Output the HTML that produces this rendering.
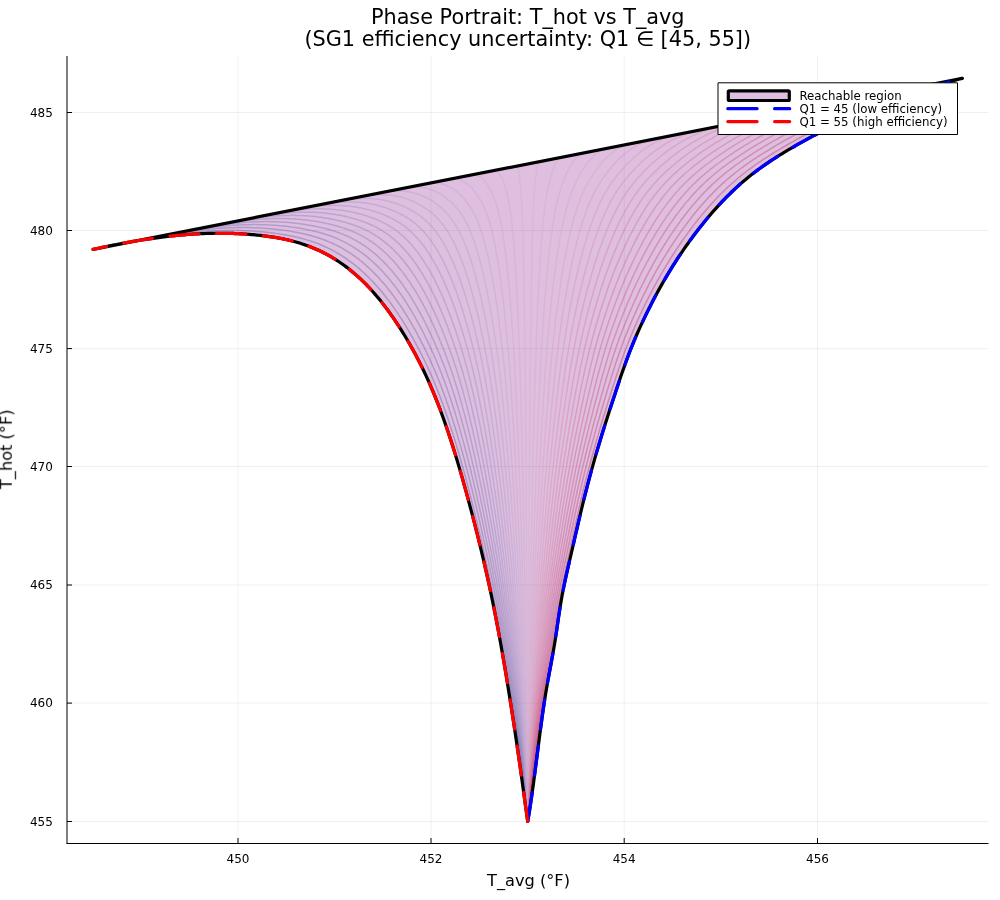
<!DOCTYPE html>
<html><head><meta charset="utf-8"><style>html,body{margin:0;padding:0;background:#fff;}svg{display:block;}</style></head>
<body><svg width="1000" height="900" viewBox="0 0 1000 900">
<rect width="1000" height="900" fill="#fff"/>
<g stroke="#000" stroke-opacity="0.06" stroke-width="1"><line x1="238.00" y1="56.0" x2="238.00" y2="843.5"/><line x1="431.00" y1="56.0" x2="431.00" y2="843.5"/><line x1="624.20" y1="56.0" x2="624.20" y2="843.5"/><line x1="817.50" y1="56.0" x2="817.50" y2="843.5"/><line x1="67.0" y1="821.50" x2="988.5" y2="821.50"/><line x1="67.0" y1="703.10" x2="988.5" y2="703.10"/><line x1="67.0" y1="585.00" x2="988.5" y2="585.00"/><line x1="67.0" y1="466.50" x2="988.5" y2="466.50"/><line x1="67.0" y1="348.60" x2="988.5" y2="348.60"/><line x1="67.0" y1="230.50" x2="988.5" y2="230.50"/><line x1="67.0" y1="112.50" x2="988.5" y2="112.50"/></g>
<g fill="none" stroke-width="1.5" stroke-opacity="0.35" stroke-linejoin="round"><path d="M527.70 821.50 L525.88 808.61 L524.06 795.23 L522.24 782.05 L520.43 769.09 L518.61 756.36 L516.79 743.85 L514.97 731.57 L513.15 719.53 L511.33 707.74 L509.51 696.19 L507.70 684.89 L505.88 673.84 L504.06 663.06 L502.24 652.55 L500.42 642.30 L498.60 632.33 L496.78 622.65 L494.96 613.25 L493.15 604.14 L491.33 595.31 L489.51 586.75 L487.69 578.43 L485.87 570.34 L484.05 562.44 L482.23 554.71 L480.42 547.15 L478.60 539.72 L476.78 532.41 L474.96 525.22 L473.14 518.14 L471.32 511.16 L469.50 504.29 L467.69 497.53 L465.87 490.88 L464.05 484.34 L462.23 477.92 L460.41 471.60 L458.59 465.41 L456.77 459.33 L454.96 453.38 L453.14 447.54 L451.32 441.84 L449.50 436.25 L447.68 430.79 L445.86 425.47 L444.04 420.27 L442.22 415.21 L440.41 410.28 L438.59 405.48 L436.77 400.82 L434.95 396.29 L433.13 391.88 L431.31 387.60 L429.49 383.42 L427.68 379.36 L425.86 375.40 L424.04 371.55 L422.22 367.79 L420.40 364.12 L418.58 360.54 L416.76 357.04 L414.95 353.62 L413.13 350.28 L411.31 347.01 L409.49 343.79 L407.67 340.65 L405.85 337.56 L404.03 334.54 L402.22 331.58 L400.40 328.68 L398.58 325.84 L396.76 323.06 L394.94 320.34 L393.12 317.68 L391.30 315.07 L389.48 312.52 L387.67 310.03 L385.85 307.59 L384.03 305.20 L382.21 302.88 L380.39 300.60 L378.57 298.38 L376.75 296.21 L374.94 294.09 L373.12 292.02 L371.30 290.00 L369.48 288.03 L367.66 286.11 L365.84 284.24 L364.02 282.41 L362.21 280.64 L360.39 278.91 L358.57 277.22 L356.75 275.58 L354.93 273.98 L353.11 272.43 L351.29 270.92 L349.48 269.45 L347.66 268.02 L345.84 266.64 L344.02 265.29 L342.20 263.99 L340.38 262.72 L338.56 261.49 L336.74 260.30 L334.93 259.14 L333.11 258.03 L331.29 256.94 L329.47 255.90 L327.65 254.88 L325.83 253.90 L324.01 252.96 L322.20 252.04 L320.38 251.16 L318.56 250.31 L316.74 249.49 L314.92 248.69 L313.10 247.93 L311.28 247.20 L309.47 246.49 L307.65 245.81 L305.83 245.16 L304.01 244.53 L302.19 243.93 L300.37 243.35 L298.55 242.79 L296.74 242.26 L294.92 241.75 L293.10 241.26 L291.28 240.80 L289.46 240.35 L287.64 239.92 L285.82 239.52 L284.01 239.13 L282.19 238.76 L280.37 238.40 L278.55 238.06 L276.73 237.74 L274.91 237.43 L273.09 237.14 L271.27 236.86 L269.46 236.60 L267.64 236.34 L265.82 236.10 L264.00 235.87 L262.18 235.65 L260.36 235.44 L258.54 235.24 L256.73 235.05 L254.91 234.87 L253.09 234.70 L251.27 234.54 L249.45 234.39 L247.63 234.25 L245.81 234.12 L244.00 234.00 L242.18 233.89 L240.36 233.78 L238.54 233.69 L236.72 233.60 L234.90 233.53 L233.08 233.46 L231.27 233.40 L229.45 233.36 L227.63 233.32 L225.81 233.28 L223.99 233.26 L222.17 233.25 L220.35 233.24 L218.53 233.24 L216.72 233.25 L214.90 233.27 L213.08 233.30 L211.26 233.34 L209.44 233.38 L207.62 233.43 L205.80 233.49 L203.99 233.56 L202.17 233.63 L200.35 233.72 L198.53 233.81 L196.71 233.90 L194.89 234.01 L193.07 234.12 L191.26 234.24 L189.44 234.37 L187.62 234.50 L185.80 234.64 L183.98 234.79 L182.16 234.94 L180.34 235.11 L178.53 235.27 L176.71 235.45 L174.89 235.63 L173.07 235.82 L171.25 236.01 L169.43 236.21 L167.61 236.42 L165.79 236.63 L163.98 236.85 L162.16 237.08 L160.34 237.31 L158.52 237.55 L156.70 237.79 L154.88 238.04 L153.06 238.29 L151.25 238.56 L149.43 238.82 L147.61 239.09 L145.79 239.37 L143.97 239.65 L142.15 239.94 L140.33 240.23 L138.52 240.53 L136.70 240.83 L134.88 241.14 L133.06 241.45 L131.24 241.77 L129.42 242.09 L127.60 242.41 L125.79 242.75 L123.97 243.08 L122.15 243.42 L120.33 243.76 L118.51 244.11 L116.69 244.47 L114.87 244.82 L113.05 245.18 L111.24 245.55 L109.42 245.92 L107.60 246.29 L105.78 246.66 L103.96 247.04 L102.14 247.43 L100.32 247.81 L98.51 248.20 L96.69 248.60 L94.87 248.99 L93.05 249.40" stroke="#326296"/><path d="M527.70 821.50 L525.97 808.67 L524.25 795.32 L522.52 782.15 L520.80 769.17 L519.07 756.40 L517.35 743.85 L515.62 731.53 L513.90 719.45 L512.17 707.63 L510.45 696.08 L508.72 684.80 L507.00 673.79 L505.27 663.04 L503.55 652.54 L501.82 642.28 L500.09 632.26 L498.37 622.50 L496.64 613.04 L494.92 603.90 L493.19 595.06 L491.47 586.50 L489.74 578.19 L488.02 570.10 L486.29 562.20 L484.57 554.47 L482.84 546.89 L481.12 539.45 L479.39 532.13 L477.66 524.92 L475.94 517.83 L474.21 510.84 L472.49 503.96 L470.76 497.20 L469.04 490.54 L467.31 484.00 L465.59 477.57 L463.86 471.25 L462.14 465.06 L460.41 458.98 L458.69 453.02 L456.96 447.19 L455.24 441.47 L453.51 435.88 L451.78 430.42 L450.06 425.08 L448.33 419.88 L446.61 414.80 L444.88 409.86 L443.16 405.04 L441.43 400.36 L439.71 395.81 L437.98 391.38 L436.26 387.07 L434.53 382.87 L432.81 378.79 L431.08 374.81 L429.35 370.93 L427.63 367.15 L425.90 363.47 L424.18 359.87 L422.45 356.36 L420.73 352.93 L419.00 349.57 L417.28 346.28 L415.55 343.05 L413.83 339.89 L412.10 336.79 L410.38 333.76 L408.65 330.78 L406.93 327.87 L405.20 325.01 L403.47 322.22 L401.75 319.48 L400.02 316.80 L398.30 314.18 L396.57 311.62 L394.85 309.11 L393.12 306.66 L391.40 304.26 L389.67 301.91 L387.95 299.62 L386.22 297.39 L384.50 295.20 L382.77 293.06 L381.04 290.98 L379.32 288.95 L377.59 286.96 L375.87 285.02 L374.14 283.13 L372.42 281.29 L370.69 279.50 L368.97 277.75 L367.24 276.04 L365.52 274.39 L363.79 272.77 L362.07 271.20 L360.34 269.67 L358.62 268.18 L356.89 266.73 L355.16 265.33 L353.44 263.96 L351.71 262.64 L349.99 261.35 L348.26 260.10 L346.54 258.89 L344.81 257.71 L343.09 256.57 L341.36 255.47 L339.64 254.40 L337.91 253.37 L336.19 252.37 L334.46 251.40 L332.73 250.46 L331.01 249.56 L329.28 248.69 L327.56 247.85 L325.83 247.03 L324.11 246.25 L322.38 245.49 L320.66 244.76 L318.93 244.06 L317.21 243.39 L315.48 242.74 L313.76 242.12 L312.03 241.52 L310.31 240.94 L308.58 240.39 L306.85 239.86 L305.13 239.35 L303.40 238.86 L301.68 238.39 L299.95 237.95 L298.23 237.52 L296.50 237.11 L294.78 236.72 L293.05 236.34 L291.33 235.98 L289.60 235.64 L287.88 235.31 L286.15 235.00 L284.42 234.70 L282.70 234.41 L280.97 234.14 L279.25 233.87 L277.52 233.62 L275.80 233.38 L274.07 233.15 L272.35 232.93 L270.62 232.72 L268.90 232.52 L267.17 232.32 L265.45 232.14 L263.72 231.97 L262.00 231.81 L260.27 231.65 L258.54 231.51 L256.82 231.38 L255.09 231.25 L253.37 231.13 L251.64 231.03 L249.92 230.93 L248.19 230.84 L246.47 230.76 L244.74 230.69 L243.02 230.63 L241.29 230.57 L239.57 230.53 L237.84 230.49 L236.11 230.46 L234.39 230.44 L232.66 230.43 L230.94 230.43 L229.21 230.43 L227.49 230.45 L225.76 230.47 L224.04 230.49 L222.31 230.53 L220.59 230.58 L218.86 230.63 L217.14 230.69 L215.41 230.75 L213.69 230.83 L211.96 230.91 L210.23 231.00 L208.51 231.10 L206.78 231.20 L205.06 231.31 L203.33 231.43 L201.61 231.55 L199.88 231.69 L198.16 231.82 L196.43 231.97 L194.71 232.12 L192.98 232.28 L191.26 232.45 L189.53 232.62 L187.80 232.79 L186.08 232.98 L184.35 233.17 L182.63 233.36 L180.90 233.57 L179.18 233.78 L177.45 233.99 L175.73 234.21 L174.00 234.44 L172.28 234.67 L170.55 234.90 L168.83 235.15 L167.10 235.39 L165.38 235.65 L163.65 235.91 L161.92 236.17 L160.20 236.44 L158.47 236.71 L156.75 236.99 L155.02 237.28 L153.30 237.57 L151.57 237.86 L149.85 238.16 L148.12 238.46 L146.40 238.77 L144.67 239.08 L142.95 239.40 L141.22 239.72 L139.49 240.04 L137.77 240.37 L136.04 240.71 L134.32 241.04 L132.59 241.39 L130.87 241.73 L129.14 242.08 L127.42 242.43 L125.69 242.79 L123.97 243.15 L122.24 243.51 L120.52 243.88 L118.79 244.25 L117.07 244.62 L115.34 245.02" stroke="#3c6b9d"/><path d="M527.70 821.50 L526.07 808.73 L524.44 795.41 L522.80 782.24 L521.17 769.25 L519.54 756.44 L517.91 743.85 L516.28 731.48 L514.64 719.37 L513.01 707.53 L511.38 695.98 L509.75 684.72 L508.11 673.74 L506.48 663.02 L504.85 652.53 L503.22 642.26 L501.59 632.19 L499.95 622.35 L498.32 612.83 L496.69 603.66 L495.06 594.81 L493.43 586.25 L491.79 577.94 L490.16 569.86 L488.53 561.96 L486.90 554.22 L485.27 546.64 L483.63 539.18 L482.00 531.85 L480.37 524.63 L478.74 517.52 L477.11 510.52 L475.47 503.64 L473.84 496.86 L472.21 490.20 L470.58 483.65 L468.94 477.22 L467.31 470.90 L465.68 464.70 L464.05 458.62 L462.42 452.66 L460.78 446.83 L459.15 441.11 L457.52 435.52 L455.89 430.05 L454.26 424.70 L452.62 419.49 L450.99 414.40 L449.36 409.44 L447.73 404.61 L446.10 399.91 L444.46 395.33 L442.83 390.88 L441.20 386.54 L439.57 382.32 L437.93 378.22 L436.30 374.22 L434.67 370.32 L433.04 366.52 L431.41 362.82 L429.77 359.21 L428.14 355.68 L426.51 352.23 L424.88 348.85 L423.25 345.55 L421.61 342.31 L419.98 339.13 L418.35 336.02 L416.72 332.97 L415.09 329.98 L413.45 327.05 L411.82 324.18 L410.19 321.37 L408.56 318.62 L406.93 315.93 L405.29 313.29 L403.66 310.72 L402.03 308.19 L400.40 305.73 L398.76 303.31 L397.13 300.95 L395.50 298.65 L393.87 296.40 L392.24 294.19 L390.60 292.04 L388.97 289.94 L387.34 287.89 L385.71 285.89 L384.08 283.94 L382.44 282.03 L380.81 280.17 L379.18 278.36 L377.55 276.59 L375.92 274.87 L374.28 273.19 L372.65 271.56 L371.02 269.97 L369.39 268.42 L367.75 266.91 L366.12 265.45 L364.49 264.02 L362.86 262.63 L361.23 261.29 L359.59 259.98 L357.96 258.71 L356.33 257.48 L354.70 256.28 L353.07 255.12 L351.43 254.00 L349.80 252.91 L348.17 251.85 L346.54 250.83 L344.91 249.84 L343.27 248.89 L341.64 247.96 L340.01 247.07 L338.38 246.20 L336.74 245.37 L335.11 244.57 L333.48 243.79 L331.85 243.04 L330.22 242.32 L328.58 241.62 L326.95 240.95 L325.32 240.31 L323.69 239.69 L322.06 239.09 L320.42 238.52 L318.79 237.97 L317.16 237.44 L315.53 236.93 L313.90 236.44 L312.26 235.97 L310.63 235.52 L309.00 235.09 L307.37 234.68 L305.74 234.28 L304.10 233.90 L302.47 233.54 L300.84 233.19 L299.21 232.85 L297.57 232.53 L295.94 232.22 L294.31 231.93 L292.68 231.64 L291.05 231.37 L289.41 231.11 L287.78 230.86 L286.15 230.61 L284.52 230.38 L282.89 230.16 L281.25 229.94 L279.62 229.74 L277.99 229.55 L276.36 229.36 L274.73 229.19 L273.09 229.02 L271.46 228.86 L269.83 228.72 L268.20 228.58 L266.56 228.45 L264.93 228.33 L263.30 228.22 L261.67 228.12 L260.04 228.02 L258.40 227.94 L256.77 227.86 L255.14 227.79 L253.51 227.73 L251.88 227.68 L250.24 227.64 L248.61 227.61 L246.98 227.58 L245.35 227.56 L243.72 227.55 L242.08 227.55 L240.45 227.56 L238.82 227.57 L237.19 227.59 L235.56 227.62 L233.92 227.66 L232.29 227.70 L230.66 227.76 L229.03 227.81 L227.39 227.88 L225.76 227.95 L224.13 228.04 L222.50 228.12 L220.87 228.22 L219.23 228.32 L217.60 228.43 L215.97 228.54 L214.34 228.67 L212.71 228.80 L211.07 228.93 L209.44 229.07 L207.81 229.22 L206.18 229.38 L204.55 229.54 L202.91 229.70 L201.28 229.88 L199.65 230.06 L198.02 230.24 L196.38 230.43 L194.75 230.63 L193.12 230.83 L191.49 231.04 L189.86 231.25 L188.22 231.47 L186.59 231.70 L184.96 231.93 L183.33 232.16 L181.70 232.40 L180.06 232.65 L178.43 232.90 L176.80 233.16 L175.17 233.42 L173.54 233.68 L171.90 233.95 L170.27 234.23 L168.64 234.51 L167.01 234.79 L165.38 235.08 L163.74 235.38 L162.11 235.67 L160.48 235.97 L158.85 236.28 L157.21 236.59 L155.58 236.91 L153.95 237.22 L152.32 237.55 L150.69 237.87 L149.05 238.20 L147.42 238.54 L145.79 238.87 L144.16 239.21 L142.53 239.56 L140.89 239.90 L139.26 240.26 L137.63 240.63" stroke="#4774a4"/><path d="M527.70 821.50 L526.16 808.79 L524.62 795.50 L523.08 782.34 L521.54 769.32 L520.01 756.48 L518.47 743.84 L516.93 731.44 L515.39 719.29 L513.85 707.43 L512.31 695.88 L510.77 684.64 L509.23 673.69 L507.70 662.99 L506.16 652.52 L504.62 642.23 L503.08 632.11 L501.54 622.20 L500.00 612.62 L498.46 603.42 L496.92 594.56 L495.38 586.00 L493.85 577.70 L492.31 569.62 L490.77 561.72 L489.23 553.98 L487.69 546.38 L486.15 538.92 L484.61 531.57 L483.07 524.33 L481.54 517.21 L480.00 510.20 L478.46 503.31 L476.92 496.53 L475.38 489.86 L473.84 483.31 L472.30 476.87 L470.76 470.55 L469.22 464.35 L467.69 458.27 L466.15 452.31 L464.61 446.47 L463.07 440.75 L461.53 435.15 L459.99 429.67 L458.45 424.32 L456.91 419.09 L455.37 413.99 L453.84 409.02 L452.30 404.17 L450.76 399.45 L449.22 394.85 L447.68 390.38 L446.14 386.02 L444.60 381.78 L443.06 377.64 L441.53 373.62 L439.99 369.70 L438.45 365.89 L436.91 362.17 L435.37 358.54 L433.83 354.99 L432.29 351.53 L430.75 348.14 L429.21 344.82 L427.68 341.57 L426.14 338.38 L424.60 335.25 L423.06 332.18 L421.52 329.18 L419.98 326.24 L418.44 323.35 L416.90 320.53 L415.37 317.76 L413.83 315.06 L412.29 312.41 L410.75 309.81 L409.21 307.28 L407.67 304.80 L406.13 302.37 L404.59 299.99 L403.05 297.67 L401.52 295.40 L399.98 293.19 L398.44 291.02 L396.90 288.90 L395.36 286.84 L393.82 284.82 L392.28 282.85 L390.74 280.93 L389.21 279.05 L387.67 277.22 L386.13 275.44 L384.59 273.69 L383.05 272.00 L381.51 270.35 L379.97 268.74 L378.43 267.17 L376.89 265.64 L375.36 264.16 L373.82 262.71 L372.28 261.31 L370.74 259.94 L369.20 258.61 L367.66 257.32 L366.12 256.07 L364.58 254.85 L363.05 253.67 L361.51 252.53 L359.97 251.42 L358.43 250.34 L356.89 249.30 L355.35 248.29 L353.81 247.31 L352.27 246.36 L350.73 245.45 L349.20 244.56 L347.66 243.71 L346.12 242.88 L344.58 242.09 L343.04 241.32 L341.50 240.57 L339.96 239.86 L338.42 239.17 L336.88 238.50 L335.35 237.86 L333.81 237.24 L332.27 236.65 L330.73 236.07 L329.19 235.52 L327.65 234.99 L326.11 234.48 L324.57 234.00 L323.04 233.52 L321.50 233.07 L319.96 232.64 L318.42 232.22 L316.88 231.82 L315.34 231.43 L313.80 231.06 L312.26 230.71 L310.72 230.37 L309.19 230.04 L307.65 229.72 L306.11 229.41 L304.57 229.12 L303.03 228.84 L301.49 228.56 L299.95 228.30 L298.41 228.04 L296.88 227.80 L295.34 227.56 L293.80 227.34 L292.26 227.12 L290.72 226.92 L289.18 226.72 L287.64 226.53 L286.10 226.35 L284.56 226.18 L283.03 226.02 L281.49 225.87 L279.95 225.73 L278.41 225.60 L276.87 225.47 L275.33 225.36 L273.79 225.25 L272.25 225.15 L270.72 225.06 L269.18 224.98 L267.64 224.91 L266.10 224.84 L264.56 224.78 L263.02 224.74 L261.48 224.70 L259.94 224.66 L258.40 224.64 L256.87 224.62 L255.33 224.61 L253.79 224.61 L252.25 224.62 L250.71 224.63 L249.17 224.65 L247.63 224.68 L246.09 224.72 L244.55 224.76 L243.02 224.81 L241.48 224.87 L239.94 224.94 L238.40 225.01 L236.86 225.09 L235.32 225.17 L233.78 225.26 L232.24 225.36 L230.71 225.47 L229.17 225.58 L227.63 225.70 L226.09 225.82 L224.55 225.96 L223.01 226.09 L221.47 226.24 L219.93 226.39 L218.39 226.54 L216.86 226.71 L215.32 226.87 L213.78 227.05 L212.24 227.23 L210.70 227.41 L209.16 227.60 L207.62 227.80 L206.08 228.00 L204.55 228.21 L203.01 228.42 L201.47 228.64 L199.93 228.86 L198.39 229.09 L196.85 229.32 L195.31 229.56 L193.77 229.80 L192.23 230.05 L190.70 230.30 L189.16 230.56 L187.62 230.82 L186.08 231.08 L184.54 231.35 L183.00 231.63 L181.46 231.91 L179.92 232.19 L178.39 232.48 L176.85 232.77 L175.31 233.06 L173.77 233.36 L172.23 233.66 L170.69 233.97 L169.15 234.28 L167.61 234.60 L166.07 234.91 L164.54 235.23 L163.00 235.56 L161.46 235.89 L159.92 236.25" stroke="#517dac"/><path d="M527.70 821.50 L526.25 808.84 L524.81 795.60 L523.36 782.44 L521.92 769.40 L520.47 756.52 L519.03 743.84 L517.58 731.39 L516.14 719.20 L514.69 707.32 L513.24 695.77 L511.80 684.56 L510.35 673.64 L508.91 662.97 L507.46 652.51 L506.02 642.21 L504.57 632.04 L503.13 622.05 L501.68 612.41 L500.23 603.17 L498.79 594.30 L497.34 585.75 L495.90 577.45 L494.45 569.38 L493.01 561.48 L491.56 553.73 L490.12 546.13 L488.67 538.65 L487.22 531.29 L485.78 524.04 L484.33 516.91 L482.89 509.89 L481.44 502.98 L480.00 496.19 L478.55 489.52 L477.11 482.96 L475.66 476.52 L474.21 470.20 L472.77 464.00 L471.32 457.91 L469.88 451.95 L468.43 446.11 L466.99 440.38 L465.54 434.78 L464.09 429.30 L462.65 423.94 L461.20 418.70 L459.76 413.59 L458.31 408.59 L456.87 403.73 L455.42 398.99 L453.98 394.37 L452.53 389.87 L451.08 385.49 L449.64 381.23 L448.19 377.07 L446.75 373.03 L445.30 369.09 L443.86 365.26 L442.41 361.52 L440.97 357.87 L439.52 354.31 L438.07 350.83 L436.63 347.43 L435.18 344.09 L433.74 340.82 L432.29 337.62 L430.85 334.48 L429.40 331.40 L427.96 328.38 L426.51 325.42 L425.06 322.52 L423.62 319.68 L422.17 316.91 L420.73 314.18 L419.28 311.52 L417.84 308.91 L416.39 306.36 L414.95 303.86 L413.50 301.42 L412.05 299.03 L410.61 296.70 L409.16 294.41 L407.72 292.18 L406.27 290.00 L404.83 287.87 L403.38 285.78 L401.94 283.75 L400.49 281.76 L399.04 279.82 L397.60 277.93 L396.15 276.08 L394.71 274.28 L393.26 272.52 L391.82 270.81 L390.37 269.13 L388.93 267.50 L387.48 265.92 L386.03 264.37 L384.59 262.87 L383.14 261.40 L381.70 259.98 L380.25 258.59 L378.81 257.24 L377.36 255.93 L375.92 254.66 L374.47 253.42 L373.02 252.22 L371.58 251.06 L370.13 249.92 L368.69 248.83 L367.24 247.76 L365.80 246.73 L364.35 245.73 L362.91 244.77 L361.46 243.83 L360.01 242.92 L358.57 242.05 L357.12 241.20 L355.68 240.38 L354.23 239.59 L352.79 238.83 L351.34 238.09 L349.89 237.38 L348.45 236.69 L347.00 236.03 L345.56 235.39 L344.11 234.77 L342.67 234.18 L341.22 233.61 L339.78 233.06 L338.33 232.53 L336.88 232.02 L335.44 231.53 L333.99 231.06 L332.55 230.60 L331.10 230.16 L329.66 229.74 L328.21 229.33 L326.77 228.94 L325.32 228.56 L323.87 228.20 L322.43 227.85 L320.98 227.51 L319.54 227.19 L318.09 226.87 L316.65 226.56 L315.20 226.27 L313.76 225.98 L312.31 225.71 L310.86 225.44 L309.42 225.18 L307.97 224.94 L306.53 224.70 L305.08 224.47 L303.64 224.25 L302.19 224.04 L300.75 223.84 L299.30 223.65 L297.85 223.47 L296.41 223.29 L294.96 223.13 L293.52 222.97 L292.07 222.83 L290.63 222.69 L289.18 222.56 L287.74 222.44 L286.29 222.33 L284.84 222.22 L283.40 222.13 L281.95 222.04 L280.51 221.96 L279.06 221.89 L277.62 221.83 L276.17 221.77 L274.73 221.72 L273.28 221.68 L271.83 221.65 L270.39 221.63 L268.94 221.61 L267.50 221.60 L266.05 221.60 L264.61 221.61 L263.16 221.62 L261.72 221.64 L260.27 221.67 L258.82 221.71 L257.38 221.75 L255.93 221.80 L254.49 221.85 L253.04 221.91 L251.60 221.98 L250.15 222.06 L248.71 222.14 L247.26 222.23 L245.81 222.33 L244.37 222.43 L242.92 222.54 L241.48 222.65 L240.03 222.77 L238.59 222.90 L237.14 223.03 L235.70 223.17 L234.25 223.31 L232.80 223.47 L231.36 223.62 L229.91 223.78 L228.47 223.95 L227.02 224.12 L225.58 224.30 L224.13 224.49 L222.68 224.67 L221.24 224.87 L219.79 225.07 L218.35 225.27 L216.90 225.48 L215.46 225.70 L214.01 225.92 L212.57 226.14 L211.12 226.37 L209.67 226.60 L208.23 226.84 L206.78 227.08 L205.34 227.33 L203.89 227.58 L202.45 227.84 L201.00 228.10 L199.56 228.36 L198.11 228.63 L196.66 228.90 L195.22 229.18 L193.77 229.46 L192.33 229.74 L190.88 230.03 L189.44 230.32 L187.99 230.61 L186.55 230.91 L185.10 231.21 L183.65 231.52 L182.21 231.86" stroke="#5b86b3"/><path d="M527.70 821.50 L526.35 808.90 L525.00 795.69 L523.64 782.53 L522.29 769.48 L520.94 756.56 L519.59 743.84 L518.23 731.34 L516.88 719.12 L515.53 707.22 L514.18 695.67 L512.82 684.48 L511.47 673.59 L510.12 662.95 L508.77 652.50 L507.42 642.19 L506.06 631.97 L504.71 621.90 L503.36 612.20 L502.01 602.93 L500.65 594.05 L499.30 585.50 L497.95 577.21 L496.60 569.14 L495.24 561.24 L493.89 553.49 L492.54 545.87 L491.19 538.38 L489.84 531.01 L488.48 523.75 L487.13 516.60 L485.78 509.57 L484.43 502.65 L483.07 495.85 L481.72 489.18 L480.37 482.61 L479.02 476.17 L477.66 469.85 L476.31 463.65 L474.96 457.56 L473.61 451.59 L472.26 445.75 L470.90 440.02 L469.55 434.41 L468.20 428.92 L466.85 423.56 L465.49 418.31 L464.14 413.18 L462.79 408.17 L461.44 403.29 L460.08 398.53 L458.73 393.89 L457.38 389.37 L456.03 384.97 L454.68 380.68 L453.32 376.50 L451.97 372.43 L450.62 368.48 L449.27 364.62 L447.91 360.87 L446.56 357.20 L445.21 353.63 L443.86 350.13 L442.50 346.71 L441.15 343.36 L439.80 340.08 L438.45 336.86 L437.10 333.70 L435.74 330.61 L434.39 327.58 L433.04 324.60 L431.69 321.69 L430.33 318.84 L428.98 316.05 L427.63 313.31 L426.28 310.63 L424.92 308.01 L423.57 305.45 L422.22 302.93 L420.87 300.48 L419.52 298.07 L418.16 295.72 L416.81 293.42 L415.46 291.17 L414.11 288.98 L412.75 286.83 L411.40 284.73 L410.05 282.68 L408.70 280.68 L407.34 278.72 L405.99 276.81 L404.64 274.94 L403.29 273.12 L401.94 271.34 L400.58 269.61 L399.23 267.92 L397.88 266.27 L396.53 264.67 L395.17 263.10 L393.82 261.58 L392.47 260.09 L391.12 258.65 L389.76 257.24 L388.41 255.87 L387.06 254.54 L385.71 253.25 L384.36 251.99 L383.00 250.77 L381.65 249.58 L380.30 248.43 L378.95 247.31 L377.59 246.23 L376.24 245.18 L374.89 244.16 L373.54 243.17 L372.18 242.21 L370.83 241.28 L369.48 240.39 L368.13 239.52 L366.78 238.68 L365.42 237.87 L364.07 237.08 L362.72 236.32 L361.37 235.59 L360.01 234.88 L358.66 234.20 L357.31 233.54 L355.96 232.90 L354.60 232.29 L353.25 231.70 L351.90 231.13 L350.55 230.57 L349.20 230.04 L347.84 229.53 L346.49 229.04 L345.14 228.56 L343.79 228.10 L342.43 227.66 L341.08 227.23 L339.73 226.82 L338.38 226.42 L337.02 226.04 L335.67 225.66 L334.32 225.30 L332.97 224.96 L331.62 224.62 L330.26 224.29 L328.91 223.97 L327.56 223.67 L326.21 223.37 L324.85 223.08 L323.50 222.80 L322.15 222.53 L320.80 222.27 L319.44 222.02 L318.09 221.78 L316.74 221.55 L315.39 221.33 L314.04 221.12 L312.68 220.91 L311.33 220.72 L309.98 220.53 L308.63 220.35 L307.27 220.18 L305.92 220.02 L304.57 219.87 L303.22 219.73 L301.86 219.59 L300.51 219.47 L299.16 219.35 L297.81 219.24 L296.46 219.14 L295.10 219.04 L293.75 218.96 L292.40 218.88 L291.05 218.81 L289.69 218.75 L288.34 218.69 L286.99 218.65 L285.64 218.61 L284.28 218.58 L282.93 218.55 L281.58 218.53 L280.23 218.53 L278.88 218.52 L277.52 218.53 L276.17 218.54 L274.82 218.56 L273.47 218.58 L272.11 218.62 L270.76 218.66 L269.41 218.70 L268.06 218.76 L266.70 218.82 L265.35 218.88 L264.00 218.95 L262.65 219.03 L261.30 219.12 L259.94 219.21 L258.59 219.31 L257.24 219.41 L255.89 219.52 L254.53 219.64 L253.18 219.76 L251.83 219.88 L250.48 220.02 L249.12 220.16 L247.77 220.30 L246.42 220.45 L245.07 220.60 L243.72 220.76 L242.36 220.93 L241.01 221.10 L239.66 221.28 L238.31 221.46 L236.95 221.65 L235.60 221.84 L234.25 222.03 L232.90 222.23 L231.54 222.44 L230.19 222.65 L228.84 222.86 L227.49 223.08 L226.14 223.31 L224.78 223.54 L223.43 223.77 L222.08 224.00 L220.73 224.24 L219.37 224.49 L218.02 224.74 L216.67 224.99 L215.32 225.25 L213.96 225.51 L212.61 225.77 L211.26 226.04 L209.91 226.31 L208.56 226.59 L207.20 226.87 L205.85 227.15 L204.50 227.48" stroke="#658fba"/><path d="M527.70 821.50 L526.44 808.96 L525.18 795.78 L523.92 782.63 L522.66 769.55 L521.40 756.61 L520.15 743.84 L518.89 731.30 L517.63 719.04 L516.37 707.11 L515.11 695.57 L513.85 684.40 L512.59 673.54 L511.33 662.93 L510.07 652.49 L508.81 642.17 L507.56 631.89 L506.30 621.75 L505.04 611.99 L503.78 602.69 L502.52 593.80 L501.26 585.25 L500.00 576.97 L498.74 568.90 L497.48 561.00 L496.22 553.24 L494.96 545.62 L493.71 538.12 L492.45 530.73 L491.19 523.45 L489.93 516.29 L488.67 509.25 L487.41 502.32 L486.15 495.52 L484.89 488.83 L483.63 482.27 L482.37 475.82 L481.12 469.50 L479.86 463.29 L478.60 457.20 L477.34 451.24 L476.08 445.39 L474.82 439.66 L473.56 434.04 L472.30 428.55 L471.04 423.17 L469.78 417.92 L468.52 412.78 L467.27 407.75 L466.01 402.85 L464.75 398.07 L463.49 393.41 L462.23 388.87 L460.97 384.44 L459.71 380.13 L458.45 375.93 L457.19 371.84 L455.93 367.86 L454.68 363.99 L453.42 360.22 L452.16 356.54 L450.90 352.94 L449.64 349.43 L448.38 346.00 L447.12 342.64 L445.86 339.34 L444.60 336.10 L443.34 332.93 L442.09 329.82 L440.83 326.78 L439.57 323.79 L438.31 320.86 L437.05 318.00 L435.79 315.19 L434.53 312.44 L433.27 309.75 L432.01 307.11 L430.75 304.53 L429.49 302.00 L428.24 299.53 L426.98 297.11 L425.72 294.75 L424.46 292.43 L423.20 290.17 L421.94 287.96 L420.68 285.79 L419.42 283.68 L418.16 281.61 L416.90 279.59 L415.65 277.61 L414.39 275.69 L413.13 273.80 L411.87 271.96 L410.61 270.17 L409.35 268.42 L408.09 266.71 L406.83 265.04 L405.57 263.42 L404.31 261.83 L403.05 260.29 L401.80 258.78 L400.54 257.32 L399.28 255.89 L398.02 254.50 L396.76 253.15 L395.50 251.84 L394.24 250.56 L392.98 249.32 L391.72 248.11 L390.46 246.94 L389.21 245.80 L387.95 244.69 L386.69 243.62 L385.43 242.58 L384.17 241.57 L382.91 240.59 L381.65 239.64 L380.39 238.72 L379.13 237.83 L377.87 236.97 L376.61 236.14 L375.36 235.34 L374.10 234.56 L372.84 233.80 L371.58 233.07 L370.32 232.37 L369.06 231.69 L367.80 231.03 L366.54 230.40 L365.28 229.78 L364.02 229.19 L362.77 228.62 L361.51 228.07 L360.25 227.53 L358.99 227.02 L357.73 226.52 L356.47 226.04 L355.21 225.58 L353.95 225.13 L352.69 224.70 L351.43 224.28 L350.17 223.87 L348.92 223.48 L347.66 223.10 L346.40 222.73 L345.14 222.37 L343.88 222.02 L342.62 221.68 L341.36 221.35 L340.10 221.03 L338.84 220.72 L337.58 220.42 L336.33 220.13 L335.07 219.85 L333.81 219.58 L332.55 219.32 L331.29 219.06 L330.03 218.82 L328.77 218.58 L327.51 218.36 L326.25 218.14 L324.99 217.93 L323.73 217.73 L322.48 217.54 L321.22 217.36 L319.96 217.18 L318.70 217.02 L317.44 216.86 L316.18 216.71 L314.92 216.57 L313.66 216.44 L312.40 216.31 L311.14 216.20 L309.89 216.09 L308.63 215.99 L307.37 215.90 L306.11 215.81 L304.85 215.73 L303.59 215.66 L302.33 215.60 L301.07 215.55 L299.81 215.50 L298.55 215.46 L297.29 215.43 L296.04 215.40 L294.78 215.39 L293.52 215.37 L292.26 215.37 L291.00 215.37 L289.74 215.38 L288.48 215.40 L287.22 215.42 L285.96 215.45 L284.70 215.49 L283.45 215.53 L282.19 215.58 L280.93 215.64 L279.67 215.70 L278.41 215.77 L277.15 215.84 L275.89 215.92 L274.63 216.01 L273.37 216.10 L272.11 216.20 L270.86 216.30 L269.60 216.41 L268.34 216.53 L267.08 216.65 L265.82 216.77 L264.56 216.91 L263.30 217.04 L262.04 217.19 L260.78 217.33 L259.52 217.49 L258.26 217.65 L257.01 217.81 L255.75 217.98 L254.49 218.15 L253.23 218.33 L251.97 218.51 L250.71 218.70 L249.45 218.89 L248.19 219.08 L246.93 219.28 L245.67 219.49 L244.42 219.70 L243.16 219.91 L241.90 220.13 L240.64 220.35 L239.38 220.58 L238.12 220.81 L236.86 221.04 L235.60 221.28 L234.34 221.52 L233.08 221.76 L231.82 222.01 L230.57 222.26 L229.31 222.52 L228.05 222.78 L226.79 223.09" stroke="#7197c0"/><path d="M527.70 821.50 L526.53 809.02 L525.37 795.88 L524.20 782.73 L523.04 769.63 L521.87 756.65 L520.71 743.83 L519.54 731.25 L518.37 718.96 L517.21 707.01 L516.04 695.47 L514.88 684.32 L513.71 673.49 L512.54 662.90 L511.38 652.48 L510.21 642.15 L509.05 631.82 L507.88 621.60 L506.72 611.78 L505.55 602.45 L504.38 593.55 L503.22 584.99 L502.05 576.72 L500.89 568.66 L499.72 560.76 L498.56 553.00 L497.39 545.37 L496.22 537.85 L495.06 530.45 L493.89 523.16 L492.73 515.99 L491.56 508.93 L490.39 502.00 L489.23 495.18 L488.06 488.49 L486.90 481.92 L485.73 475.48 L484.57 469.15 L483.40 462.94 L482.23 456.85 L481.07 450.88 L479.90 445.03 L478.74 439.29 L477.57 433.68 L476.41 428.18 L475.24 422.79 L474.07 417.52 L472.91 412.37 L471.74 407.33 L470.58 402.41 L469.41 397.61 L468.25 392.93 L467.08 388.37 L465.91 383.92 L464.75 379.58 L463.58 375.36 L462.42 371.25 L461.25 367.25 L460.08 363.36 L458.92 359.57 L457.75 355.87 L456.59 352.26 L455.42 348.74 L454.26 345.29 L453.09 341.91 L451.92 338.59 L450.76 335.34 L449.59 332.16 L448.43 329.04 L447.26 325.97 L446.10 322.97 L444.93 320.03 L443.76 317.15 L442.60 314.33 L441.43 311.57 L440.27 308.86 L439.10 306.21 L437.93 303.61 L436.77 301.07 L435.60 298.59 L434.44 296.15 L433.27 293.77 L432.11 291.44 L430.94 289.16 L429.77 286.93 L428.61 284.75 L427.44 282.62 L426.28 280.54 L425.11 278.50 L423.95 276.51 L422.78 274.57 L421.61 272.66 L420.45 270.81 L419.28 268.99 L418.12 267.22 L416.95 265.50 L415.78 263.81 L414.62 262.17 L413.45 260.56 L412.29 259.00 L411.12 257.48 L409.96 255.99 L408.79 254.54 L407.62 253.14 L406.46 251.76 L405.29 250.43 L404.13 249.13 L402.96 247.87 L401.80 246.64 L400.63 245.44 L399.46 244.28 L398.30 243.16 L397.13 242.06 L395.97 241.00 L394.80 239.97 L393.64 238.97 L392.47 238.00 L391.30 237.06 L390.14 236.15 L388.97 235.27 L387.81 234.42 L386.64 233.59 L385.47 232.79 L384.31 232.01 L383.14 231.27 L381.98 230.54 L380.81 229.84 L379.65 229.16 L378.48 228.50 L377.31 227.87 L376.15 227.26 L374.98 226.66 L373.82 226.09 L372.65 225.54 L371.49 225.00 L370.32 224.48 L369.15 223.98 L367.99 223.50 L366.82 223.03 L365.66 222.57 L364.49 222.13 L363.32 221.70 L362.16 221.29 L360.99 220.89 L359.83 220.50 L358.66 220.12 L357.50 219.75 L356.33 219.39 L355.16 219.04 L354.00 218.70 L352.83 218.36 L351.67 218.04 L350.50 217.73 L349.34 217.43 L348.17 217.13 L347.00 216.85 L345.84 216.57 L344.67 216.31 L343.51 216.05 L342.34 215.80 L341.17 215.56 L340.01 215.33 L338.84 215.11 L337.68 214.90 L336.51 214.69 L335.35 214.49 L334.18 214.31 L333.01 214.13 L331.85 213.96 L330.68 213.79 L329.52 213.64 L328.35 213.49 L327.19 213.35 L326.02 213.22 L324.85 213.10 L323.69 212.98 L322.52 212.87 L321.36 212.77 L320.19 212.68 L319.03 212.60 L317.86 212.52 L316.69 212.45 L315.53 212.39 L314.36 212.33 L313.20 212.28 L312.03 212.24 L310.86 212.21 L309.70 212.18 L308.53 212.16 L307.37 212.15 L306.20 212.14 L305.04 212.14 L303.87 212.15 L302.70 212.16 L301.54 212.18 L300.37 212.21 L299.21 212.24 L298.04 212.28 L296.88 212.32 L295.71 212.38 L294.54 212.43 L293.38 212.50 L292.21 212.57 L291.05 212.64 L289.88 212.72 L288.71 212.81 L287.55 212.90 L286.38 213.00 L285.22 213.10 L284.05 213.21 L282.89 213.32 L281.72 213.44 L280.55 213.57 L279.39 213.70 L278.22 213.83 L277.06 213.97 L275.89 214.12 L274.73 214.27 L273.56 214.42 L272.39 214.58 L271.23 214.74 L270.06 214.91 L268.90 215.08 L267.73 215.26 L266.56 215.44 L265.40 215.63 L264.23 215.82 L263.07 216.01 L261.90 216.21 L260.74 216.42 L259.57 216.62 L258.40 216.83 L257.24 217.05 L256.07 217.27 L254.91 217.49 L253.74 217.71 L252.58 217.94 L251.41 218.17 L250.24 218.41 L249.08 218.71" stroke="#7c9fc6"/><path d="M527.70 821.50 L526.63 809.08 L525.55 795.97 L524.48 782.82 L523.41 769.71 L522.34 756.69 L521.26 743.83 L520.19 731.20 L519.12 718.87 L518.05 706.91 L516.97 695.36 L515.90 684.24 L514.83 673.44 L513.76 662.88 L512.68 652.47 L511.61 642.12 L510.54 631.74 L509.47 621.45 L508.39 611.58 L507.32 602.21 L506.25 593.30 L505.18 584.74 L504.10 576.48 L503.03 568.42 L501.96 560.52 L500.89 552.75 L499.81 545.11 L498.74 537.58 L497.67 530.17 L496.60 522.86 L495.52 515.68 L494.45 508.61 L493.38 501.67 L492.31 494.85 L491.23 488.15 L490.16 481.58 L489.09 475.13 L488.02 468.80 L486.94 462.59 L485.87 456.49 L484.80 450.52 L483.73 444.67 L482.65 438.93 L481.58 433.31 L480.51 427.80 L479.44 422.41 L478.36 417.13 L477.29 411.97 L476.22 406.91 L475.15 401.98 L474.07 397.16 L473.00 392.45 L471.93 387.86 L470.86 383.39 L469.78 379.03 L468.71 374.79 L467.64 370.65 L466.57 366.63 L465.49 362.72 L464.42 358.91 L463.35 355.20 L462.28 351.58 L461.20 348.04 L460.13 344.57 L459.06 341.18 L457.99 337.85 L456.91 334.59 L455.84 331.39 L454.77 328.25 L453.70 325.17 L452.62 322.16 L451.55 319.20 L450.48 316.31 L449.41 313.47 L448.33 310.69 L447.26 307.97 L446.19 305.31 L445.12 302.70 L444.04 300.14 L442.97 297.64 L441.90 295.19 L440.83 292.80 L439.75 290.45 L438.68 288.16 L437.61 285.91 L436.54 283.72 L435.46 281.57 L434.39 279.47 L433.32 277.41 L432.25 275.41 L431.17 273.44 L430.10 271.53 L429.03 269.65 L427.96 267.82 L426.88 266.03 L425.81 264.29 L424.74 262.58 L423.67 260.92 L422.59 259.29 L421.52 257.71 L420.45 256.17 L419.38 254.66 L418.30 253.20 L417.23 251.77 L416.16 250.37 L415.09 249.02 L414.01 247.70 L412.94 246.42 L411.87 245.17 L410.80 243.95 L409.72 242.77 L408.65 241.62 L407.58 240.51 L406.51 239.42 L405.43 238.37 L404.36 237.35 L403.29 236.36 L402.22 235.40 L401.14 234.47 L400.07 233.57 L399.00 232.69 L397.93 231.84 L396.85 231.02 L395.78 230.23 L394.71 229.46 L393.64 228.71 L392.56 227.99 L391.49 227.29 L390.42 226.61 L389.35 225.96 L388.27 225.32 L387.20 224.71 L386.13 224.12 L385.05 223.54 L383.98 222.98 L382.91 222.44 L381.84 221.92 L380.76 221.42 L379.69 220.92 L378.62 220.45 L377.55 219.99 L376.47 219.54 L375.40 219.10 L374.33 218.68 L373.26 218.27 L372.18 217.87 L371.11 217.48 L370.04 217.09 L368.97 216.72 L367.89 216.36 L366.82 216.01 L365.75 215.66 L364.68 215.33 L363.60 215.00 L362.53 214.69 L361.46 214.38 L360.39 214.08 L359.31 213.80 L358.24 213.52 L357.17 213.25 L356.10 212.98 L355.02 212.73 L353.95 212.49 L352.88 212.25 L351.81 212.02 L350.73 211.81 L349.66 211.59 L348.59 211.39 L347.52 211.20 L346.44 211.01 L345.37 210.84 L344.30 210.67 L343.23 210.51 L342.15 210.35 L341.08 210.21 L340.01 210.07 L338.94 209.94 L337.86 209.82 L336.79 209.70 L335.72 209.59 L334.65 209.49 L333.57 209.40 L332.50 209.31 L331.43 209.24 L330.36 209.16 L329.28 209.10 L328.21 209.04 L327.14 208.99 L326.07 208.95 L324.99 208.91 L323.92 208.88 L322.85 208.86 L321.78 208.85 L320.70 208.84 L319.63 208.83 L318.56 208.84 L317.49 208.84 L316.41 208.86 L315.34 208.88 L314.27 208.91 L313.20 208.94 L312.12 208.98 L311.05 209.03 L309.98 209.08 L308.91 209.14 L307.83 209.20 L306.76 209.27 L305.69 209.35 L304.62 209.43 L303.54 209.51 L302.47 209.60 L301.40 209.70 L300.33 209.80 L299.25 209.91 L298.18 210.02 L297.11 210.13 L296.04 210.26 L294.96 210.38 L293.89 210.51 L292.82 210.65 L291.75 210.79 L290.67 210.93 L289.60 211.08 L288.53 211.24 L287.46 211.40 L286.38 211.56 L285.31 211.73 L284.24 211.90 L283.17 212.07 L282.09 212.25 L281.02 212.44 L279.95 212.62 L278.88 212.82 L277.80 213.01 L276.73 213.21 L275.66 213.41 L274.59 213.62 L273.51 213.83 L272.44 214.04 L271.37 214.32" stroke="#87a8cc"/><path d="M527.70 821.50 L526.72 809.13 L525.74 796.06 L524.76 782.92 L523.78 769.78 L522.80 756.73 L521.82 743.83 L520.85 731.16 L519.87 718.79 L518.89 706.80 L517.91 695.26 L516.93 684.16 L515.95 673.39 L514.97 662.86 L513.99 652.47 L513.01 642.10 L512.03 631.67 L511.05 621.30 L510.07 611.37 L509.09 601.97 L508.11 593.05 L507.14 584.49 L506.16 576.23 L505.18 568.18 L504.20 560.28 L503.22 552.51 L502.24 544.86 L501.26 537.32 L500.28 529.89 L499.30 522.57 L498.32 515.37 L497.34 508.29 L496.36 501.34 L495.38 494.51 L494.41 487.81 L493.43 481.23 L492.45 474.78 L491.47 468.45 L490.49 462.23 L489.51 456.14 L488.53 450.17 L487.55 444.31 L486.57 438.57 L485.59 432.94 L484.61 427.43 L483.63 422.03 L482.65 416.74 L481.67 411.56 L480.70 406.49 L479.72 401.54 L478.74 396.70 L477.76 391.97 L476.78 387.36 L475.80 382.86 L474.82 378.48 L473.84 374.21 L472.86 370.06 L471.88 366.02 L470.90 362.09 L469.92 358.26 L468.94 354.53 L467.97 350.90 L466.99 347.34 L466.01 343.86 L465.03 340.45 L464.05 337.11 L463.07 333.83 L462.09 330.61 L461.11 327.46 L460.13 324.37 L459.15 321.34 L458.17 318.37 L457.19 315.47 L456.21 312.61 L455.24 309.82 L454.26 307.09 L453.28 304.41 L452.30 301.78 L451.32 299.21 L450.34 296.69 L449.36 294.23 L448.38 291.82 L447.40 289.46 L446.42 287.15 L445.44 284.89 L444.46 282.68 L443.48 280.51 L442.50 278.40 L441.53 276.33 L440.55 274.30 L439.57 272.32 L438.59 270.39 L437.61 268.49 L436.63 266.64 L435.65 264.84 L434.67 263.07 L433.69 261.35 L432.71 259.67 L431.73 258.02 L430.75 256.42 L429.77 254.86 L428.80 253.33 L427.82 251.85 L426.84 250.40 L425.86 248.98 L424.88 247.61 L423.90 246.27 L422.92 244.96 L421.94 243.69 L420.96 242.46 L419.98 241.26 L419.00 240.09 L418.02 238.95 L417.04 237.85 L416.06 236.77 L415.09 235.73 L414.11 234.72 L413.13 233.74 L412.15 232.79 L411.17 231.86 L410.19 230.97 L409.21 230.10 L408.23 229.26 L407.25 228.44 L406.27 227.65 L405.29 226.88 L404.31 226.14 L403.33 225.42 L402.36 224.72 L401.38 224.04 L400.40 223.39 L399.42 222.75 L398.44 222.14 L397.46 221.54 L396.48 220.97 L395.50 220.41 L394.52 219.86 L393.54 219.33 L392.56 218.82 L391.58 218.33 L390.60 217.84 L389.62 217.37 L388.65 216.92 L387.67 216.47 L386.69 216.04 L385.71 215.62 L384.73 215.20 L383.75 214.80 L382.77 214.41 L381.79 214.02 L380.81 213.65 L379.83 213.28 L378.85 212.93 L377.87 212.58 L376.89 212.24 L375.92 211.91 L374.94 211.60 L373.96 211.28 L372.98 210.98 L372.00 210.69 L371.02 210.41 L370.04 210.13 L369.06 209.87 L368.08 209.61 L367.10 209.36 L366.12 209.12 L365.14 208.88 L364.16 208.66 L363.18 208.44 L362.21 208.24 L361.23 208.04 L360.25 207.84 L359.27 207.66 L358.29 207.48 L357.31 207.31 L356.33 207.15 L355.35 207.00 L354.37 206.86 L353.39 206.72 L352.41 206.59 L351.43 206.46 L350.45 206.35 L349.48 206.24 L348.50 206.14 L347.52 206.05 L346.54 205.96 L345.56 205.88 L344.58 205.81 L343.60 205.74 L342.62 205.68 L341.64 205.63 L340.66 205.58 L339.68 205.54 L338.70 205.51 L337.72 205.48 L336.74 205.46 L335.77 205.45 L334.79 205.44 L333.81 205.44 L332.83 205.44 L331.85 205.46 L330.87 205.47 L329.89 205.50 L328.91 205.52 L327.93 205.56 L326.95 205.60 L325.97 205.64 L324.99 205.69 L324.01 205.75 L323.04 205.81 L322.06 205.88 L321.08 205.95 L320.10 206.03 L319.12 206.12 L318.14 206.20 L317.16 206.30 L316.18 206.40 L315.20 206.50 L314.22 206.61 L313.24 206.72 L312.26 206.84 L311.28 206.96 L310.31 207.08 L309.33 207.22 L308.35 207.35 L307.37 207.49 L306.39 207.63 L305.41 207.78 L304.43 207.94 L303.45 208.09 L302.47 208.25 L301.49 208.42 L300.51 208.58 L299.53 208.76 L298.55 208.93 L297.57 209.11 L296.60 209.30 L295.62 209.48 L294.64 209.67 L293.66 209.94" stroke="#93b0d2"/><path d="M527.70 821.50 L526.81 809.19 L525.93 796.15 L525.04 783.02 L524.16 769.86 L523.27 756.77 L522.38 743.83 L521.50 731.11 L520.61 718.71 L519.73 706.70 L518.84 695.16 L517.95 684.07 L517.07 673.34 L516.18 662.84 L515.30 652.46 L514.41 642.08 L513.52 631.60 L512.64 621.15 L511.75 611.16 L510.87 601.73 L509.98 592.79 L509.09 584.24 L508.21 575.99 L507.32 567.94 L506.44 560.04 L505.55 552.26 L504.66 544.60 L503.78 537.05 L502.89 529.61 L502.01 522.28 L501.12 515.06 L500.23 507.97 L499.35 501.01 L498.46 494.18 L497.58 487.47 L496.69 480.89 L495.80 474.43 L494.92 468.09 L494.03 461.88 L493.15 455.78 L492.26 449.81 L491.37 443.95 L490.49 438.20 L489.60 432.57 L488.72 427.05 L487.83 421.65 L486.94 416.35 L486.06 411.16 L485.17 406.07 L484.29 401.10 L483.40 396.24 L482.51 391.49 L481.63 386.86 L480.74 382.34 L479.86 377.93 L478.97 373.64 L478.08 369.47 L477.20 365.41 L476.31 361.46 L475.43 357.61 L474.54 353.87 L473.65 350.21 L472.77 346.64 L471.88 343.15 L471.00 339.72 L470.11 336.37 L469.22 333.07 L468.34 329.84 L467.45 326.68 L466.57 323.57 L465.68 320.53 L464.79 317.54 L463.91 314.62 L463.02 311.76 L462.14 308.95 L461.25 306.20 L460.36 303.50 L459.48 300.86 L458.59 298.28 L457.71 295.75 L456.82 293.27 L455.93 290.84 L455.05 288.47 L454.16 286.14 L453.28 283.87 L452.39 281.64 L451.50 279.46 L450.62 277.33 L449.73 275.24 L448.85 273.20 L447.96 271.20 L447.07 269.25 L446.19 267.34 L445.30 265.47 L444.42 263.64 L443.53 261.86 L442.64 260.12 L441.76 258.42 L440.87 256.75 L439.99 255.13 L439.10 253.55 L438.21 252.00 L437.33 250.50 L436.44 249.03 L435.56 247.60 L434.67 246.20 L433.78 244.84 L432.90 243.51 L432.01 242.22 L431.13 240.97 L430.24 239.74 L429.35 238.55 L428.47 237.40 L427.58 236.27 L426.70 235.18 L425.81 234.11 L424.92 233.08 L424.04 232.08 L423.15 231.10 L422.27 230.16 L421.38 229.24 L420.49 228.35 L419.61 227.49 L418.72 226.65 L417.84 225.84 L416.95 225.05 L416.06 224.29 L415.18 223.55 L414.29 222.83 L413.41 222.13 L412.52 221.46 L411.63 220.80 L410.75 220.16 L409.86 219.55 L408.98 218.95 L408.09 218.37 L407.20 217.80 L406.32 217.25 L405.43 216.72 L404.55 216.20 L403.66 215.70 L402.77 215.21 L401.89 214.73 L401.00 214.26 L400.12 213.81 L399.23 213.37 L398.34 212.93 L397.46 212.51 L396.57 212.09 L395.69 211.69 L394.80 211.29 L393.91 210.90 L393.03 210.53 L392.14 210.16 L391.26 209.80 L390.37 209.45 L389.48 209.11 L388.60 208.77 L387.71 208.45 L386.83 208.14 L385.94 207.83 L385.05 207.53 L384.17 207.24 L383.28 206.96 L382.40 206.69 L381.51 206.43 L380.62 206.17 L379.74 205.93 L378.85 205.69 L377.97 205.46 L377.08 205.23 L376.20 205.02 L375.31 204.81 L374.42 204.61 L373.54 204.42 L372.65 204.24 L371.77 204.06 L370.88 203.90 L369.99 203.74 L369.11 203.58 L368.22 203.44 L367.34 203.30 L366.45 203.17 L365.56 203.04 L364.68 202.93 L363.79 202.82 L362.91 202.71 L362.02 202.62 L361.13 202.53 L360.25 202.45 L359.36 202.37 L358.48 202.30 L357.59 202.24 L356.70 202.18 L355.82 202.13 L354.93 202.09 L354.05 202.05 L353.16 202.02 L352.27 202.00 L351.39 201.98 L350.50 201.97 L349.62 201.96 L348.73 201.96 L347.84 201.97 L346.96 201.98 L346.07 201.99 L345.19 202.02 L344.30 202.04 L343.41 202.08 L342.53 202.12 L341.64 202.16 L340.76 202.21 L339.87 202.26 L338.98 202.32 L338.10 202.39 L337.21 202.46 L336.33 202.53 L335.44 202.61 L334.55 202.70 L333.67 202.79 L332.78 202.88 L331.90 202.98 L331.01 203.09 L330.12 203.19 L329.24 203.31 L328.35 203.42 L327.47 203.54 L326.58 203.67 L325.69 203.80 L324.81 203.93 L323.92 204.07 L323.04 204.21 L322.15 204.35 L321.26 204.50 L320.38 204.66 L319.49 204.81 L318.61 204.97 L317.72 205.14 L316.83 205.30 L315.95 205.55" stroke="#9eb8d7"/><path d="M527.70 821.50 L526.91 809.25 L526.11 796.25 L525.32 783.11 L524.53 769.94 L523.74 756.81 L522.94 743.82 L522.15 731.07 L521.36 718.63 L520.57 706.59 L519.77 695.05 L518.98 683.99 L518.19 673.29 L517.39 662.82 L516.60 652.45 L515.81 642.06 L515.02 631.52 L514.22 621.00 L513.43 610.95 L512.64 601.49 L511.85 592.54 L511.05 583.99 L510.26 575.74 L509.47 567.71 L508.67 559.80 L507.88 552.02 L507.09 544.35 L506.30 536.78 L505.50 529.33 L504.71 521.98 L503.92 514.76 L503.13 507.65 L502.33 500.68 L501.54 493.84 L500.75 487.13 L499.95 480.54 L499.16 474.08 L498.37 467.74 L497.58 461.53 L496.78 455.43 L495.99 449.45 L495.20 443.59 L494.41 437.84 L493.61 432.20 L492.82 426.68 L492.03 421.26 L491.23 415.95 L490.44 410.75 L489.65 405.65 L488.86 400.66 L488.06 395.78 L487.27 391.01 L486.48 386.35 L485.69 381.81 L484.89 377.38 L484.10 373.07 L483.31 368.87 L482.51 364.79 L481.72 360.82 L480.93 356.96 L480.14 353.20 L479.34 349.53 L478.55 345.94 L477.76 342.43 L476.97 338.99 L476.17 335.62 L475.38 332.31 L474.59 329.07 L473.79 325.89 L473.00 322.77 L472.21 319.71 L471.42 316.72 L470.62 313.78 L469.83 310.90 L469.04 308.08 L468.25 305.31 L467.45 302.60 L466.66 299.95 L465.87 297.35 L465.07 294.80 L464.28 292.31 L463.49 289.87 L462.70 287.48 L461.90 285.14 L461.11 282.85 L460.32 280.60 L459.53 278.41 L458.73 276.26 L457.94 274.15 L457.15 272.09 L456.35 270.08 L455.56 268.11 L454.77 266.18 L453.98 264.29 L453.18 262.45 L452.39 260.65 L451.60 258.89 L450.81 257.17 L450.01 255.49 L449.22 253.84 L448.43 252.24 L447.63 250.68 L446.84 249.15 L446.05 247.66 L445.26 246.21 L444.46 244.79 L443.67 243.41 L442.88 242.06 L442.09 240.75 L441.29 239.47 L440.50 238.23 L439.71 237.02 L438.91 235.84 L438.12 234.69 L437.33 233.58 L436.54 232.49 L435.74 231.44 L434.95 230.42 L434.16 229.42 L433.36 228.46 L432.57 227.52 L431.78 226.61 L430.99 225.72 L430.19 224.86 L429.40 224.03 L428.61 223.22 L427.82 222.44 L427.02 221.68 L426.23 220.94 L425.44 220.22 L424.64 219.52 L423.85 218.84 L423.06 218.19 L422.27 217.55 L421.47 216.93 L420.68 216.33 L419.89 215.74 L419.10 215.17 L418.30 214.62 L417.51 214.08 L416.72 213.55 L415.92 213.04 L415.13 212.54 L414.34 212.06 L413.55 211.58 L412.75 211.11 L411.96 210.66 L411.17 210.21 L410.38 209.78 L409.58 209.35 L408.79 208.93 L408.00 208.52 L407.20 208.12 L406.41 207.73 L405.62 207.35 L404.83 206.98 L404.03 206.62 L403.24 206.26 L402.45 205.92 L401.66 205.58 L400.86 205.25 L400.07 204.93 L399.28 204.62 L398.48 204.32 L397.69 204.02 L396.90 203.74 L396.11 203.46 L395.31 203.19 L394.52 202.93 L393.73 202.68 L392.94 202.43 L392.14 202.20 L391.35 201.97 L390.56 201.75 L389.76 201.53 L388.97 201.33 L388.18 201.13 L387.39 200.94 L386.59 200.75 L385.80 200.58 L385.01 200.41 L384.22 200.25 L383.42 200.09 L382.63 199.95 L381.84 199.81 L381.04 199.67 L380.25 199.55 L379.46 199.43 L378.67 199.32 L377.87 199.21 L377.08 199.11 L376.29 199.02 L375.50 198.94 L374.70 198.86 L373.91 198.78 L373.12 198.72 L372.32 198.66 L371.53 198.60 L370.74 198.56 L369.95 198.51 L369.15 198.48 L368.36 198.45 L367.57 198.43 L366.78 198.41 L365.98 198.40 L365.19 198.39 L364.40 198.39 L363.60 198.39 L362.81 198.40 L362.02 198.42 L361.23 198.44 L360.43 198.47 L359.64 198.50 L358.85 198.53 L358.06 198.58 L357.26 198.62 L356.47 198.67 L355.68 198.73 L354.88 198.79 L354.09 198.86 L353.30 198.93 L352.51 199.01 L351.71 199.09 L350.92 199.17 L350.13 199.26 L349.34 199.35 L348.54 199.45 L347.75 199.55 L346.96 199.66 L346.16 199.77 L345.37 199.88 L344.58 200.00 L343.79 200.12 L342.99 200.25 L342.20 200.38 L341.41 200.51 L340.62 200.65 L339.82 200.79 L339.03 200.93 L338.24 201.17" stroke="#a8bedb"/><path d="M527.70 821.50 L527.00 809.31 L526.30 796.34 L525.60 783.21 L524.90 770.01 L524.20 756.85 L523.50 743.82 L522.80 731.02 L522.10 718.54 L521.40 706.49 L520.71 694.95 L520.01 683.91 L519.31 673.24 L518.61 662.79 L517.91 652.44 L517.21 642.03 L516.51 631.45 L515.81 620.85 L515.11 610.74 L514.41 601.25 L513.71 592.29 L513.01 583.74 L512.31 575.50 L511.61 567.47 L510.91 559.56 L510.21 551.77 L509.51 544.09 L508.81 536.51 L508.11 529.05 L507.42 521.69 L506.72 514.45 L506.02 507.34 L505.32 500.35 L504.62 493.51 L503.92 486.79 L503.22 480.20 L502.52 473.73 L501.82 467.39 L501.12 461.17 L500.42 455.08 L499.72 449.09 L499.02 443.23 L498.32 437.48 L497.62 431.84 L496.92 426.30 L496.22 420.88 L495.52 415.56 L494.82 410.35 L494.13 405.23 L493.43 400.22 L492.73 395.32 L492.03 390.53 L491.33 385.85 L490.63 381.29 L489.93 376.83 L489.23 372.50 L488.53 368.28 L487.83 364.18 L487.13 360.19 L486.43 356.31 L485.73 352.53 L485.03 348.85 L484.33 345.24 L483.63 341.72 L482.93 338.27 L482.23 334.88 L481.54 331.56 L480.84 328.30 L480.14 325.10 L479.44 321.97 L478.74 318.90 L478.04 315.89 L477.34 312.93 L476.64 310.04 L475.94 307.20 L475.24 304.42 L474.54 301.70 L473.84 299.03 L473.14 296.42 L472.44 293.86 L471.74 291.35 L471.04 288.89 L470.34 286.49 L469.64 284.13 L468.94 281.82 L468.25 279.56 L467.55 277.35 L466.85 275.19 L466.15 273.07 L465.45 270.99 L464.75 268.96 L464.05 266.97 L463.35 265.02 L462.65 263.12 L461.95 261.26 L461.25 259.44 L460.55 257.66 L459.85 255.92 L459.15 254.22 L458.45 252.55 L457.75 250.93 L457.05 249.35 L456.35 247.80 L455.65 246.29 L454.96 244.82 L454.26 243.38 L453.56 241.98 L452.86 240.61 L452.16 239.28 L451.46 237.98 L450.76 236.71 L450.06 235.48 L449.36 234.28 L448.66 233.12 L447.96 231.98 L447.26 230.87 L446.56 229.80 L445.86 228.75 L445.16 227.74 L444.46 226.75 L443.76 225.79 L443.06 224.86 L442.36 223.96 L441.67 223.08 L440.97 222.22 L440.27 221.39 L439.57 220.59 L438.87 219.80 L438.17 219.04 L437.47 218.31 L436.77 217.59 L436.07 216.89 L435.37 216.21 L434.67 215.55 L433.97 214.91 L433.27 214.29 L432.57 213.68 L431.87 213.09 L431.17 212.52 L430.47 211.96 L429.77 211.41 L429.07 210.88 L428.38 210.36 L427.68 209.85 L426.98 209.35 L426.28 208.86 L425.58 208.39 L424.88 207.92 L424.18 207.46 L423.48 207.01 L422.78 206.57 L422.08 206.14 L421.38 205.72 L420.68 205.31 L419.98 204.91 L419.28 204.51 L418.58 204.13 L417.88 203.75 L417.18 203.38 L416.48 203.02 L415.78 202.67 L415.09 202.33 L414.39 202.00 L413.69 201.67 L412.99 201.36 L412.29 201.05 L411.59 200.75 L410.89 200.46 L410.19 200.18 L409.49 199.90 L408.79 199.63 L408.09 199.37 L407.39 199.12 L406.69 198.88 L405.99 198.64 L405.29 198.41 L404.59 198.19 L403.89 197.98 L403.19 197.77 L402.50 197.57 L401.80 197.38 L401.10 197.20 L400.40 197.02 L399.70 196.85 L399.00 196.69 L398.30 196.53 L397.60 196.38 L396.90 196.24 L396.20 196.11 L395.50 195.98 L394.80 195.86 L394.10 195.74 L393.40 195.63 L392.70 195.53 L392.00 195.43 L391.30 195.34 L390.60 195.26 L389.90 195.18 L389.21 195.11 L388.51 195.05 L387.81 194.99 L387.11 194.94 L386.41 194.89 L385.71 194.85 L385.01 194.81 L384.31 194.78 L383.61 194.76 L382.91 194.74 L382.21 194.73 L381.51 194.72 L380.81 194.72 L380.11 194.72 L379.41 194.73 L378.71 194.74 L378.01 194.76 L377.31 194.79 L376.61 194.81 L375.92 194.85 L375.22 194.89 L374.52 194.93 L373.82 194.98 L373.12 195.03 L372.42 195.09 L371.72 195.15 L371.02 195.21 L370.32 195.28 L369.62 195.36 L368.92 195.44 L368.22 195.52 L367.52 195.61 L366.82 195.70 L366.12 195.79 L365.42 195.89 L364.72 195.99 L364.02 196.10 L363.32 196.21 L362.63 196.33 L361.93 196.44 L361.23 196.56 L360.53 196.78" stroke="#b2c5de"/><path d="M527.70 821.50 L527.09 809.37 L526.49 796.43 L525.88 783.31 L525.28 770.09 L524.67 756.89 L524.06 743.82 L523.46 730.97 L522.85 718.46 L522.24 706.39 L521.64 694.85 L521.03 683.83 L520.43 673.19 L519.82 662.77 L519.21 652.43 L518.61 642.01 L518.00 631.38 L517.39 620.70 L516.79 610.53 L516.18 601.01 L515.58 592.04 L514.97 583.49 L514.36 575.26 L513.76 567.23 L513.15 559.32 L512.54 551.53 L511.94 543.84 L511.33 536.25 L510.73 528.76 L510.12 521.39 L509.51 514.14 L508.91 507.02 L508.30 500.03 L507.70 493.17 L507.09 486.45 L506.48 479.85 L505.88 473.38 L505.27 467.04 L504.66 460.82 L504.06 454.72 L503.45 448.74 L502.85 442.87 L502.24 437.11 L501.63 431.47 L501.03 425.93 L500.42 420.50 L499.81 415.17 L499.21 409.94 L498.60 404.81 L498.00 399.78 L497.39 394.86 L496.78 390.05 L496.18 385.35 L495.57 380.76 L494.96 376.29 L494.36 371.93 L493.75 367.69 L493.15 363.56 L492.54 359.56 L491.93 355.66 L491.33 351.87 L490.72 348.16 L490.12 344.55 L489.51 341.01 L488.90 337.54 L488.30 334.14 L487.69 330.80 L487.08 327.53 L486.48 324.32 L485.87 321.17 L485.27 318.08 L484.66 315.06 L484.05 312.09 L483.45 309.18 L482.84 306.33 L482.23 303.54 L481.63 300.80 L481.02 298.12 L480.42 295.49 L479.81 292.91 L479.20 290.39 L478.60 287.92 L477.99 285.50 L477.38 283.12 L476.78 280.80 L476.17 278.53 L475.57 276.30 L474.96 274.12 L474.35 271.98 L473.75 269.89 L473.14 267.84 L472.54 265.83 L471.93 263.87 L471.32 261.95 L470.72 260.06 L470.11 258.22 L469.50 256.43 L468.90 254.67 L468.29 252.95 L467.69 251.27 L467.08 249.62 L466.47 248.02 L465.87 246.45 L465.26 244.92 L464.65 243.43 L464.05 241.97 L463.44 240.55 L462.84 239.16 L462.23 237.81 L461.62 236.49 L461.02 235.20 L460.41 233.95 L459.80 232.73 L459.20 231.54 L458.59 230.38 L457.99 229.25 L457.38 228.16 L456.77 227.09 L456.17 226.06 L455.56 225.05 L454.96 224.07 L454.35 223.12 L453.74 222.19 L453.14 221.29 L452.53 220.41 L451.92 219.56 L451.32 218.74 L450.71 217.93 L450.11 217.15 L449.50 216.39 L448.89 215.65 L448.29 214.93 L447.68 214.24 L447.07 213.56 L446.47 212.89 L445.86 212.25 L445.26 211.62 L444.65 211.01 L444.04 210.41 L443.44 209.83 L442.83 209.27 L442.22 208.71 L441.62 208.17 L441.01 207.64 L440.41 207.12 L439.80 206.61 L439.19 206.11 L438.59 205.63 L437.98 205.15 L437.38 204.68 L436.77 204.21 L436.16 203.76 L435.56 203.32 L434.95 202.89 L434.34 202.46 L433.74 202.05 L433.13 201.64 L432.53 201.24 L431.92 200.85 L431.31 200.47 L430.71 200.10 L430.10 199.73 L429.49 199.38 L428.89 199.03 L428.28 198.69 L427.68 198.36 L427.07 198.04 L426.46 197.73 L425.86 197.42 L425.25 197.12 L424.64 196.83 L424.04 196.55 L423.43 196.27 L422.83 196.01 L422.22 195.75 L421.61 195.50 L421.01 195.25 L420.40 195.02 L419.80 194.79 L419.19 194.57 L418.58 194.35 L417.98 194.15 L417.37 193.95 L416.76 193.75 L416.16 193.57 L415.55 193.39 L414.95 193.22 L414.34 193.05 L413.73 192.89 L413.13 192.74 L412.52 192.60 L411.91 192.46 L411.31 192.33 L410.70 192.20 L410.10 192.08 L409.49 191.97 L408.88 191.87 L408.28 191.77 L407.67 191.67 L407.06 191.58 L406.46 191.50 L405.85 191.43 L405.25 191.36 L404.64 191.29 L404.03 191.23 L403.43 191.18 L402.82 191.13 L402.22 191.09 L401.61 191.05 L401.00 191.02 L400.40 191.00 L399.79 190.98 L399.18 190.96 L398.58 190.95 L397.97 190.95 L397.37 190.95 L396.76 190.95 L396.15 190.96 L395.55 190.98 L394.94 191.00 L394.33 191.02 L393.73 191.05 L393.12 191.09 L392.52 191.12 L391.91 191.17 L391.30 191.21 L390.70 191.27 L390.09 191.32 L389.48 191.38 L388.88 191.45 L388.27 191.51 L387.67 191.59 L387.06 191.66 L386.45 191.74 L385.85 191.82 L385.24 191.91 L384.64 192.00 L384.03 192.10 L383.42 192.20 L382.82 192.40" stroke="#bccce2"/><path d="M527.70 821.50 L527.19 809.42 L526.67 796.53 L526.16 783.40 L525.65 770.17 L525.14 756.94 L524.62 743.82 L524.11 730.93 L523.60 718.38 L523.08 706.28 L522.57 694.75 L522.06 683.75 L521.54 673.14 L521.03 662.75 L520.52 652.42 L520.01 641.99 L519.49 631.30 L518.98 620.55 L518.47 610.32 L517.95 600.77 L517.44 591.79 L516.93 583.24 L516.42 575.01 L515.90 566.99 L515.39 559.08 L514.88 551.28 L514.36 543.58 L513.85 535.98 L513.34 528.48 L512.82 521.10 L512.31 513.83 L511.80 506.70 L511.29 499.70 L510.77 492.83 L510.26 486.10 L509.75 479.51 L509.23 473.03 L508.72 466.69 L508.21 460.47 L507.70 454.37 L507.18 448.38 L506.67 442.51 L506.16 436.75 L505.64 431.10 L505.13 425.56 L504.62 420.12 L504.10 414.78 L503.59 409.53 L503.08 404.39 L502.57 399.34 L502.05 394.40 L501.54 389.57 L501.03 384.85 L500.51 380.23 L500.00 375.74 L499.49 371.35 L498.98 367.09 L498.46 362.95 L497.95 358.93 L497.44 355.01 L496.92 351.20 L496.41 347.48 L495.90 343.85 L495.38 340.29 L494.87 336.81 L494.36 333.39 L493.85 330.04 L493.33 326.75 L492.82 323.53 L492.31 320.37 L491.79 317.27 L491.28 314.23 L490.77 311.25 L490.26 308.32 L489.74 305.46 L489.23 302.65 L488.72 299.90 L488.20 297.20 L487.69 294.56 L487.18 291.97 L486.66 289.43 L486.15 286.94 L485.64 284.51 L485.13 282.12 L484.61 279.78 L484.10 277.49 L483.59 275.24 L483.07 273.05 L482.56 270.89 L482.05 268.78 L481.54 266.72 L481.02 264.69 L480.51 262.71 L480.00 260.77 L479.48 258.87 L478.97 257.01 L478.46 255.19 L477.94 253.42 L477.43 251.68 L476.92 249.98 L476.41 248.31 L475.89 246.69 L475.38 245.10 L474.87 243.55 L474.35 242.04 L473.84 240.56 L473.33 239.12 L472.82 237.71 L472.30 236.33 L471.79 234.99 L471.28 233.69 L470.76 232.41 L470.25 231.17 L469.74 229.96 L469.22 228.78 L468.71 227.64 L468.20 226.52 L467.69 225.43 L467.17 224.37 L466.66 223.34 L466.15 222.34 L465.63 221.37 L465.12 220.42 L464.61 219.50 L464.09 218.61 L463.58 217.73 L463.07 216.89 L462.56 216.06 L462.04 215.26 L461.53 214.48 L461.02 213.72 L460.50 212.98 L459.99 212.26 L459.48 211.56 L458.97 210.88 L458.45 210.21 L457.94 209.56 L457.43 208.93 L456.91 208.31 L456.40 207.71 L455.89 207.12 L455.37 206.55 L454.86 205.98 L454.35 205.43 L453.84 204.89 L453.32 204.36 L452.81 203.84 L452.30 203.33 L451.78 202.83 L451.27 202.34 L450.76 201.86 L450.25 201.38 L449.73 200.92 L449.22 200.46 L448.71 200.02 L448.19 199.58 L447.68 199.15 L447.17 198.73 L446.65 198.32 L446.14 197.91 L445.63 197.52 L445.12 197.13 L444.60 196.76 L444.09 196.39 L443.58 196.03 L443.06 195.67 L442.55 195.33 L442.04 194.99 L441.53 194.66 L441.01 194.34 L440.50 194.03 L439.99 193.73 L439.47 193.43 L438.96 193.14 L438.45 192.86 L437.93 192.58 L437.42 192.32 L436.91 192.06 L436.40 191.81 L435.88 191.56 L435.37 191.33 L434.86 191.10 L434.34 190.87 L433.83 190.66 L433.32 190.45 L432.81 190.25 L432.29 190.05 L431.78 189.86 L431.27 189.68 L430.75 189.51 L430.24 189.34 L429.73 189.18 L429.21 189.02 L428.70 188.88 L428.19 188.73 L427.68 188.60 L427.16 188.47 L426.65 188.35 L426.14 188.23 L425.62 188.12 L425.11 188.01 L424.60 187.91 L424.09 187.82 L423.57 187.73 L423.06 187.65 L422.55 187.57 L422.03 187.50 L421.52 187.44 L421.01 187.38 L420.49 187.33 L419.98 187.28 L419.47 187.23 L418.96 187.20 L418.44 187.16 L417.93 187.13 L417.42 187.11 L416.90 187.09 L416.39 187.08 L415.88 187.07 L415.37 187.07 L414.85 187.07 L414.34 187.08 L413.83 187.09 L413.31 187.10 L412.80 187.12 L412.29 187.15 L411.77 187.17 L411.26 187.21 L410.75 187.24 L410.24 187.28 L409.72 187.33 L409.21 187.38 L408.70 187.43 L408.18 187.49 L407.67 187.55 L407.16 187.61 L406.65 187.68 L406.13 187.75 L405.62 187.83 L405.11 188.02" stroke="#c7d3e6"/><path d="M527.70 821.50 L527.28 809.48 L526.86 796.62 L526.44 783.50 L526.02 770.24 L525.60 756.98 L525.18 743.82 L524.76 730.88 L524.34 718.30 L523.92 706.18 L523.50 694.64 L523.08 683.67 L522.66 673.09 L522.24 662.73 L521.82 652.41 L521.40 641.97 L520.99 631.23 L520.57 620.40 L520.15 610.11 L519.73 600.53 L519.31 591.53 L518.89 582.99 L518.47 574.77 L518.05 566.75 L517.63 558.84 L517.21 551.04 L516.79 543.33 L516.37 535.71 L515.95 528.20 L515.53 520.81 L515.11 513.53 L514.69 506.38 L514.27 499.37 L513.85 492.50 L513.43 485.76 L513.01 479.16 L512.59 472.69 L512.17 466.34 L511.75 460.11 L511.33 454.01 L510.91 448.02 L510.49 442.15 L510.07 436.39 L509.65 430.73 L509.23 425.18 L508.81 419.73 L508.39 414.38 L507.97 409.13 L507.56 403.97 L507.14 398.91 L506.72 393.95 L506.30 389.09 L505.88 384.34 L505.46 379.71 L505.04 375.19 L504.62 370.78 L504.20 366.50 L503.78 362.34 L503.36 358.29 L502.94 354.36 L502.52 350.53 L502.10 346.80 L501.68 343.15 L501.26 339.58 L500.84 336.08 L500.42 332.65 L500.00 329.28 L499.58 325.98 L499.16 322.74 L498.74 319.57 L498.32 316.45 L497.90 313.40 L497.48 310.40 L497.06 307.46 L496.64 304.59 L496.22 301.76 L495.80 299.00 L495.38 296.28 L494.96 293.63 L494.55 291.02 L494.13 288.47 L493.71 285.97 L493.29 283.51 L492.87 281.11 L492.45 278.76 L492.03 276.45 L491.61 274.19 L491.19 271.98 L490.77 269.81 L490.35 267.68 L489.93 265.59 L489.51 263.55 L489.09 261.55 L488.67 259.60 L488.25 257.68 L487.83 255.80 L487.41 253.96 L486.99 252.17 L486.57 250.41 L486.15 248.69 L485.73 247.01 L485.31 245.36 L484.89 243.75 L484.47 242.18 L484.05 240.65 L483.63 239.15 L483.21 237.69 L482.79 236.26 L482.37 234.86 L481.95 233.50 L481.54 232.17 L481.12 230.88 L480.70 229.61 L480.28 228.38 L479.86 227.18 L479.44 226.02 L479.02 224.88 L478.60 223.77 L478.18 222.69 L477.76 221.64 L477.34 220.62 L476.92 219.62 L476.50 218.66 L476.08 217.71 L475.66 216.80 L475.24 215.90 L474.82 215.04 L474.40 214.19 L473.98 213.37 L473.56 212.57 L473.14 211.79 L472.72 211.03 L472.30 210.28 L471.88 209.56 L471.46 208.86 L471.04 208.17 L470.62 207.50 L470.20 206.85 L469.78 206.21 L469.36 205.59 L468.94 204.98 L468.52 204.38 L468.11 203.80 L467.69 203.22 L467.27 202.66 L466.85 202.11 L466.43 201.57 L466.01 201.04 L465.59 200.52 L465.17 200.00 L464.75 199.50 L464.33 199.00 L463.91 198.52 L463.49 198.04 L463.07 197.57 L462.65 197.11 L462.23 196.66 L461.81 196.22 L461.39 195.78 L460.97 195.36 L460.55 194.94 L460.13 194.53 L459.71 194.13 L459.29 193.74 L458.87 193.36 L458.45 192.98 L458.03 192.62 L457.61 192.26 L457.19 191.91 L456.77 191.56 L456.35 191.23 L455.93 190.90 L455.51 190.58 L455.10 190.27 L454.68 189.97 L454.26 189.67 L453.84 189.38 L453.42 189.10 L453.00 188.82 L452.58 188.56 L452.16 188.30 L451.74 188.04 L451.32 187.80 L450.90 187.56 L450.48 187.33 L450.06 187.10 L449.64 186.89 L449.22 186.68 L448.80 186.47 L448.38 186.27 L447.96 186.08 L447.54 185.90 L447.12 185.72 L446.70 185.55 L446.28 185.38 L445.86 185.23 L445.44 185.07 L445.02 184.93 L444.60 184.79 L444.18 184.65 L443.76 184.52 L443.34 184.40 L442.92 184.29 L442.50 184.17 L442.09 184.07 L441.67 183.97 L441.25 183.88 L440.83 183.79 L440.41 183.71 L439.99 183.63 L439.57 183.56 L439.15 183.49 L438.73 183.43 L438.31 183.37 L437.89 183.32 L437.47 183.27 L437.05 183.23 L436.63 183.20 L436.21 183.17 L435.79 183.14 L435.37 183.12 L434.95 183.10 L434.53 183.09 L434.11 183.08 L433.69 183.08 L433.27 183.08 L432.85 183.08 L432.43 183.09 L432.01 183.10 L431.59 183.12 L431.17 183.14 L430.75 183.17 L430.33 183.20 L429.91 183.23 L429.49 183.27 L429.07 183.31 L428.66 183.36 L428.24 183.41 L427.82 183.46 L427.40 183.63" stroke="#cfd8e8"/><path d="M527.70 821.50 L527.37 809.54 L527.05 796.71 L526.72 783.59 L526.39 770.32 L526.07 757.02 L525.74 743.81 L525.42 730.84 L525.09 718.21 L524.76 706.07 L524.44 694.54 L524.11 683.59 L523.78 673.04 L523.46 662.70 L523.13 652.40 L522.80 641.95 L522.48 631.15 L522.15 620.25 L521.82 609.90 L521.50 600.29 L521.17 591.28 L520.85 582.74 L520.52 574.52 L520.19 566.51 L519.87 558.61 L519.54 550.79 L519.21 543.07 L518.89 535.45 L518.56 527.92 L518.23 520.51 L517.91 513.22 L517.58 506.06 L517.25 499.04 L516.93 492.16 L516.60 485.42 L516.28 478.81 L515.95 472.34 L515.62 465.99 L515.30 459.76 L514.97 453.66 L514.64 447.67 L514.32 441.79 L513.99 436.02 L513.66 430.36 L513.34 424.81 L513.01 419.35 L512.68 413.99 L512.36 408.72 L512.03 403.55 L511.71 398.47 L511.38 393.49 L511.05 388.61 L510.73 383.84 L510.40 379.18 L510.07 374.64 L509.75 370.21 L509.42 365.90 L509.09 361.72 L508.77 357.66 L508.44 353.71 L508.11 349.86 L507.79 346.11 L507.46 342.45 L507.14 338.87 L506.81 335.35 L506.48 331.91 L506.16 328.53 L505.83 325.21 L505.50 321.96 L505.18 318.77 L504.85 315.64 L504.52 312.57 L504.20 309.56 L503.87 306.61 L503.55 303.71 L503.22 300.88 L502.89 298.09 L502.57 295.37 L502.24 292.70 L501.91 290.08 L501.59 287.51 L501.26 284.99 L500.93 282.52 L500.61 280.11 L500.28 277.74 L499.95 275.41 L499.63 273.14 L499.30 270.91 L498.98 268.72 L498.65 266.57 L498.32 264.47 L498.00 262.41 L497.67 260.40 L497.34 258.42 L497.02 256.48 L496.69 254.59 L496.36 252.73 L496.04 250.92 L495.71 249.14 L495.38 247.40 L495.06 245.70 L494.73 244.03 L494.41 242.40 L494.08 240.81 L493.75 239.26 L493.43 237.74 L493.10 236.25 L492.77 234.80 L492.45 233.39 L492.12 232.01 L491.79 230.66 L491.47 229.34 L491.14 228.06 L490.81 226.81 L490.49 225.59 L490.16 224.40 L489.84 223.24 L489.51 222.11 L489.18 221.01 L488.86 219.94 L488.53 218.89 L488.20 217.88 L487.88 216.89 L487.55 215.93 L487.22 214.99 L486.90 214.07 L486.57 213.19 L486.24 212.32 L485.92 211.47 L485.59 210.65 L485.27 209.85 L484.94 209.07 L484.61 208.31 L484.29 207.57 L483.96 206.84 L483.63 206.13 L483.31 205.44 L482.98 204.77 L482.65 204.11 L482.33 203.46 L482.00 202.83 L481.67 202.22 L481.35 201.61 L481.02 201.02 L480.70 200.43 L480.37 199.86 L480.04 199.30 L479.72 198.74 L479.39 198.20 L479.06 197.67 L478.74 197.14 L478.41 196.62 L478.08 196.11 L477.76 195.61 L477.43 195.12 L477.11 194.64 L476.78 194.17 L476.45 193.71 L476.13 193.25 L475.80 192.80 L475.47 192.36 L475.15 191.93 L474.82 191.51 L474.49 191.10 L474.17 190.69 L473.84 190.30 L473.51 189.91 L473.19 189.52 L472.86 189.15 L472.54 188.79 L472.21 188.43 L471.88 188.08 L471.56 187.74 L471.23 187.40 L470.90 187.08 L470.58 186.76 L470.25 186.44 L469.92 186.14 L469.60 185.84 L469.27 185.55 L468.94 185.27 L468.62 184.99 L468.29 184.73 L467.97 184.46 L467.64 184.21 L467.31 183.96 L466.99 183.72 L466.66 183.49 L466.33 183.26 L466.01 183.04 L465.68 182.83 L465.35 182.62 L465.03 182.42 L464.70 182.22 L464.37 182.03 L464.05 181.85 L463.72 181.68 L463.40 181.51 L463.07 181.34 L462.74 181.19 L462.42 181.04 L462.09 180.89 L461.76 180.75 L461.44 180.62 L461.11 180.49 L460.78 180.37 L460.46 180.25 L460.13 180.14 L459.80 180.03 L459.48 179.93 L459.15 179.84 L458.83 179.75 L458.50 179.66 L458.17 179.58 L457.85 179.51 L457.52 179.44 L457.19 179.37 L456.87 179.31 L456.54 179.26 L456.21 179.21 L455.89 179.16 L455.56 179.12 L455.24 179.09 L454.91 179.06 L454.58 179.03 L454.26 179.01 L453.93 178.99 L453.60 178.98 L453.28 178.97 L452.95 178.96 L452.62 178.96 L452.30 178.96 L451.97 178.97 L451.64 178.98 L451.32 178.99 L450.99 179.01 L450.67 179.03 L450.34 179.06 L450.01 179.09 L449.69 179.25" stroke="#d5dbe8"/><path d="M527.70 821.50 L527.47 809.60 L527.23 796.80 L527.00 783.69 L526.77 770.40 L526.53 757.06 L526.30 743.81 L526.07 730.79 L525.83 718.13 L525.60 705.97 L525.37 694.44 L525.14 683.51 L524.90 672.99 L524.67 662.68 L524.44 652.39 L524.20 641.92 L523.97 631.08 L523.74 620.11 L523.50 609.70 L523.27 600.05 L523.04 591.03 L522.80 582.49 L522.57 574.28 L522.34 566.27 L522.10 558.37 L521.87 550.55 L521.64 542.82 L521.40 535.18 L521.17 527.64 L520.94 520.22 L520.71 512.91 L520.47 505.74 L520.24 498.71 L520.01 491.83 L519.77 485.08 L519.54 478.47 L519.31 471.99 L519.07 465.64 L518.84 459.41 L518.61 453.30 L518.37 447.31 L518.14 441.43 L517.91 435.66 L517.67 430.00 L517.44 424.43 L517.21 418.97 L516.97 413.60 L516.74 408.32 L516.51 403.13 L516.28 398.03 L516.04 393.03 L515.81 388.13 L515.58 383.34 L515.34 378.66 L515.11 374.09 L514.88 369.64 L514.64 365.31 L514.41 361.11 L514.18 357.03 L513.94 353.06 L513.71 349.20 L513.48 345.43 L513.24 341.75 L513.01 338.15 L512.78 334.63 L512.54 331.16 L512.31 327.77 L512.08 324.44 L511.85 321.17 L511.61 317.97 L511.38 314.82 L511.15 311.74 L510.91 308.71 L510.68 305.75 L510.45 302.84 L510.21 299.99 L509.98 297.19 L509.75 294.45 L509.51 291.77 L509.28 289.13 L509.05 286.55 L508.81 284.02 L508.58 281.53 L508.35 279.10 L508.11 276.71 L507.88 274.38 L507.65 272.08 L507.42 269.83 L507.18 267.63 L506.95 265.47 L506.72 263.35 L506.48 261.28 L506.25 259.24 L506.02 257.25 L505.78 255.29 L505.55 253.38 L505.32 251.50 L505.08 249.67 L504.85 247.87 L504.62 246.11 L504.38 244.39 L504.15 242.70 L503.92 241.06 L503.68 239.44 L503.45 237.87 L503.22 236.33 L502.99 234.82 L502.75 233.35 L502.52 231.92 L502.29 230.51 L502.05 229.14 L501.82 227.81 L501.59 226.50 L501.35 225.23 L501.12 223.99 L500.89 222.78 L500.65 221.60 L500.42 220.45 L500.19 219.33 L499.95 218.23 L499.72 217.17 L499.49 216.13 L499.25 215.12 L499.02 214.14 L498.79 213.18 L498.56 212.25 L498.32 211.34 L498.09 210.45 L497.86 209.58 L497.62 208.74 L497.39 207.92 L497.16 207.12 L496.92 206.33 L496.69 205.57 L496.46 204.82 L496.22 204.09 L495.99 203.38 L495.76 202.69 L495.52 202.01 L495.29 201.34 L495.06 200.69 L494.82 200.05 L494.59 199.42 L494.36 198.81 L494.13 198.20 L493.89 197.61 L493.66 197.03 L493.43 196.45 L493.19 195.89 L492.96 195.33 L492.73 194.78 L492.49 194.24 L492.26 193.71 L492.03 193.19 L491.79 192.68 L491.56 192.18 L491.33 191.68 L491.09 191.19 L490.86 190.72 L490.63 190.25 L490.39 189.79 L490.16 189.33 L489.93 188.89 L489.70 188.45 L489.46 188.03 L489.23 187.61 L489.00 187.19 L488.76 186.79 L488.53 186.40 L488.30 186.01 L488.06 185.63 L487.83 185.25 L487.60 184.89 L487.36 184.53 L487.13 184.18 L486.90 183.84 L486.66 183.51 L486.43 183.18 L486.20 182.86 L485.97 182.55 L485.73 182.24 L485.50 181.94 L485.27 181.65 L485.03 181.37 L484.80 181.09 L484.57 180.82 L484.33 180.56 L484.10 180.30 L483.87 180.05 L483.63 179.81 L483.40 179.57 L483.17 179.34 L482.93 179.11 L482.70 178.90 L482.47 178.69 L482.23 178.48 L482.00 178.28 L481.77 178.09 L481.54 177.90 L481.30 177.72 L481.07 177.55 L480.84 177.38 L480.60 177.22 L480.37 177.06 L480.14 176.91 L479.90 176.76 L479.67 176.62 L479.44 176.49 L479.20 176.36 L478.97 176.23 L478.74 176.11 L478.50 176.00 L478.27 175.89 L478.04 175.79 L477.80 175.69 L477.57 175.60 L477.34 175.51 L477.11 175.43 L476.87 175.35 L476.64 175.28 L476.41 175.21 L476.17 175.15 L475.94 175.09 L475.71 175.03 L475.47 174.98 L475.24 174.94 L475.01 174.90 L474.77 174.86 L474.54 174.83 L474.31 174.80 L474.07 174.77 L473.84 174.75 L473.61 174.74 L473.37 174.72 L473.14 174.72 L472.91 174.71 L472.68 174.71 L472.44 174.71 L472.21 174.72 L471.98 174.86" stroke="#dadde8"/><path d="M527.70 821.50 L527.56 809.66 L527.42 796.90 L527.28 783.79 L527.14 770.47 L527.00 757.10 L526.86 743.81 L526.72 730.74 L526.58 718.05 L526.44 705.87 L526.30 694.33 L526.16 683.43 L526.02 672.94 L525.88 662.66 L525.74 652.38 L525.60 641.90 L525.46 631.01 L525.32 619.96 L525.18 609.49 L525.04 599.81 L524.90 590.78 L524.76 582.24 L524.62 574.03 L524.48 566.03 L524.34 558.13 L524.20 550.30 L524.06 542.56 L523.92 534.91 L523.78 527.36 L523.64 519.92 L523.50 512.61 L523.36 505.42 L523.22 498.38 L523.08 491.49 L522.94 484.74 L522.80 478.12 L522.66 471.64 L522.52 465.29 L522.38 459.06 L522.24 452.95 L522.10 446.95 L521.96 441.07 L521.82 435.30 L521.68 429.63 L521.54 424.06 L521.40 418.59 L521.26 413.21 L521.12 407.91 L520.99 402.71 L520.85 397.59 L520.71 392.57 L520.57 387.65 L520.43 382.84 L520.29 378.13 L520.15 373.54 L520.01 369.07 L519.87 364.72 L519.73 360.49 L519.59 356.39 L519.45 352.41 L519.31 348.53 L519.17 344.75 L519.03 341.05 L518.89 337.44 L518.75 333.90 L518.61 330.42 L518.47 327.01 L518.33 323.67 L518.19 320.38 L518.05 317.16 L517.91 314.01 L517.77 310.91 L517.63 307.87 L517.49 304.89 L517.35 301.97 L517.21 299.10 L517.07 296.29 L516.93 293.54 L516.79 290.83 L516.65 288.18 L516.51 285.59 L516.37 283.04 L516.23 280.54 L516.09 278.09 L515.95 275.69 L515.81 273.34 L515.67 271.03 L515.53 268.76 L515.39 266.54 L515.25 264.37 L515.11 262.23 L514.97 260.14 L514.83 258.08 L514.69 256.07 L514.55 254.10 L514.41 252.16 L514.27 250.27 L514.13 248.42 L513.99 246.60 L513.85 244.82 L513.71 243.08 L513.57 241.37 L513.43 239.71 L513.29 238.08 L513.15 236.48 L513.01 234.92 L512.87 233.39 L512.73 231.90 L512.59 230.44 L512.45 229.02 L512.31 227.63 L512.17 226.27 L512.03 224.95 L511.89 223.65 L511.75 222.39 L511.61 221.16 L511.47 219.96 L511.33 218.78 L511.19 217.64 L511.05 216.53 L510.91 215.44 L510.77 214.39 L510.63 213.36 L510.49 212.35 L510.35 211.37 L510.21 210.42 L510.07 209.48 L509.93 208.58 L509.79 207.69 L509.65 206.83 L509.51 205.98 L509.37 205.16 L509.23 204.36 L509.09 203.57 L508.95 202.81 L508.81 202.06 L508.67 201.32 L508.53 200.61 L508.39 199.91 L508.25 199.22 L508.11 198.54 L507.97 197.88 L507.84 197.24 L507.70 196.60 L507.56 195.98 L507.42 195.36 L507.28 194.75 L507.14 194.16 L507.00 193.57 L506.86 192.99 L506.72 192.42 L506.58 191.86 L506.44 191.31 L506.30 190.77 L506.16 190.23 L506.02 189.71 L505.88 189.19 L505.74 188.68 L505.60 188.18 L505.46 187.69 L505.32 187.21 L505.18 186.73 L505.04 186.27 L504.90 185.81 L504.76 185.36 L504.62 184.92 L504.48 184.48 L504.34 184.06 L504.20 183.64 L504.06 183.23 L503.92 182.83 L503.78 182.43 L503.64 182.04 L503.50 181.66 L503.36 181.29 L503.22 180.93 L503.08 180.57 L502.94 180.22 L502.80 179.88 L502.66 179.54 L502.52 179.21 L502.38 178.89 L502.24 178.58 L502.10 178.27 L501.96 177.97 L501.82 177.68 L501.68 177.39 L501.54 177.11 L501.40 176.84 L501.26 176.57 L501.12 176.31 L500.98 176.06 L500.84 175.81 L500.70 175.57 L500.56 175.34 L500.42 175.11 L500.28 174.89 L500.14 174.67 L500.00 174.46 L499.86 174.26 L499.72 174.06 L499.58 173.87 L499.44 173.68 L499.30 173.50 L499.16 173.33 L499.02 173.16 L498.88 172.99 L498.74 172.83 L498.60 172.68 L498.46 172.54 L498.32 172.39 L498.18 172.26 L498.04 172.13 L497.90 172.00 L497.76 171.88 L497.62 171.76 L497.48 171.65 L497.34 171.55 L497.20 171.45 L497.06 171.35 L496.92 171.26 L496.78 171.17 L496.64 171.09 L496.50 171.01 L496.36 170.94 L496.22 170.87 L496.08 170.80 L495.94 170.74 L495.80 170.69 L495.66 170.64 L495.52 170.59 L495.38 170.55 L495.24 170.51 L495.10 170.47 L494.96 170.44 L494.82 170.41 L494.69 170.39 L494.55 170.37 L494.41 170.35 L494.27 170.48" stroke="#e0e0e8"/><path d="M527.70 821.50 L527.65 809.71 L527.61 796.99 L527.56 783.88 L527.51 770.55 L527.47 757.14 L527.42 743.81 L527.37 730.70 L527.33 717.97 L527.28 705.76 L527.23 694.23 L527.19 683.34 L527.14 672.89 L527.09 662.64 L527.05 652.38 L527.00 641.88 L526.95 630.93 L526.91 619.81 L526.86 609.28 L526.81 599.57 L526.77 590.53 L526.72 581.99 L526.67 573.79 L526.63 565.79 L526.58 557.89 L526.53 550.06 L526.49 542.31 L526.44 534.65 L526.39 527.08 L526.35 519.63 L526.30 512.30 L526.25 505.10 L526.21 498.06 L526.16 491.16 L526.11 484.40 L526.07 477.78 L526.02 471.29 L525.97 464.93 L525.93 458.70 L525.88 452.59 L525.83 446.59 L525.79 440.71 L525.74 434.93 L525.69 429.26 L525.65 423.69 L525.60 418.21 L525.55 412.81 L525.51 407.51 L525.46 402.29 L525.42 397.15 L525.37 392.11 L525.32 387.17 L525.28 382.33 L525.23 377.61 L525.18 372.99 L525.14 368.50 L525.09 364.12 L525.04 359.88 L525.00 355.76 L524.95 351.76 L524.90 347.86 L524.86 344.06 L524.81 340.35 L524.76 336.73 L524.72 333.17 L524.67 329.68 L524.62 326.25 L524.58 322.89 L524.53 319.60 L524.48 316.36 L524.44 313.19 L524.39 310.08 L524.34 307.03 L524.30 304.03 L524.25 301.10 L524.20 298.22 L524.16 295.39 L524.11 292.62 L524.06 289.90 L524.02 287.24 L523.97 284.63 L523.92 282.06 L523.88 279.55 L523.83 277.09 L523.78 274.67 L523.74 272.30 L523.69 269.97 L523.64 267.69 L523.60 265.46 L523.55 263.26 L523.50 261.11 L523.46 259.00 L523.41 256.93 L523.36 254.90 L523.32 252.90 L523.27 250.95 L523.22 249.04 L523.18 247.17 L523.13 245.33 L523.08 243.53 L523.04 241.77 L522.99 240.05 L522.94 238.36 L522.90 236.71 L522.85 235.09 L522.80 233.51 L522.76 231.96 L522.71 230.45 L522.66 228.97 L522.62 227.53 L522.57 226.12 L522.52 224.74 L522.48 223.39 L522.43 222.07 L522.38 220.79 L522.34 219.54 L522.29 218.32 L522.24 217.12 L522.20 215.96 L522.15 214.83 L522.10 213.72 L522.06 212.64 L522.01 211.59 L521.96 210.56 L521.92 209.56 L521.87 208.59 L521.82 207.63 L521.78 206.71 L521.73 205.80 L521.68 204.91 L521.64 204.05 L521.59 203.21 L521.54 202.38 L521.50 201.57 L521.45 200.79 L521.40 200.02 L521.36 199.26 L521.31 198.53 L521.26 197.80 L521.22 197.09 L521.17 196.40 L521.12 195.72 L521.08 195.05 L521.03 194.39 L520.99 193.75 L520.94 193.11 L520.89 192.48 L520.85 191.86 L520.80 191.26 L520.75 190.66 L520.71 190.06 L520.66 189.48 L520.61 188.91 L520.57 188.34 L520.52 187.79 L520.47 187.24 L520.43 186.70 L520.38 186.17 L520.33 185.65 L520.29 185.14 L520.24 184.63 L520.19 184.13 L520.15 183.65 L520.10 183.17 L520.05 182.69 L520.01 182.23 L519.96 181.77 L519.91 181.32 L519.87 180.88 L519.82 180.45 L519.77 180.03 L519.73 179.61 L519.68 179.20 L519.63 178.80 L519.59 178.40 L519.54 178.01 L519.49 177.63 L519.45 177.26 L519.40 176.90 L519.35 176.54 L519.31 176.19 L519.26 175.84 L519.21 175.51 L519.17 175.17 L519.12 174.85 L519.07 174.54 L519.03 174.23 L518.98 173.92 L518.93 173.63 L518.89 173.34 L518.84 173.05 L518.79 172.78 L518.75 172.51 L518.70 172.24 L518.65 171.99 L518.61 171.73 L518.56 171.49 L518.51 171.25 L518.47 171.02 L518.42 170.79 L518.37 170.57 L518.33 170.35 L518.28 170.15 L518.23 169.94 L518.19 169.74 L518.14 169.55 L518.09 169.36 L518.05 169.18 L518.00 169.01 L517.95 168.84 L517.91 168.67 L517.86 168.51 L517.81 168.36 L517.77 168.21 L517.72 168.07 L517.67 167.93 L517.63 167.79 L517.58 167.66 L517.53 167.54 L517.49 167.42 L517.44 167.30 L517.39 167.19 L517.35 167.09 L517.30 166.99 L517.25 166.89 L517.21 166.80 L517.16 166.71 L517.11 166.63 L517.07 166.55 L517.02 166.47 L516.97 166.40 L516.93 166.34 L516.88 166.28 L516.83 166.22 L516.79 166.16 L516.74 166.11 L516.70 166.06 L516.65 166.02 L516.60 165.98 L516.56 166.09" stroke="#e5e3e8"/><path d="M527.70 821.50 L527.75 809.77 L527.79 797.08 L527.84 783.98 L527.89 770.63 L527.93 757.18 L527.98 743.80 L528.03 730.65 L528.07 717.88 L528.12 705.66 L528.17 694.13 L528.21 683.26 L528.26 672.84 L528.31 662.61 L528.35 652.37 L528.40 641.86 L528.45 630.86 L528.49 619.66 L528.54 609.07 L528.59 599.33 L528.63 590.28 L528.68 581.73 L528.73 573.54 L528.77 565.55 L528.82 557.65 L528.87 549.81 L528.91 542.05 L528.96 534.38 L529.01 526.80 L529.05 519.34 L529.10 511.99 L529.15 504.78 L529.19 497.73 L529.24 490.82 L529.29 484.06 L529.33 477.43 L529.38 470.94 L529.43 464.58 L529.47 458.35 L529.52 452.24 L529.57 446.24 L529.61 440.35 L529.66 434.57 L529.71 428.89 L529.75 423.31 L529.80 417.82 L529.85 412.42 L529.89 407.10 L529.94 401.87 L529.98 396.71 L530.03 391.65 L530.08 386.69 L530.12 381.83 L530.17 377.08 L530.22 372.44 L530.26 367.92 L530.31 363.53 L530.36 359.27 L530.40 355.13 L530.45 351.11 L530.50 347.19 L530.54 343.38 L530.59 339.66 L530.64 336.01 L530.68 332.44 L530.73 328.94 L530.78 325.50 L530.82 322.12 L530.87 318.81 L530.92 315.56 L530.96 312.38 L531.01 309.25 L531.06 306.18 L531.10 303.17 L531.15 300.22 L531.20 297.33 L531.24 294.49 L531.29 291.70 L531.34 288.97 L531.38 286.29 L531.43 283.67 L531.48 281.09 L531.52 278.56 L531.57 276.08 L531.62 273.65 L531.66 271.26 L531.71 268.92 L531.76 266.62 L531.80 264.37 L531.85 262.16 L531.90 259.99 L531.94 257.86 L531.99 255.77 L532.04 253.72 L532.08 251.71 L532.13 249.74 L532.18 247.81 L532.22 245.92 L532.27 244.06 L532.32 242.24 L532.36 240.46 L532.41 238.72 L532.46 237.01 L532.50 235.34 L532.55 233.70 L532.60 232.10 L532.64 230.53 L532.69 229.00 L532.74 227.50 L532.78 226.03 L532.83 224.60 L532.88 223.20 L532.92 221.83 L532.97 220.50 L533.02 219.19 L533.06 217.92 L533.11 216.67 L533.16 215.46 L533.20 214.28 L533.25 213.12 L533.30 211.99 L533.34 210.90 L533.39 209.82 L533.44 208.78 L533.48 207.75 L533.53 206.76 L533.58 205.78 L533.62 204.83 L533.67 203.91 L533.72 203.00 L533.76 202.12 L533.81 201.25 L533.86 200.40 L533.90 199.58 L533.95 198.77 L534.00 197.98 L534.04 197.20 L534.09 196.44 L534.14 195.70 L534.18 194.97 L534.23 194.26 L534.28 193.55 L534.32 192.86 L534.37 192.18 L534.41 191.52 L534.46 190.86 L534.51 190.21 L534.55 189.57 L534.60 188.94 L534.65 188.32 L534.69 187.71 L534.74 187.10 L534.79 186.51 L534.83 185.92 L534.88 185.34 L534.93 184.77 L534.97 184.21 L535.02 183.66 L535.07 183.12 L535.11 182.58 L535.16 182.05 L535.21 181.54 L535.25 181.02 L535.30 180.52 L535.35 180.03 L535.39 179.54 L535.44 179.06 L535.49 178.59 L535.53 178.13 L535.58 177.67 L535.63 177.22 L535.67 176.78 L535.72 176.35 L535.77 175.93 L535.81 175.51 L535.86 175.10 L535.91 174.70 L535.95 174.30 L536.00 173.91 L536.05 173.53 L536.09 173.16 L536.14 172.79 L536.19 172.43 L536.23 172.08 L536.28 171.73 L536.33 171.39 L536.37 171.06 L536.42 170.73 L536.47 170.42 L536.51 170.10 L536.56 169.80 L536.61 169.50 L536.65 169.20 L536.70 168.92 L536.75 168.64 L536.79 168.36 L536.84 168.09 L536.89 167.83 L536.93 167.58 L536.98 167.33 L537.03 167.08 L537.07 166.84 L537.12 166.61 L537.17 166.38 L537.21 166.16 L537.26 165.95 L537.31 165.74 L537.35 165.53 L537.40 165.33 L537.45 165.14 L537.49 164.95 L537.54 164.77 L537.59 164.59 L537.63 164.42 L537.68 164.25 L537.73 164.09 L537.77 163.93 L537.82 163.78 L537.87 163.63 L537.91 163.49 L537.96 163.35 L538.01 163.22 L538.05 163.09 L538.10 162.97 L538.15 162.85 L538.19 162.73 L538.24 162.62 L538.29 162.51 L538.33 162.41 L538.38 162.31 L538.43 162.22 L538.47 162.13 L538.52 162.04 L538.57 161.96 L538.61 161.88 L538.66 161.81 L538.70 161.74 L538.75 161.67 L538.80 161.61 L538.84 161.71" stroke="#e9e1e5"/><path d="M527.70 821.50 L527.84 809.83 L527.98 797.17 L528.12 784.08 L528.26 770.70 L528.40 757.22 L528.54 743.80 L528.68 730.60 L528.82 717.80 L528.96 705.55 L529.10 694.03 L529.24 683.18 L529.38 672.78 L529.52 662.59 L529.66 652.36 L529.80 641.83 L529.94 630.79 L530.08 619.51 L530.22 608.86 L530.36 599.09 L530.50 590.02 L530.64 581.48 L530.78 573.30 L530.92 565.32 L531.06 557.41 L531.20 549.57 L531.34 541.80 L531.48 534.11 L531.62 526.52 L531.76 519.04 L531.90 511.68 L532.04 504.47 L532.18 497.40 L532.32 490.48 L532.46 483.72 L532.60 477.09 L532.74 470.59 L532.88 464.23 L533.02 458.00 L533.16 451.88 L533.30 445.88 L533.44 439.99 L533.58 434.21 L533.72 428.53 L533.86 422.94 L534.00 417.44 L534.14 412.03 L534.28 406.70 L534.41 401.45 L534.55 396.28 L534.69 391.20 L534.83 386.21 L534.97 381.33 L535.11 376.55 L535.25 371.89 L535.39 367.35 L535.53 362.94 L535.67 358.65 L535.81 354.50 L535.95 350.46 L536.09 346.53 L536.23 342.70 L536.37 338.96 L536.51 335.30 L536.65 331.71 L536.79 328.19 L536.93 324.74 L537.07 321.35 L537.21 318.02 L537.35 314.76 L537.49 311.56 L537.63 308.42 L537.77 305.34 L537.91 302.32 L538.05 299.35 L538.19 296.44 L538.33 293.59 L538.47 290.79 L538.61 288.04 L538.75 285.35 L538.89 282.71 L539.03 280.11 L539.17 277.57 L539.31 275.07 L539.45 272.63 L539.59 270.22 L539.73 267.87 L539.87 265.55 L540.01 263.28 L540.15 261.05 L540.29 258.87 L540.43 256.72 L540.57 254.61 L540.71 252.55 L540.85 250.52 L540.99 248.53 L541.13 246.58 L541.27 244.67 L541.41 242.79 L541.55 240.95 L541.69 239.15 L541.83 237.39 L541.97 235.66 L542.11 233.97 L542.25 232.31 L542.39 230.69 L542.53 229.10 L542.67 227.55 L542.81 226.03 L542.95 224.54 L543.09 223.09 L543.23 221.67 L543.37 220.28 L543.51 218.92 L543.65 217.59 L543.79 216.30 L543.93 215.03 L544.07 213.80 L544.21 212.59 L544.35 211.42 L544.49 210.27 L544.63 209.15 L544.77 208.06 L544.91 206.99 L545.05 205.95 L545.19 204.93 L545.33 203.93 L545.47 202.96 L545.61 202.01 L545.75 201.09 L545.89 200.18 L546.03 199.30 L546.17 198.43 L546.31 197.58 L546.45 196.75 L546.59 195.94 L546.73 195.14 L546.87 194.36 L547.01 193.60 L547.15 192.85 L547.29 192.11 L547.43 191.39 L547.56 190.68 L547.70 189.98 L547.84 189.29 L547.98 188.61 L548.12 187.94 L548.26 187.28 L548.40 186.63 L548.54 185.98 L548.68 185.35 L548.82 184.72 L548.96 184.11 L549.10 183.50 L549.24 182.90 L549.38 182.31 L549.52 181.72 L549.66 181.15 L549.80 180.58 L549.94 180.03 L550.08 179.48 L550.22 178.94 L550.36 178.40 L550.50 177.88 L550.64 177.36 L550.78 176.85 L550.92 176.35 L551.06 175.86 L551.20 175.37 L551.34 174.89 L551.48 174.42 L551.62 173.96 L551.76 173.51 L551.90 173.06 L552.04 172.62 L552.18 172.19 L552.32 171.76 L552.46 171.34 L552.60 170.93 L552.74 170.53 L552.88 170.13 L553.02 169.74 L553.16 169.36 L553.30 168.98 L553.44 168.61 L553.58 168.25 L553.72 167.90 L553.86 167.55 L554.00 167.20 L554.14 166.87 L554.28 166.54 L554.42 166.22 L554.56 165.90 L554.70 165.59 L554.84 165.29 L554.98 164.99 L555.12 164.70 L555.26 164.41 L555.40 164.13 L555.54 163.86 L555.68 163.59 L555.82 163.33 L555.96 163.08 L556.10 162.83 L556.24 162.58 L556.38 162.34 L556.52 162.11 L556.66 161.88 L556.80 161.66 L556.94 161.44 L557.08 161.23 L557.22 161.03 L557.36 160.82 L557.50 160.63 L557.64 160.44 L557.78 160.25 L557.92 160.07 L558.06 159.90 L558.20 159.73 L558.34 159.56 L558.48 159.40 L558.62 159.24 L558.76 159.09 L558.90 158.94 L559.04 158.80 L559.18 158.66 L559.32 158.53 L559.46 158.40 L559.60 158.27 L559.74 158.15 L559.88 158.03 L560.02 157.92 L560.16 157.81 L560.30 157.71 L560.44 157.61 L560.58 157.51 L560.71 157.42 L560.85 157.33 L560.99 157.24 L561.13 157.32" stroke="#ecdbde"/><path d="M527.70 821.50 L527.93 809.89 L528.17 797.27 L528.40 784.17 L528.63 770.78 L528.87 757.26 L529.10 743.80 L529.33 730.56 L529.57 717.72 L529.80 705.45 L530.03 693.92 L530.26 683.10 L530.50 672.73 L530.73 662.57 L530.96 652.35 L531.20 641.81 L531.43 630.71 L531.66 619.36 L531.90 608.65 L532.13 598.85 L532.36 589.77 L532.60 581.23 L532.83 573.06 L533.06 565.08 L533.30 557.17 L533.53 549.32 L533.76 541.54 L534.00 533.85 L534.23 526.24 L534.46 518.75 L534.69 511.38 L534.93 504.15 L535.16 497.07 L535.39 490.15 L535.63 483.37 L535.86 476.74 L536.09 470.25 L536.33 463.88 L536.56 457.64 L536.79 451.53 L537.03 445.52 L537.26 439.63 L537.49 433.85 L537.73 428.16 L537.96 422.56 L538.19 417.06 L538.43 411.64 L538.66 406.29 L538.89 401.03 L539.12 395.84 L539.36 390.74 L539.59 385.73 L539.82 380.83 L540.06 376.03 L540.29 371.34 L540.52 366.78 L540.76 362.34 L540.99 358.04 L541.22 353.86 L541.46 349.81 L541.69 345.86 L541.92 342.01 L542.16 338.26 L542.39 334.59 L542.62 330.98 L542.86 327.45 L543.09 323.98 L543.32 320.58 L543.55 317.24 L543.79 313.96 L544.02 310.74 L544.25 307.59 L544.49 304.49 L544.72 301.46 L544.95 298.48 L545.19 295.55 L545.42 292.69 L545.65 289.87 L545.89 287.11 L546.12 284.40 L546.35 281.75 L546.59 279.14 L546.82 276.58 L547.05 274.07 L547.29 271.60 L547.52 269.19 L547.75 266.81 L547.98 264.48 L548.22 262.20 L548.45 259.95 L548.68 257.75 L548.92 255.58 L549.15 253.46 L549.38 251.37 L549.62 249.32 L549.85 247.32 L550.08 245.35 L550.32 243.42 L550.55 241.52 L550.78 239.66 L551.02 237.84 L551.25 236.06 L551.48 234.31 L551.72 232.60 L551.95 230.92 L552.18 229.28 L552.41 227.67 L552.65 226.10 L552.88 224.56 L553.11 223.05 L553.35 221.57 L553.58 220.13 L553.81 218.72 L554.05 217.34 L554.28 216.00 L554.51 214.68 L554.75 213.39 L554.98 212.14 L555.21 210.91 L555.45 209.71 L555.68 208.55 L555.91 207.40 L556.15 206.29 L556.38 205.20 L556.61 204.14 L556.84 203.10 L557.08 202.08 L557.31 201.09 L557.54 200.12 L557.78 199.17 L558.01 198.25 L558.24 197.34 L558.48 196.45 L558.71 195.58 L558.94 194.73 L559.18 193.90 L559.41 193.08 L559.64 192.28 L559.88 191.50 L560.11 190.73 L560.34 189.97 L560.58 189.22 L560.81 188.49 L561.04 187.77 L561.27 187.06 L561.51 186.36 L561.74 185.67 L561.97 184.98 L562.21 184.31 L562.44 183.65 L562.67 182.99 L562.91 182.34 L563.14 181.70 L563.37 181.07 L563.61 180.45 L563.84 179.84 L564.07 179.23 L564.31 178.64 L564.54 178.05 L564.77 177.47 L565.01 176.90 L565.24 176.34 L565.47 175.78 L565.70 175.23 L565.94 174.69 L566.17 174.16 L566.40 173.64 L566.64 173.12 L566.87 172.62 L567.10 172.12 L567.34 171.62 L567.57 171.14 L567.80 170.66 L568.04 170.19 L568.27 169.73 L568.50 169.27 L568.74 168.82 L568.97 168.38 L569.20 167.95 L569.43 167.52 L569.67 167.10 L569.90 166.69 L570.13 166.28 L570.37 165.89 L570.60 165.49 L570.83 165.11 L571.07 164.73 L571.30 164.36 L571.53 163.99 L571.77 163.63 L572.00 163.28 L572.23 162.94 L572.47 162.60 L572.70 162.26 L572.93 161.94 L573.17 161.62 L573.40 161.30 L573.63 160.99 L573.86 160.69 L574.10 160.39 L574.33 160.10 L574.56 159.82 L574.80 159.54 L575.03 159.27 L575.26 159.00 L575.50 158.74 L575.73 158.48 L575.96 158.23 L576.20 157.98 L576.43 157.75 L576.66 157.51 L576.90 157.28 L577.13 157.06 L577.36 156.84 L577.60 156.62 L577.83 156.42 L578.06 156.21 L578.29 156.01 L578.53 155.82 L578.76 155.63 L578.99 155.44 L579.23 155.27 L579.46 155.09 L579.69 154.92 L579.93 154.75 L580.16 154.59 L580.39 154.44 L580.63 154.28 L580.86 154.13 L581.09 153.99 L581.33 153.85 L581.56 153.71 L581.79 153.58 L582.03 153.45 L582.26 153.33 L582.49 153.21 L582.72 153.09 L582.96 152.98 L583.19 152.87 L583.42 152.94" stroke="#efd6d8"/><path d="M527.70 821.50 L528.03 809.95 L528.35 797.36 L528.68 784.27 L529.01 770.86 L529.33 757.31 L529.66 743.80 L529.98 730.51 L530.31 717.63 L530.64 705.35 L530.96 693.82 L531.29 683.02 L531.62 672.68 L531.94 662.55 L532.27 652.34 L532.60 641.79 L532.92 630.64 L533.25 619.21 L533.58 608.44 L533.90 598.61 L534.23 589.52 L534.55 580.98 L534.88 572.81 L535.21 564.84 L535.53 556.93 L535.86 549.08 L536.19 541.29 L536.51 533.58 L536.84 525.96 L537.17 518.45 L537.49 511.07 L537.82 503.83 L538.15 496.74 L538.47 489.81 L538.80 483.03 L539.12 476.40 L539.45 469.90 L539.78 463.53 L540.10 457.29 L540.43 451.17 L540.76 445.17 L541.08 439.27 L541.41 433.48 L541.74 427.79 L542.06 422.19 L542.39 416.68 L542.72 411.25 L543.04 405.89 L543.37 400.60 L543.69 395.40 L544.02 390.28 L544.35 385.25 L544.67 380.32 L545.00 375.50 L545.33 370.80 L545.65 366.21 L545.98 361.75 L546.31 357.42 L546.63 353.23 L546.96 349.16 L547.29 345.19 L547.61 341.33 L547.94 337.56 L548.26 333.87 L548.59 330.26 L548.92 326.71 L549.24 323.22 L549.57 319.81 L549.90 316.45 L550.22 313.16 L550.55 309.93 L550.88 306.76 L551.20 303.65 L551.53 300.60 L551.85 297.60 L552.18 294.67 L552.51 291.78 L552.83 288.96 L553.16 286.18 L553.49 283.46 L553.81 280.78 L554.14 278.16 L554.47 275.59 L554.79 273.06 L555.12 270.58 L555.45 268.15 L555.77 265.76 L556.10 263.41 L556.42 261.11 L556.75 258.85 L557.08 256.62 L557.40 254.44 L557.73 252.30 L558.06 250.20 L558.38 248.13 L558.71 246.10 L559.04 244.12 L559.36 242.16 L559.69 240.25 L560.02 238.37 L560.34 236.53 L560.67 234.73 L560.99 232.96 L561.32 231.23 L561.65 229.53 L561.97 227.87 L562.30 226.24 L562.63 224.65 L562.95 223.08 L563.28 221.56 L563.61 220.06 L563.93 218.60 L564.26 217.17 L564.59 215.77 L564.91 214.40 L565.24 213.06 L565.56 211.75 L565.89 210.48 L566.22 209.23 L566.54 208.01 L566.87 206.82 L567.20 205.66 L567.52 204.52 L567.85 203.41 L568.18 202.33 L568.50 201.27 L568.83 200.23 L569.16 199.22 L569.48 198.23 L569.81 197.26 L570.13 196.31 L570.46 195.39 L570.79 194.48 L571.11 193.59 L571.44 192.72 L571.77 191.86 L572.09 191.02 L572.42 190.20 L572.75 189.40 L573.07 188.60 L573.40 187.82 L573.73 187.06 L574.05 186.30 L574.38 185.56 L574.70 184.83 L575.03 184.11 L575.36 183.39 L575.68 182.69 L576.01 181.99 L576.34 181.31 L576.66 180.63 L576.99 179.96 L577.32 179.30 L577.64 178.65 L577.97 178.01 L578.29 177.37 L578.62 176.74 L578.95 176.13 L579.27 175.52 L579.60 174.92 L579.93 174.32 L580.25 173.74 L580.58 173.16 L580.91 172.59 L581.23 172.03 L581.56 171.47 L581.89 170.93 L582.21 170.39 L582.54 169.86 L582.86 169.34 L583.19 168.82 L583.52 168.31 L583.84 167.81 L584.17 167.32 L584.50 166.84 L584.82 166.36 L585.15 165.89 L585.48 165.42 L585.80 164.97 L586.13 164.52 L586.46 164.07 L586.78 163.64 L587.11 163.21 L587.43 162.79 L587.76 162.37 L588.09 161.97 L588.41 161.56 L588.74 161.17 L589.07 160.78 L589.39 160.40 L589.72 160.02 L590.05 159.66 L590.37 159.29 L590.70 158.94 L591.03 158.59 L591.35 158.24 L591.68 157.91 L592.00 157.57 L592.33 157.25 L592.66 156.93 L592.98 156.62 L593.31 156.31 L593.64 156.01 L593.96 155.71 L594.29 155.42 L594.62 155.13 L594.94 154.85 L595.27 154.58 L595.60 154.31 L595.92 154.05 L596.25 153.79 L596.57 153.54 L596.90 153.29 L597.23 153.05 L597.55 152.81 L597.88 152.58 L598.21 152.35 L598.53 152.13 L598.86 151.91 L599.19 151.70 L599.51 151.49 L599.84 151.29 L600.16 151.09 L600.49 150.90 L600.82 150.71 L601.14 150.52 L601.47 150.34 L601.80 150.17 L602.12 150.00 L602.45 149.83 L602.78 149.67 L603.10 149.51 L603.43 149.35 L603.76 149.20 L604.08 149.05 L604.41 148.91 L604.73 148.77 L605.06 148.64 L605.39 148.51 L605.71 148.55" stroke="#f1d0d1"/><path d="M527.70 821.50 L528.12 810.00 L528.54 797.45 L528.96 784.37 L529.38 770.93 L529.80 757.35 L530.22 743.79 L530.64 730.47 L531.06 717.55 L531.48 705.24 L531.90 693.72 L532.32 682.94 L532.74 672.63 L533.16 662.52 L533.58 652.33 L534.00 641.77 L534.41 630.56 L534.83 619.06 L535.25 608.23 L535.67 598.37 L536.09 589.27 L536.51 580.73 L536.93 572.57 L537.35 564.60 L537.77 556.69 L538.19 548.83 L538.61 541.04 L539.03 533.31 L539.45 525.68 L539.87 518.16 L540.29 510.76 L540.71 503.51 L541.13 496.41 L541.55 489.48 L541.97 482.69 L542.39 476.05 L542.81 469.55 L543.23 463.18 L543.65 456.94 L544.07 450.82 L544.49 444.81 L544.91 438.91 L545.33 433.12 L545.75 427.42 L546.17 421.82 L546.59 416.29 L547.01 410.85 L547.43 405.48 L547.84 400.18 L548.26 394.96 L548.68 389.82 L549.10 384.77 L549.52 379.82 L549.94 374.98 L550.36 370.25 L550.78 365.64 L551.20 361.16 L551.62 356.81 L552.04 352.60 L552.46 348.50 L552.88 344.53 L553.30 340.65 L553.72 336.86 L554.14 333.16 L554.56 329.53 L554.98 325.96 L555.40 322.47 L555.82 319.03 L556.24 315.66 L556.66 312.36 L557.08 309.11 L557.50 305.93 L557.92 302.81 L558.34 299.74 L558.76 296.73 L559.18 293.78 L559.60 290.88 L560.02 288.04 L560.44 285.25 L560.85 282.51 L561.27 279.82 L561.69 277.19 L562.11 274.60 L562.53 272.06 L562.95 269.56 L563.37 267.11 L563.79 264.71 L564.21 262.34 L564.63 260.02 L565.05 257.74 L565.47 255.50 L565.89 253.30 L566.31 251.14 L566.73 249.02 L567.15 246.94 L567.57 244.89 L567.99 242.88 L568.41 240.91 L568.83 238.98 L569.25 237.09 L569.67 235.23 L570.09 233.40 L570.51 231.61 L570.93 229.86 L571.35 228.14 L571.77 226.46 L572.19 224.81 L572.61 223.19 L573.03 221.61 L573.45 220.06 L573.86 218.55 L574.28 217.06 L574.70 215.61 L575.12 214.19 L575.54 212.80 L575.96 211.44 L576.38 210.11 L576.80 208.81 L577.22 207.55 L577.64 206.31 L578.06 205.10 L578.48 203.91 L578.90 202.76 L579.32 201.63 L579.74 200.52 L580.16 199.44 L580.58 198.38 L581.00 197.35 L581.42 196.34 L581.84 195.35 L582.26 194.38 L582.68 193.43 L583.10 192.50 L583.52 191.59 L583.94 190.70 L584.36 189.82 L584.78 188.96 L585.20 188.12 L585.62 187.29 L586.04 186.48 L586.46 185.68 L586.88 184.89 L587.29 184.12 L587.71 183.35 L588.13 182.60 L588.55 181.86 L588.97 181.12 L589.39 180.40 L589.81 179.68 L590.23 178.97 L590.65 178.27 L591.07 177.58 L591.49 176.90 L591.91 176.23 L592.33 175.56 L592.75 174.90 L593.17 174.26 L593.59 173.62 L594.01 172.98 L594.43 172.36 L594.85 171.74 L595.27 171.14 L595.69 170.54 L596.11 169.94 L596.53 169.36 L596.95 168.79 L597.37 168.22 L597.79 167.66 L598.21 167.10 L598.63 166.56 L599.05 166.02 L599.47 165.49 L599.89 164.97 L600.30 164.45 L600.72 163.94 L601.14 163.44 L601.56 162.95 L601.98 162.46 L602.40 161.98 L602.82 161.51 L603.24 161.05 L603.66 160.59 L604.08 160.14 L604.50 159.69 L604.92 159.25 L605.34 158.82 L605.76 158.40 L606.18 157.98 L606.60 157.57 L607.02 157.17 L607.44 156.77 L607.86 156.38 L608.28 155.99 L608.70 155.61 L609.12 155.24 L609.54 154.87 L609.96 154.51 L610.38 154.16 L610.80 153.81 L611.22 153.46 L611.64 153.13 L612.06 152.80 L612.48 152.47 L612.90 152.15 L613.31 151.84 L613.73 151.53 L614.15 151.23 L614.57 150.93 L614.99 150.64 L615.41 150.35 L615.83 150.07 L616.25 149.79 L616.67 149.52 L617.09 149.26 L617.51 149.00 L617.93 148.74 L618.35 148.49 L618.77 148.25 L619.19 148.00 L619.61 147.77 L620.03 147.54 L620.45 147.31 L620.87 147.09 L621.29 146.87 L621.71 146.66 L622.13 146.45 L622.55 146.25 L622.97 146.05 L623.39 145.86 L623.81 145.67 L624.23 145.48 L624.65 145.30 L625.07 145.12 L625.49 144.95 L625.91 144.78 L626.33 144.61 L626.74 144.45 L627.16 144.29 L627.58 144.14 L628.00 144.17" stroke="#f4caca"/><path d="M527.70 821.50 L528.21 810.06 L528.73 797.55 L529.24 784.46 L529.75 771.01 L530.26 757.39 L530.78 743.79 L531.29 730.42 L531.80 717.47 L532.32 705.14 L532.83 693.62 L533.34 682.86 L533.86 672.58 L534.37 662.50 L534.88 652.32 L535.39 641.75 L535.91 630.49 L536.42 618.91 L536.93 608.03 L537.45 598.13 L537.96 589.02 L538.47 580.48 L538.98 572.32 L539.50 564.36 L540.01 556.45 L540.52 548.59 L541.04 540.78 L541.55 533.05 L542.06 525.40 L542.58 517.87 L543.09 510.45 L543.60 503.19 L544.11 496.09 L544.63 489.14 L545.14 482.35 L545.65 475.70 L546.17 469.20 L546.68 462.83 L547.19 456.58 L547.70 450.46 L548.22 444.45 L548.73 438.55 L549.24 432.76 L549.76 427.05 L550.27 421.44 L550.78 415.91 L551.30 410.46 L551.81 405.08 L552.32 399.76 L552.83 394.52 L553.35 389.36 L553.86 384.29 L554.37 379.32 L554.89 374.45 L555.40 369.70 L555.91 365.06 L556.42 360.56 L556.94 356.20 L557.45 351.96 L557.96 347.85 L558.48 343.86 L558.99 339.96 L559.50 336.16 L560.02 332.45 L560.53 328.80 L561.04 325.22 L561.55 321.71 L562.07 318.26 L562.58 314.88 L563.09 311.56 L563.61 308.30 L564.12 305.10 L564.63 301.96 L565.14 298.88 L565.66 295.86 L566.17 292.89 L566.68 289.98 L567.20 287.12 L567.71 284.32 L568.22 281.57 L568.74 278.86 L569.25 276.21 L569.76 273.61 L570.27 271.05 L570.79 268.54 L571.30 266.07 L571.81 263.65 L572.33 261.27 L572.84 258.93 L573.35 256.64 L573.86 254.38 L574.38 252.16 L574.89 249.99 L575.40 247.85 L575.92 245.74 L576.43 243.68 L576.94 241.65 L577.46 239.66 L577.97 237.71 L578.48 235.80 L578.99 233.92 L579.51 232.07 L580.02 230.27 L580.53 228.49 L581.05 226.75 L581.56 225.05 L582.07 223.38 L582.58 221.74 L583.10 220.14 L583.61 218.57 L584.12 217.03 L584.64 215.53 L585.15 214.05 L585.66 212.61 L586.18 211.20 L586.69 209.82 L587.20 208.47 L587.71 207.15 L588.23 205.86 L588.74 204.60 L589.25 203.37 L589.77 202.17 L590.28 200.99 L590.79 199.84 L591.31 198.71 L591.82 197.61 L592.33 196.53 L592.84 195.48 L593.36 194.45 L593.87 193.43 L594.38 192.44 L594.90 191.48 L595.41 190.53 L595.92 189.59 L596.43 188.68 L596.95 187.78 L597.46 186.90 L597.97 186.04 L598.49 185.19 L599.00 184.36 L599.51 183.54 L600.03 182.73 L600.54 181.93 L601.05 181.14 L601.56 180.37 L602.08 179.61 L602.59 178.85 L603.10 178.10 L603.62 177.36 L604.13 176.63 L604.64 175.91 L605.15 175.20 L605.67 174.50 L606.18 173.80 L606.69 173.12 L607.21 172.44 L607.72 171.77 L608.23 171.10 L608.75 170.45 L609.26 169.80 L609.77 169.17 L610.28 168.54 L610.80 167.91 L611.31 167.30 L611.82 166.69 L612.34 166.10 L612.85 165.51 L613.36 164.92 L613.87 164.35 L614.39 163.78 L614.90 163.22 L615.41 162.67 L615.93 162.12 L616.44 161.58 L616.95 161.05 L617.47 160.53 L617.98 160.01 L618.49 159.50 L619.00 159.00 L619.52 158.51 L620.03 158.02 L620.54 157.54 L621.06 157.06 L621.57 156.60 L622.08 156.14 L622.59 155.68 L623.11 155.23 L623.62 154.79 L624.13 154.36 L624.65 153.93 L625.16 153.51 L625.67 153.10 L626.19 152.69 L626.70 152.28 L627.21 151.89 L627.72 151.50 L628.24 151.11 L628.75 150.74 L629.26 150.36 L629.78 150.00 L630.29 149.64 L630.80 149.28 L631.31 148.94 L631.83 148.59 L632.34 148.26 L632.85 147.92 L633.37 147.60 L633.88 147.28 L634.39 146.96 L634.91 146.65 L635.42 146.35 L635.93 146.05 L636.44 145.75 L636.96 145.47 L637.47 145.18 L637.98 144.90 L638.50 144.63 L639.01 144.36 L639.52 144.10 L640.03 143.84 L640.55 143.59 L641.06 143.34 L641.57 143.09 L642.09 142.85 L642.60 142.62 L643.11 142.38 L643.63 142.16 L644.14 141.94 L644.65 141.72 L645.16 141.50 L645.68 141.30 L646.19 141.09 L646.70 140.89 L647.22 140.69 L647.73 140.50 L648.24 140.31 L648.75 140.13 L649.27 139.94 L649.78 139.77 L650.29 139.78" stroke="#f4c1c2"/><path d="M527.70 821.50 L528.31 810.12 L528.91 797.64 L529.52 784.56 L530.12 771.09 L530.73 757.43 L531.34 743.79 L531.94 730.37 L532.55 717.39 L533.16 705.03 L533.76 693.51 L534.37 682.78 L534.97 672.53 L535.58 662.48 L536.19 652.31 L536.79 641.72 L537.40 630.42 L538.01 618.76 L538.61 607.82 L539.22 597.89 L539.82 588.77 L540.43 580.23 L541.04 572.08 L541.64 564.12 L542.25 556.21 L542.86 548.34 L543.46 540.53 L544.07 532.78 L544.67 525.12 L545.28 517.57 L545.89 510.15 L546.49 502.87 L547.10 495.76 L547.70 488.81 L548.31 482.01 L548.92 475.36 L549.52 468.85 L550.13 462.48 L550.74 456.23 L551.34 450.11 L551.95 444.10 L552.55 438.19 L553.16 432.39 L553.77 426.69 L554.37 421.07 L554.98 415.53 L555.59 410.07 L556.19 404.67 L556.80 399.34 L557.40 394.08 L558.01 388.90 L558.62 383.81 L559.22 378.82 L559.83 373.93 L560.44 369.15 L561.04 364.49 L561.65 359.97 L562.25 355.58 L562.86 351.33 L563.47 347.20 L564.07 343.19 L564.68 339.28 L565.28 335.47 L565.89 331.73 L566.50 328.07 L567.10 324.48 L567.71 320.95 L568.32 317.49 L568.92 314.09 L569.53 310.76 L570.13 307.48 L570.74 304.27 L571.35 301.12 L571.95 298.02 L572.56 294.99 L573.17 292.01 L573.77 289.08 L574.38 286.21 L574.98 283.39 L575.59 280.62 L576.20 277.90 L576.80 275.24 L577.41 272.62 L578.02 270.04 L578.62 267.52 L579.23 265.04 L579.83 262.60 L580.44 260.20 L581.05 257.85 L581.65 255.53 L582.26 253.26 L582.86 251.02 L583.47 248.83 L584.08 246.67 L584.68 244.55 L585.29 242.47 L585.90 240.42 L586.50 238.41 L587.11 236.44 L587.71 234.51 L588.32 232.61 L588.93 230.74 L589.53 228.92 L590.14 227.12 L590.75 225.36 L591.35 223.64 L591.96 221.95 L592.56 220.29 L593.17 218.67 L593.78 217.08 L594.38 215.52 L594.99 213.99 L595.60 212.50 L596.20 211.03 L596.81 209.60 L597.41 208.20 L598.02 206.83 L598.63 205.49 L599.23 204.18 L599.84 202.90 L600.44 201.65 L601.05 200.42 L601.66 199.22 L602.26 198.05 L602.87 196.90 L603.48 195.78 L604.08 194.68 L604.69 193.61 L605.29 192.55 L605.90 191.52 L606.51 190.51 L607.11 189.52 L607.72 188.55 L608.33 187.60 L608.93 186.66 L609.54 185.75 L610.14 184.84 L610.75 183.96 L611.36 183.09 L611.96 182.23 L612.57 181.39 L613.18 180.56 L613.78 179.74 L614.39 178.94 L614.99 178.14 L615.60 177.35 L616.21 176.58 L616.81 175.81 L617.42 175.05 L618.02 174.30 L618.63 173.56 L619.24 172.82 L619.84 172.10 L620.45 171.38 L621.06 170.67 L621.66 169.97 L622.27 169.28 L622.87 168.59 L623.48 167.92 L624.09 167.25 L624.69 166.59 L625.30 165.94 L625.91 165.29 L626.51 164.66 L627.12 164.03 L627.72 163.41 L628.33 162.79 L628.94 162.19 L629.54 161.59 L630.15 161.00 L630.76 160.42 L631.36 159.84 L631.97 159.28 L632.57 158.71 L633.18 158.16 L633.79 157.62 L634.39 157.08 L635.00 156.54 L635.60 156.02 L636.21 155.50 L636.82 154.99 L637.42 154.49 L638.03 153.99 L638.64 153.50 L639.24 153.02 L639.85 152.54 L640.45 152.07 L641.06 151.61 L641.67 151.15 L642.27 150.70 L642.88 150.25 L643.49 149.81 L644.09 149.38 L644.70 148.96 L645.30 148.54 L645.91 148.12 L646.52 147.72 L647.12 147.32 L647.73 146.92 L648.34 146.53 L648.94 146.15 L649.55 145.77 L650.15 145.40 L650.76 145.03 L651.37 144.67 L651.97 144.32 L652.58 143.97 L653.18 143.63 L653.79 143.29 L654.40 142.95 L655.00 142.63 L655.61 142.30 L656.22 141.99 L656.82 141.68 L657.43 141.37 L658.03 141.07 L658.64 140.77 L659.25 140.48 L659.85 140.19 L660.46 139.91 L661.07 139.63 L661.67 139.36 L662.28 139.09 L662.88 138.83 L663.49 138.57 L664.10 138.32 L664.70 138.07 L665.31 137.82 L665.92 137.58 L666.52 137.34 L667.13 137.11 L667.73 136.88 L668.34 136.66 L668.95 136.44 L669.55 136.22 L670.16 136.01 L670.76 135.80 L671.37 135.60 L671.98 135.40 L672.58 135.40" stroke="#f3b7b8"/><path d="M527.70 821.50 L528.40 810.18 L529.10 797.73 L529.80 784.66 L530.50 771.16 L531.20 757.47 L531.90 743.79 L532.60 730.33 L533.30 717.30 L534.00 704.93 L534.69 693.41 L535.39 682.69 L536.09 672.48 L536.79 662.46 L537.49 652.30 L538.19 641.70 L538.89 630.34 L539.59 618.61 L540.29 607.61 L540.99 597.65 L541.69 588.51 L542.39 579.98 L543.09 571.83 L543.79 563.88 L544.49 555.97 L545.19 548.10 L545.89 540.27 L546.59 532.51 L547.29 524.84 L547.98 517.28 L548.68 509.84 L549.38 502.55 L550.08 495.43 L550.78 488.47 L551.48 481.67 L552.18 475.01 L552.88 468.50 L553.58 462.13 L554.28 455.88 L554.98 449.75 L555.68 443.74 L556.38 437.83 L557.08 432.03 L557.78 426.32 L558.48 420.69 L559.18 415.15 L559.88 409.68 L560.58 404.27 L561.27 398.92 L561.97 393.64 L562.67 388.44 L563.37 383.33 L564.07 378.31 L564.77 373.40 L565.47 368.60 L566.17 363.92 L566.87 359.38 L567.57 354.97 L568.27 350.70 L568.97 346.55 L569.67 342.52 L570.37 338.60 L571.07 334.77 L571.77 331.02 L572.47 327.34 L573.17 323.73 L573.86 320.19 L574.56 316.72 L575.26 313.30 L575.96 309.96 L576.66 306.67 L577.36 303.44 L578.06 300.27 L578.76 297.17 L579.46 294.11 L580.16 291.12 L580.86 288.18 L581.56 285.29 L582.26 282.46 L582.96 279.68 L583.66 276.94 L584.36 274.26 L585.06 271.63 L585.76 269.04 L586.46 266.49 L587.15 264.00 L587.85 261.54 L588.55 259.13 L589.25 256.76 L589.95 254.43 L590.65 252.14 L591.35 249.89 L592.05 247.67 L592.75 245.50 L593.45 243.36 L594.15 241.26 L594.85 239.19 L595.55 237.16 L596.25 235.17 L596.95 233.22 L597.65 231.30 L598.35 229.42 L599.05 227.57 L599.75 225.75 L600.44 223.97 L601.14 222.23 L601.84 220.52 L602.54 218.84 L603.24 217.20 L603.94 215.58 L604.64 214.00 L605.34 212.46 L606.04 210.94 L606.74 209.46 L607.44 208.00 L608.14 206.58 L608.84 205.19 L609.54 203.83 L610.24 202.50 L610.94 201.20 L611.64 199.92 L612.34 198.68 L613.04 197.46 L613.73 196.26 L614.43 195.09 L615.13 193.95 L615.83 192.83 L616.53 191.73 L617.23 190.66 L617.93 189.61 L618.63 188.58 L619.33 187.57 L620.03 186.57 L620.73 185.60 L621.43 184.64 L622.13 183.71 L622.83 182.78 L623.53 181.88 L624.23 180.99 L624.93 180.11 L625.63 179.25 L626.33 178.40 L627.02 177.56 L627.72 176.73 L628.42 175.91 L629.12 175.10 L629.82 174.31 L630.52 173.52 L631.22 172.73 L631.92 171.96 L632.62 171.20 L633.32 170.44 L634.02 169.69 L634.72 168.96 L635.42 168.22 L636.12 167.50 L636.82 166.79 L637.52 166.08 L638.22 165.38 L638.92 164.69 L639.62 164.01 L640.31 163.34 L641.01 162.67 L641.71 162.01 L642.41 161.36 L643.11 160.72 L643.81 160.08 L644.51 159.46 L645.21 158.84 L645.91 158.22 L646.61 157.62 L647.31 157.02 L648.01 156.43 L648.71 155.85 L649.41 155.27 L650.11 154.70 L650.81 154.14 L651.51 153.59 L652.21 153.04 L652.90 152.50 L653.60 151.96 L654.30 151.44 L655.00 150.92 L655.70 150.40 L656.40 149.90 L657.10 149.40 L657.80 148.90 L658.50 148.42 L659.20 147.94 L659.90 147.46 L660.60 147.00 L661.30 146.53 L662.00 146.08 L662.70 145.63 L663.40 145.19 L664.10 144.75 L664.80 144.32 L665.50 143.90 L666.19 143.48 L666.89 143.07 L667.59 142.66 L668.29 142.26 L668.99 141.87 L669.69 141.48 L670.39 141.09 L671.09 140.71 L671.79 140.34 L672.49 139.97 L673.19 139.61 L673.89 139.26 L674.59 138.91 L675.29 138.56 L675.99 138.22 L676.69 137.89 L677.39 137.55 L678.09 137.23 L678.79 136.91 L679.48 136.59 L680.18 136.28 L680.88 135.98 L681.58 135.68 L682.28 135.38 L682.98 135.09 L683.68 134.81 L684.38 134.52 L685.08 134.25 L685.78 133.97 L686.48 133.71 L687.18 133.44 L687.88 133.18 L688.58 132.93 L689.28 132.67 L689.98 132.43 L690.68 132.18 L691.38 131.95 L692.08 131.71 L692.77 131.48 L693.47 131.25 L694.17 131.03 L694.87 131.02" stroke="#f2acae"/><path d="M527.70 821.50 L528.49 810.24 L529.29 797.82 L530.08 784.75 L530.87 771.24 L531.66 757.51 L532.46 743.78 L533.25 730.28 L534.04 717.22 L534.83 704.83 L535.63 693.31 L536.42 682.61 L537.21 672.43 L538.01 662.44 L538.80 652.30 L539.59 641.68 L540.38 630.27 L541.18 618.46 L541.97 607.40 L542.76 597.41 L543.55 588.26 L544.35 579.73 L545.14 571.59 L545.93 563.64 L546.73 555.73 L547.52 547.85 L548.31 540.02 L549.10 532.25 L549.90 524.56 L550.69 516.98 L551.48 509.53 L552.27 502.23 L553.07 495.10 L553.86 488.13 L554.65 481.33 L555.45 474.67 L556.24 468.15 L557.03 461.77 L557.82 455.52 L558.62 449.40 L559.41 443.38 L560.20 437.47 L560.99 431.67 L561.79 425.95 L562.58 420.32 L563.37 414.77 L564.17 409.28 L564.96 403.86 L565.75 398.50 L566.54 393.21 L567.34 387.99 L568.13 382.85 L568.92 377.81 L569.71 372.87 L570.51 368.05 L571.30 363.35 L572.09 358.78 L572.89 354.35 L573.68 350.06 L574.47 345.90 L575.26 341.86 L576.06 337.92 L576.85 334.07 L577.64 330.31 L578.43 326.61 L579.23 322.99 L580.02 319.44 L580.81 315.94 L581.61 312.52 L582.40 309.15 L583.19 305.85 L583.98 302.61 L584.78 299.43 L585.57 296.31 L586.36 293.24 L587.15 290.23 L587.95 287.28 L588.74 284.38 L589.53 281.53 L590.33 278.73 L591.12 275.98 L591.91 273.28 L592.70 270.63 L593.50 268.03 L594.29 265.47 L595.08 262.96 L595.87 260.49 L596.67 258.06 L597.46 255.67 L598.25 253.33 L599.05 251.02 L599.84 248.75 L600.63 246.51 L601.42 244.32 L602.22 242.16 L603.01 240.04 L603.80 237.96 L604.59 235.91 L605.39 233.90 L606.18 231.93 L606.97 229.99 L607.77 228.09 L608.56 226.22 L609.35 224.38 L610.14 222.58 L610.94 220.82 L611.73 219.09 L612.52 217.39 L613.31 215.72 L614.11 214.09 L614.90 212.49 L615.69 210.92 L616.49 209.39 L617.28 207.88 L618.07 206.41 L618.86 204.96 L619.66 203.55 L620.45 202.17 L621.24 200.82 L622.04 199.49 L622.83 198.20 L623.62 196.93 L624.41 195.69 L625.21 194.47 L626.00 193.29 L626.79 192.12 L627.58 190.98 L628.38 189.86 L629.17 188.77 L629.96 187.70 L630.76 186.64 L631.55 185.61 L632.34 184.60 L633.13 183.60 L633.93 182.63 L634.72 181.67 L635.51 180.72 L636.30 179.80 L637.10 178.89 L637.89 177.99 L638.68 177.10 L639.48 176.23 L640.27 175.37 L641.06 174.52 L641.85 173.68 L642.65 172.85 L643.44 172.03 L644.23 171.22 L645.02 170.42 L645.82 169.62 L646.61 168.84 L647.40 168.06 L648.20 167.29 L648.99 166.53 L649.78 165.78 L650.57 165.03 L651.37 164.30 L652.16 163.57 L652.95 162.85 L653.74 162.14 L654.54 161.43 L655.33 160.74 L656.12 160.05 L656.92 159.37 L657.71 158.70 L658.50 158.03 L659.29 157.37 L660.09 156.72 L660.88 156.08 L661.67 155.44 L662.46 154.82 L663.26 154.20 L664.05 153.58 L664.84 152.98 L665.64 152.38 L666.43 151.79 L667.22 151.20 L668.01 150.63 L668.81 150.06 L669.60 149.49 L670.39 148.94 L671.18 148.39 L671.98 147.84 L672.77 147.31 L673.56 146.78 L674.36 146.25 L675.15 145.74 L675.94 145.23 L676.73 144.73 L677.53 144.23 L678.32 143.74 L679.11 143.25 L679.90 142.78 L680.70 142.30 L681.49 141.84 L682.28 141.38 L683.08 140.93 L683.87 140.48 L684.66 140.04 L685.45 139.60 L686.25 139.17 L687.04 138.75 L687.83 138.33 L688.62 137.92 L689.42 137.51 L690.21 137.11 L691.00 136.71 L691.80 136.32 L692.59 135.94 L693.38 135.56 L694.17 135.19 L694.97 134.82 L695.76 134.45 L696.55 134.09 L697.34 133.74 L698.14 133.39 L698.93 133.05 L699.72 132.71 L700.52 132.38 L701.31 132.05 L702.10 131.73 L702.89 131.41 L703.69 131.09 L704.48 130.78 L705.27 130.48 L706.06 130.18 L706.86 129.88 L707.65 129.59 L708.44 129.30 L709.24 129.02 L710.03 128.74 L710.82 128.47 L711.61 128.20 L712.41 127.93 L713.20 127.67 L713.99 127.41 L714.78 127.16 L715.58 126.91 L716.37 126.66 L717.16 126.63" stroke="#f1a1a4"/><path d="M527.70 821.50 L528.59 810.29 L529.47 797.92 L530.36 784.85 L531.24 771.32 L532.13 757.55 L533.02 743.78 L533.90 730.24 L534.79 717.14 L535.67 704.72 L536.56 693.20 L537.45 682.53 L538.33 672.38 L539.22 662.41 L540.10 652.29 L540.99 641.66 L541.88 630.20 L542.76 618.31 L543.65 607.19 L544.53 597.17 L545.42 588.01 L546.31 579.48 L547.19 571.35 L548.08 563.40 L548.96 555.49 L549.85 547.61 L550.74 539.76 L551.62 531.98 L552.51 524.28 L553.39 516.69 L554.28 509.23 L555.17 501.91 L556.05 494.77 L556.94 487.80 L557.82 480.98 L558.71 474.32 L559.60 467.80 L560.48 461.42 L561.37 455.17 L562.25 449.04 L563.14 443.02 L564.03 437.11 L564.91 431.30 L565.80 425.58 L566.68 419.95 L567.57 414.38 L568.46 408.89 L569.34 403.46 L570.23 398.08 L571.11 392.77 L572.00 387.53 L572.89 382.37 L573.77 377.31 L574.66 372.35 L575.54 367.50 L576.43 362.78 L577.32 358.19 L578.20 353.74 L579.09 349.43 L579.97 345.25 L580.86 341.19 L581.75 337.23 L582.63 333.37 L583.52 329.59 L584.40 325.89 L585.29 322.25 L586.18 318.68 L587.06 315.17 L587.95 311.73 L588.83 308.35 L589.72 305.04 L590.61 301.78 L591.49 298.59 L592.38 295.45 L593.26 292.37 L594.15 289.34 L595.04 286.38 L595.92 283.46 L596.81 280.60 L597.69 277.78 L598.58 275.02 L599.47 272.31 L600.35 269.64 L601.24 267.02 L602.12 264.45 L603.01 261.92 L603.90 259.44 L604.78 256.99 L605.67 254.59 L606.55 252.22 L607.44 249.90 L608.33 247.61 L609.21 245.36 L610.10 243.15 L610.98 240.97 L611.87 238.83 L612.76 236.73 L613.64 234.66 L614.53 232.63 L615.41 230.64 L616.30 228.68 L617.19 226.76 L618.07 224.87 L618.96 223.02 L619.84 221.20 L620.73 219.41 L621.62 217.66 L622.50 215.94 L623.39 214.25 L624.27 212.60 L625.16 210.98 L626.05 209.39 L626.93 207.83 L627.82 206.30 L628.70 204.81 L629.59 203.34 L630.48 201.91 L631.36 200.51 L632.25 199.13 L633.13 197.79 L634.02 196.47 L634.91 195.18 L635.79 193.92 L636.68 192.69 L637.56 191.48 L638.45 190.29 L639.34 189.13 L640.22 187.99 L641.11 186.88 L641.99 185.78 L642.88 184.71 L643.77 183.66 L644.65 182.62 L645.54 181.61 L646.42 180.61 L647.31 179.63 L648.20 178.66 L649.08 177.72 L649.97 176.78 L650.85 175.86 L651.74 174.96 L652.63 174.06 L653.51 173.18 L654.40 172.31 L655.28 171.45 L656.17 170.60 L657.06 169.76 L657.94 168.93 L658.83 168.10 L659.71 167.29 L660.60 166.48 L661.49 165.68 L662.37 164.89 L663.26 164.11 L664.14 163.33 L665.03 162.57 L665.92 161.81 L666.80 161.06 L667.69 160.32 L668.57 159.58 L669.46 158.86 L670.35 158.14 L671.23 157.43 L672.12 156.72 L673.00 156.03 L673.89 155.34 L674.78 154.66 L675.66 153.99 L676.55 153.32 L677.43 152.67 L678.32 152.02 L679.20 151.37 L680.09 150.74 L680.98 150.11 L681.86 149.49 L682.75 148.87 L683.63 148.27 L684.52 147.67 L685.41 147.07 L686.29 146.49 L687.18 145.91 L688.06 145.34 L688.95 144.77 L689.84 144.21 L690.72 143.66 L691.61 143.11 L692.49 142.57 L693.38 142.04 L694.27 141.51 L695.15 140.99 L696.04 140.48 L696.92 139.97 L697.81 139.47 L698.70 138.98 L699.58 138.49 L700.47 138.01 L701.35 137.53 L702.24 137.06 L703.13 136.59 L704.01 136.14 L704.90 135.68 L705.78 135.24 L706.67 134.80 L707.56 134.36 L708.44 133.93 L709.33 133.50 L710.21 133.09 L711.10 132.67 L711.99 132.26 L712.87 131.86 L713.76 131.46 L714.64 131.07 L715.53 130.69 L716.42 130.30 L717.30 129.93 L718.19 129.56 L719.07 129.19 L719.96 128.83 L720.85 128.47 L721.73 128.12 L722.62 127.77 L723.50 127.43 L724.39 127.09 L725.28 126.76 L726.16 126.43 L727.05 126.11 L727.93 125.79 L728.82 125.47 L729.71 125.16 L730.59 124.86 L731.48 124.56 L732.36 124.26 L733.25 123.97 L734.14 123.68 L735.02 123.39 L735.91 123.11 L736.79 122.83 L737.68 122.56 L738.57 122.29 L739.45 122.25" stroke="#f0979a"/><path d="M527.70 821.50 L528.68 810.35 L529.66 798.01 L530.64 784.95 L531.62 771.39 L532.60 757.59 L533.58 743.78 L534.55 730.19 L535.53 717.06 L536.51 704.62 L537.49 693.10 L538.47 682.45 L539.45 672.33 L540.43 662.39 L541.41 652.28 L542.39 641.63 L543.37 630.12 L544.35 618.16 L545.33 606.98 L546.31 596.93 L547.29 587.76 L548.26 579.23 L549.24 571.10 L550.22 563.16 L551.20 555.25 L552.18 547.36 L553.16 539.51 L554.14 531.71 L555.12 524.00 L556.10 516.40 L557.08 508.92 L558.06 501.60 L559.04 494.44 L560.02 487.46 L560.99 480.64 L561.97 473.98 L562.95 467.46 L563.93 461.07 L564.91 454.82 L565.89 448.69 L566.87 442.67 L567.85 436.75 L568.83 430.94 L569.81 425.21 L570.79 419.57 L571.77 414.00 L572.75 408.50 L573.73 403.05 L574.70 397.66 L575.68 392.33 L576.66 387.07 L577.64 381.89 L578.62 376.81 L579.60 371.82 L580.58 366.95 L581.56 362.21 L582.54 357.59 L583.52 353.13 L584.50 348.80 L585.48 344.60 L586.46 340.52 L587.43 336.55 L588.41 332.67 L589.39 328.88 L590.37 325.16 L591.35 321.51 L592.33 317.92 L593.31 314.40 L594.29 310.95 L595.27 307.55 L596.25 304.22 L597.23 300.95 L598.21 297.74 L599.19 294.59 L600.16 291.50 L601.14 288.46 L602.12 285.47 L603.10 282.54 L604.08 279.67 L605.06 276.84 L606.04 274.06 L607.02 271.33 L608.00 268.65 L608.98 266.02 L609.96 263.43 L610.94 260.88 L611.92 258.38 L612.90 255.92 L613.87 253.50 L614.85 251.12 L615.83 248.77 L616.81 246.47 L617.79 244.20 L618.77 241.97 L619.75 239.78 L620.73 237.62 L621.71 235.50 L622.69 233.41 L623.67 231.36 L624.65 229.35 L625.63 227.37 L626.60 225.43 L627.58 223.52 L628.56 221.65 L629.54 219.81 L630.52 218.00 L631.50 216.23 L632.48 214.49 L633.46 212.78 L634.44 211.10 L635.42 209.46 L636.40 207.85 L637.38 206.27 L638.36 204.73 L639.34 203.21 L640.31 201.72 L641.29 200.27 L642.27 198.84 L643.25 197.45 L644.23 196.08 L645.21 194.75 L646.19 193.44 L647.17 192.16 L648.15 190.90 L649.13 189.67 L650.11 188.46 L651.09 187.28 L652.07 186.12 L653.04 184.98 L654.02 183.87 L655.00 182.77 L655.98 181.70 L656.96 180.65 L657.94 179.61 L658.92 178.59 L659.90 177.59 L660.88 176.60 L661.86 175.64 L662.84 174.68 L663.82 173.74 L664.80 172.81 L665.78 171.90 L666.75 171.00 L667.73 170.11 L668.71 169.22 L669.69 168.35 L670.67 167.49 L671.65 166.63 L672.63 165.79 L673.61 164.95 L674.59 164.12 L675.57 163.30 L676.55 162.49 L677.53 161.68 L678.51 160.89 L679.48 160.10 L680.46 159.32 L681.44 158.55 L682.42 157.78 L683.40 157.03 L684.38 156.28 L685.36 155.54 L686.34 154.81 L687.32 154.08 L688.30 153.36 L689.28 152.65 L690.26 151.95 L691.24 151.26 L692.22 150.57 L693.19 149.89 L694.17 149.21 L695.15 148.55 L696.13 147.89 L697.11 147.24 L698.09 146.60 L699.07 145.96 L700.05 145.33 L701.03 144.71 L702.01 144.09 L702.99 143.48 L703.97 142.88 L704.95 142.28 L705.92 141.70 L706.90 141.11 L707.88 140.54 L708.86 139.97 L709.84 139.41 L710.82 138.85 L711.80 138.30 L712.78 137.76 L713.76 137.22 L714.74 136.69 L715.72 136.17 L716.70 135.65 L717.68 135.14 L718.66 134.63 L719.63 134.13 L720.61 133.64 L721.59 133.15 L722.57 132.67 L723.55 132.19 L724.53 131.72 L725.51 131.26 L726.49 130.80 L727.47 130.35 L728.45 129.90 L729.43 129.46 L730.41 129.02 L731.39 128.59 L732.36 128.16 L733.34 127.74 L734.32 127.33 L735.30 126.92 L736.28 126.51 L737.26 126.11 L738.24 125.72 L739.22 125.33 L740.20 124.94 L741.18 124.56 L742.16 124.19 L743.14 123.82 L744.12 123.45 L745.09 123.09 L746.07 122.74 L747.05 122.39 L748.03 122.04 L749.01 121.70 L749.99 121.36 L750.97 121.03 L751.95 120.70 L752.93 120.37 L753.91 120.05 L754.89 119.73 L755.87 119.42 L756.85 119.11 L757.83 118.81 L758.80 118.51 L759.78 118.21 L760.76 117.92 L761.74 117.86" stroke="#ed8b91"/><path d="M527.70 821.50 L528.77 810.41 L529.85 798.10 L530.92 785.04 L531.99 771.47 L533.06 757.64 L534.14 743.78 L535.21 730.14 L536.28 716.97 L537.35 704.51 L538.43 693.00 L539.50 682.37 L540.57 672.28 L541.64 662.37 L542.72 652.27 L543.79 641.61 L544.86 630.05 L545.93 618.01 L547.01 606.77 L548.08 596.69 L549.15 587.51 L550.22 578.98 L551.30 570.86 L552.37 562.92 L553.44 555.01 L554.51 547.12 L555.59 539.25 L556.66 531.45 L557.73 523.72 L558.80 516.10 L559.88 508.61 L560.95 501.28 L562.02 494.12 L563.09 487.13 L564.17 480.30 L565.24 473.63 L566.31 467.11 L567.38 460.72 L568.46 454.47 L569.53 448.33 L570.60 442.31 L571.67 436.39 L572.75 430.58 L573.82 424.85 L574.89 419.20 L575.96 413.62 L577.04 408.11 L578.11 402.65 L579.18 397.24 L580.25 391.89 L581.33 386.61 L582.40 381.41 L583.47 376.30 L584.54 371.30 L585.62 366.40 L586.69 361.63 L587.76 357.00 L588.83 352.51 L589.91 348.17 L590.98 343.95 L592.05 339.85 L593.12 335.87 L594.20 331.97 L595.27 328.16 L596.34 324.43 L597.41 320.76 L598.49 317.16 L599.56 313.63 L600.63 310.16 L601.70 306.75 L602.78 303.41 L603.85 300.12 L604.92 296.90 L605.99 293.73 L607.07 290.62 L608.14 287.57 L609.21 284.57 L610.28 281.63 L611.36 278.73 L612.43 275.89 L613.50 273.10 L614.57 270.36 L615.65 267.66 L616.72 265.01 L617.79 262.41 L618.86 259.85 L619.94 257.33 L621.01 254.85 L622.08 252.41 L623.15 250.01 L624.23 247.65 L625.30 245.33 L626.37 243.04 L627.44 240.80 L628.52 238.58 L629.59 236.41 L630.66 234.27 L631.73 232.16 L632.81 230.10 L633.88 228.06 L634.95 226.06 L636.02 224.10 L637.10 222.17 L638.17 220.28 L639.24 218.42 L640.31 216.59 L641.39 214.80 L642.46 213.03 L643.53 211.31 L644.60 209.61 L645.68 207.95 L646.75 206.32 L647.82 204.72 L648.89 203.15 L649.97 201.61 L651.04 200.10 L652.11 198.63 L653.18 197.18 L654.26 195.77 L655.33 194.38 L656.40 193.02 L657.47 191.69 L658.55 190.39 L659.62 189.11 L660.69 187.86 L661.76 186.63 L662.84 185.43 L663.91 184.25 L664.98 183.09 L666.05 181.96 L667.13 180.84 L668.20 179.75 L669.27 178.67 L670.35 177.61 L671.42 176.57 L672.49 175.55 L673.56 174.55 L674.64 173.55 L675.71 172.58 L676.78 171.62 L677.85 170.67 L678.93 169.73 L680.00 168.81 L681.07 167.90 L682.14 166.99 L683.22 166.10 L684.29 165.22 L685.36 164.34 L686.43 163.47 L687.51 162.61 L688.58 161.76 L689.65 160.92 L690.72 160.09 L691.80 159.26 L692.87 158.44 L693.94 157.63 L695.01 156.83 L696.09 156.04 L697.16 155.25 L698.23 154.47 L699.30 153.70 L700.38 152.94 L701.45 152.18 L702.52 151.44 L703.59 150.70 L704.67 149.96 L705.74 149.24 L706.81 148.52 L707.88 147.81 L708.96 147.11 L710.03 146.41 L711.10 145.73 L712.17 145.04 L713.25 144.37 L714.32 143.70 L715.39 143.05 L716.46 142.39 L717.54 141.75 L718.61 141.11 L719.68 140.48 L720.75 139.85 L721.83 139.23 L722.90 138.62 L723.97 138.02 L725.04 137.42 L726.12 136.83 L727.19 136.24 L728.26 135.66 L729.33 135.09 L730.41 134.53 L731.48 133.97 L732.55 133.41 L733.62 132.87 L734.70 132.32 L735.77 131.79 L736.84 131.26 L737.91 130.74 L738.99 130.22 L740.06 129.71 L741.13 129.21 L742.20 128.71 L743.28 128.21 L744.35 127.72 L745.42 127.24 L746.49 126.77 L747.57 126.30 L748.64 125.83 L749.71 125.37 L750.78 124.92 L751.86 124.47 L752.93 124.02 L754.00 123.58 L755.07 123.15 L756.15 122.72 L757.22 122.30 L758.29 121.88 L759.36 121.47 L760.44 121.06 L761.51 120.66 L762.58 120.26 L763.65 119.87 L764.73 119.48 L765.80 119.09 L766.87 118.71 L767.94 118.34 L769.02 117.97 L770.09 117.60 L771.16 117.24 L772.23 116.89 L773.31 116.53 L774.38 116.19 L775.45 115.84 L776.52 115.50 L777.60 115.17 L778.67 114.84 L779.74 114.51 L780.81 114.19 L781.89 113.87 L782.96 113.55 L784.03 113.48" stroke="#e97e88"/><path d="M527.70 821.50 L528.87 810.47 L530.03 798.20 L531.20 785.14 L532.36 771.55 L533.53 757.68 L534.69 743.78 L535.86 730.10 L537.03 716.89 L538.19 704.41 L539.36 692.90 L540.52 682.29 L541.69 672.23 L542.86 662.35 L544.02 652.26 L545.19 641.59 L546.35 629.97 L547.52 617.86 L548.68 606.56 L549.85 596.45 L551.02 587.26 L552.18 578.72 L553.35 570.61 L554.51 562.69 L555.68 554.77 L556.84 546.87 L558.01 539.00 L559.18 531.18 L560.34 523.44 L561.51 515.81 L562.67 508.30 L563.84 500.96 L565.01 493.79 L566.17 486.79 L567.34 479.96 L568.50 473.29 L569.67 466.76 L570.83 460.37 L572.00 454.11 L573.17 447.98 L574.33 441.95 L575.50 436.04 L576.66 430.21 L577.83 424.48 L578.99 418.82 L580.16 413.24 L581.33 407.71 L582.49 402.24 L583.66 396.82 L584.82 391.45 L585.99 386.15 L587.15 380.93 L588.32 375.80 L589.49 370.77 L590.65 365.85 L591.82 361.06 L592.98 356.41 L594.15 351.90 L595.32 347.53 L596.48 343.30 L597.65 339.19 L598.81 335.18 L599.98 331.27 L601.14 327.45 L602.31 323.70 L603.48 320.02 L604.64 316.41 L605.81 312.86 L606.97 309.37 L608.14 305.95 L609.30 302.59 L610.47 299.29 L611.64 296.05 L612.80 292.87 L613.97 289.75 L615.13 286.68 L616.30 283.67 L617.47 280.71 L618.63 277.80 L619.80 274.95 L620.96 272.14 L622.13 269.38 L623.29 266.67 L624.46 264.01 L625.63 261.39 L626.79 258.81 L627.96 256.27 L629.12 253.78 L630.29 251.33 L631.45 248.91 L632.62 246.53 L633.79 244.19 L634.95 241.89 L636.12 239.62 L637.28 237.39 L638.45 235.20 L639.62 233.04 L640.78 230.91 L641.95 228.83 L643.11 226.77 L644.28 224.76 L645.44 222.77 L646.61 220.82 L647.78 218.91 L648.94 217.03 L650.11 215.18 L651.27 213.36 L652.44 211.58 L653.60 209.83 L654.77 208.12 L655.94 206.43 L657.10 204.78 L658.27 203.16 L659.43 201.57 L660.60 200.01 L661.76 198.49 L662.93 196.99 L664.10 195.52 L665.26 194.08 L666.43 192.68 L667.59 191.30 L668.76 189.95 L669.93 188.62 L671.09 187.32 L672.26 186.05 L673.42 184.80 L674.59 183.58 L675.75 182.38 L676.92 181.20 L678.09 180.04 L679.25 178.91 L680.42 177.79 L681.58 176.69 L682.75 175.62 L683.91 174.56 L685.08 173.51 L686.25 172.49 L687.41 171.47 L688.58 170.48 L689.74 169.49 L690.91 168.53 L692.08 167.57 L693.24 166.62 L694.41 165.69 L695.57 164.77 L696.74 163.85 L697.90 162.94 L699.07 162.05 L700.24 161.16 L701.40 160.28 L702.57 159.41 L703.73 158.54 L704.90 157.69 L706.06 156.84 L707.23 156.00 L708.40 155.17 L709.56 154.34 L710.73 153.53 L711.89 152.72 L713.06 151.92 L714.23 151.12 L715.39 150.34 L716.56 149.56 L717.72 148.79 L718.89 148.03 L720.05 147.27 L721.22 146.53 L722.39 145.79 L723.55 145.06 L724.72 144.33 L725.88 143.61 L727.05 142.90 L728.21 142.20 L729.38 141.50 L730.55 140.81 L731.71 140.13 L732.88 139.46 L734.04 138.79 L735.21 138.13 L736.37 137.47 L737.54 136.82 L738.71 136.18 L739.87 135.55 L741.04 134.92 L742.20 134.30 L743.37 133.69 L744.54 133.08 L745.70 132.48 L746.87 131.88 L748.03 131.29 L749.20 130.71 L750.36 130.13 L751.53 129.56 L752.70 129.00 L753.86 128.44 L755.03 127.89 L756.19 127.34 L757.36 126.80 L758.52 126.27 L759.69 125.74 L760.86 125.22 L762.02 124.70 L763.19 124.19 L764.35 123.68 L765.52 123.18 L766.69 122.69 L767.85 122.20 L769.02 121.72 L770.18 121.24 L771.35 120.77 L772.51 120.30 L773.68 119.84 L774.85 119.38 L776.01 118.93 L777.18 118.49 L778.34 118.04 L779.51 117.61 L780.67 117.18 L781.84 116.75 L783.01 116.33 L784.17 115.91 L785.34 115.50 L786.50 115.09 L787.67 114.69 L788.84 114.29 L790.00 113.90 L791.17 113.51 L792.33 113.13 L793.50 112.75 L794.66 112.37 L795.83 112.00 L797.00 111.63 L798.16 111.27 L799.33 110.91 L800.49 110.56 L801.66 110.21 L802.82 109.86 L803.99 109.52 L805.16 109.18 L806.32 109.09" stroke="#e5727f"/><path d="M527.70 821.50 L528.96 810.53 L530.22 798.29 L531.48 785.23 L532.74 771.62 L534.00 757.72 L535.25 743.77 L536.51 730.05 L537.77 716.81 L539.03 704.31 L540.29 692.79 L541.55 682.21 L542.81 672.18 L544.07 662.32 L545.33 652.25 L546.59 641.57 L547.84 629.90 L549.10 617.71 L550.36 606.35 L551.62 596.21 L552.88 587.00 L554.14 578.47 L555.40 570.37 L556.66 562.45 L557.92 554.53 L559.18 546.62 L560.44 538.74 L561.69 530.91 L562.95 523.16 L564.21 515.51 L565.47 508.00 L566.73 500.64 L567.99 493.46 L569.25 486.46 L570.51 479.62 L571.77 472.94 L573.03 466.41 L574.28 460.02 L575.54 453.76 L576.80 447.62 L578.06 441.60 L579.32 435.68 L580.58 429.85 L581.84 424.11 L583.10 418.45 L584.36 412.86 L585.62 407.32 L586.88 401.84 L588.13 396.40 L589.39 391.01 L590.65 385.69 L591.91 380.45 L593.17 375.30 L594.43 370.24 L595.69 365.31 L596.95 360.49 L598.21 355.81 L599.47 351.28 L600.72 346.90 L601.98 342.65 L603.24 338.52 L604.50 334.50 L605.76 330.58 L607.02 326.74 L608.28 322.97 L609.54 319.28 L610.80 315.65 L612.06 312.08 L613.31 308.59 L614.57 305.15 L615.83 301.78 L617.09 298.46 L618.35 295.21 L619.61 292.02 L620.87 288.88 L622.13 285.80 L623.39 282.77 L624.65 279.80 L625.91 276.87 L627.16 274.00 L628.42 271.18 L629.68 268.41 L630.94 265.68 L632.20 263.00 L633.46 260.36 L634.72 257.77 L635.98 255.22 L637.24 252.71 L638.50 250.24 L639.75 247.81 L641.01 245.41 L642.27 243.05 L643.53 240.73 L644.79 238.45 L646.05 236.20 L647.31 233.98 L648.57 231.81 L649.83 229.66 L651.09 227.56 L652.35 225.48 L653.60 223.45 L654.86 221.44 L656.12 219.47 L657.38 217.54 L658.64 215.64 L659.90 213.77 L661.16 211.93 L662.42 210.13 L663.68 208.36 L664.94 206.62 L666.19 204.92 L667.45 203.25 L668.71 201.60 L669.97 199.99 L671.23 198.41 L672.49 196.87 L673.75 195.35 L675.01 193.86 L676.27 192.40 L677.53 190.97 L678.79 189.57 L680.04 188.20 L681.30 186.86 L682.56 185.54 L683.82 184.24 L685.08 182.97 L686.34 181.73 L687.60 180.51 L688.86 179.31 L690.12 178.13 L691.38 176.97 L692.63 175.84 L693.89 174.72 L695.15 173.62 L696.41 172.54 L697.67 171.47 L698.93 170.43 L700.19 169.39 L701.45 168.38 L702.71 167.37 L703.97 166.38 L705.23 165.40 L706.48 164.44 L707.74 163.48 L709.00 162.54 L710.26 161.60 L711.52 160.67 L712.78 159.75 L714.04 158.84 L715.30 157.94 L716.56 157.05 L717.82 156.16 L719.07 155.28 L720.33 154.41 L721.59 153.55 L722.85 152.70 L724.11 151.85 L725.37 151.01 L726.63 150.18 L727.89 149.36 L729.15 148.55 L730.41 147.74 L731.67 146.94 L732.92 146.15 L734.18 145.36 L735.44 144.59 L736.70 143.82 L737.96 143.05 L739.22 142.30 L740.48 141.55 L741.74 140.81 L743.00 140.08 L744.26 139.35 L745.51 138.63 L746.77 137.92 L748.03 137.22 L749.29 136.52 L750.55 135.83 L751.81 135.14 L753.07 134.47 L754.33 133.80 L755.59 133.13 L756.85 132.48 L758.11 131.82 L759.36 131.18 L760.62 130.54 L761.88 129.91 L763.14 129.29 L764.40 128.67 L765.66 128.06 L766.92 127.45 L768.18 126.85 L769.44 126.26 L770.70 125.67 L771.95 125.09 L773.21 124.52 L774.47 123.95 L775.73 123.38 L776.99 122.83 L778.25 122.27 L779.51 121.73 L780.77 121.19 L782.03 120.65 L783.29 120.13 L784.54 119.60 L785.80 119.09 L787.06 118.57 L788.32 118.07 L789.58 117.57 L790.84 117.07 L792.10 116.58 L793.36 116.10 L794.62 115.62 L795.88 115.14 L797.14 114.67 L798.39 114.21 L799.65 113.75 L800.91 113.29 L802.17 112.84 L803.43 112.40 L804.69 111.96 L805.95 111.52 L807.21 111.09 L808.47 110.67 L809.73 110.25 L810.98 109.83 L812.24 109.42 L813.50 109.01 L814.76 108.61 L816.02 108.21 L817.28 107.82 L818.54 107.43 L819.80 107.04 L821.06 106.66 L822.32 106.28 L823.58 105.91 L824.83 105.54 L826.09 105.18 L827.35 104.81 L828.61 104.71" stroke="#e16676"/><path d="M527.70 821.50 L529.05 810.58 L530.40 798.38 L531.76 785.33 L533.11 771.70 L534.46 757.76 L535.81 743.77 L537.17 730.00 L538.52 716.73 L539.87 704.20 L541.22 692.69 L542.58 682.13 L543.93 672.13 L545.28 662.30 L546.63 652.24 L547.98 641.55 L549.34 629.83 L550.69 617.56 L552.04 606.15 L553.39 595.97 L554.75 586.75 L556.10 578.22 L557.45 570.12 L558.80 562.21 L560.16 554.29 L561.51 546.38 L562.86 538.49 L564.21 530.65 L565.56 522.88 L566.92 515.22 L568.27 507.69 L569.62 500.32 L570.97 493.13 L572.33 486.12 L573.68 479.28 L575.03 472.59 L576.38 466.06 L577.74 459.67 L579.09 453.41 L580.44 447.27 L581.79 441.24 L583.14 435.32 L584.50 429.49 L585.85 423.74 L587.20 418.07 L588.55 412.47 L589.91 406.93 L591.26 401.43 L592.61 395.98 L593.96 390.58 L595.32 385.24 L596.67 379.97 L598.02 374.79 L599.37 369.72 L600.72 364.76 L602.08 359.92 L603.43 355.22 L604.78 350.67 L606.13 346.27 L607.49 342.00 L608.84 337.85 L610.19 333.82 L611.54 329.88 L612.90 326.02 L614.25 322.25 L615.60 318.53 L616.95 314.89 L618.30 311.31 L619.66 307.80 L621.01 304.35 L622.36 300.96 L623.71 297.63 L625.07 294.37 L626.42 291.16 L627.77 288.01 L629.12 284.91 L630.48 281.87 L631.83 278.88 L633.18 275.94 L634.53 273.06 L635.88 270.22 L637.24 267.43 L638.59 264.69 L639.94 261.99 L641.29 259.34 L642.65 256.73 L644.00 254.17 L645.35 251.64 L646.70 249.15 L648.06 246.70 L649.41 244.29 L650.76 241.91 L652.11 239.57 L653.46 237.27 L654.82 235.00 L656.17 232.77 L657.52 230.57 L658.87 228.41 L660.23 226.29 L661.58 224.20 L662.93 222.14 L664.28 220.11 L665.64 218.13 L666.99 216.17 L668.34 214.25 L669.69 212.36 L671.04 210.50 L672.40 208.68 L673.75 206.89 L675.10 205.13 L676.45 203.41 L677.81 201.71 L679.16 200.05 L680.51 198.42 L681.86 196.82 L683.22 195.25 L684.57 193.71 L685.92 192.20 L687.27 190.72 L688.62 189.27 L689.98 187.85 L691.33 186.46 L692.68 185.09 L694.03 183.75 L695.39 182.43 L696.74 181.14 L698.09 179.88 L699.44 178.64 L700.80 177.42 L702.15 176.22 L703.50 175.04 L704.85 173.88 L706.20 172.74 L707.56 171.62 L708.91 170.52 L710.26 169.43 L711.61 168.37 L712.97 167.31 L714.32 166.27 L715.67 165.25 L717.02 164.24 L718.38 163.24 L719.73 162.25 L721.08 161.27 L722.43 160.31 L723.78 159.35 L725.14 158.40 L726.49 157.46 L727.84 156.53 L729.19 155.60 L730.55 154.69 L731.90 153.78 L733.25 152.88 L734.60 151.99 L735.96 151.11 L737.31 150.23 L738.66 149.36 L740.01 148.50 L741.36 147.65 L742.72 146.81 L744.07 145.97 L745.42 145.14 L746.77 144.32 L748.13 143.50 L749.48 142.70 L750.83 141.90 L752.18 141.11 L753.54 140.32 L754.89 139.54 L756.24 138.77 L757.59 138.01 L758.94 137.26 L760.30 136.51 L761.65 135.77 L763.00 135.03 L764.35 134.30 L765.71 133.58 L767.06 132.87 L768.41 132.16 L769.76 131.46 L771.12 130.77 L772.47 130.08 L773.82 129.40 L775.17 128.73 L776.52 128.06 L777.88 127.40 L779.23 126.75 L780.58 126.10 L781.93 125.46 L783.29 124.82 L784.64 124.19 L785.99 123.57 L787.34 122.96 L788.70 122.34 L790.05 121.74 L791.40 121.14 L792.75 120.55 L794.10 119.96 L795.46 119.38 L796.81 118.81 L798.16 118.24 L799.51 117.68 L800.87 117.12 L802.22 116.57 L803.57 116.02 L804.92 115.48 L806.28 114.95 L807.63 114.42 L808.98 113.89 L810.33 113.37 L811.68 112.86 L813.04 112.35 L814.39 111.85 L815.74 111.35 L817.09 110.86 L818.45 110.37 L819.80 109.89 L821.15 109.41 L822.50 108.94 L823.86 108.47 L825.21 108.01 L826.56 107.55 L827.91 107.09 L829.26 106.65 L830.62 106.20 L831.97 105.76 L833.32 105.33 L834.67 104.90 L836.03 104.47 L837.38 104.05 L838.73 103.63 L840.08 103.22 L841.44 102.81 L842.79 102.41 L844.14 102.01 L845.49 101.61 L846.84 101.22 L848.20 100.83 L849.55 100.45 L850.90 100.32" stroke="#dd5a6d"/><path d="M527.70 821.50 L529.15 810.64 L530.59 798.47 L532.04 785.43 L533.48 771.78 L534.93 757.80 L536.37 743.77 L537.82 729.96 L539.26 716.64 L540.71 704.10 L542.16 692.59 L543.60 682.05 L545.05 672.08 L546.49 662.28 L547.94 652.23 L549.38 641.52 L550.83 629.75 L552.27 617.41 L553.72 605.94 L555.17 595.73 L556.61 586.50 L558.06 577.97 L559.50 569.88 L560.95 561.97 L562.39 554.06 L563.84 546.13 L565.28 538.23 L566.73 530.38 L568.18 522.60 L569.62 514.92 L571.07 507.38 L572.51 500.00 L573.96 492.80 L575.40 485.79 L576.85 478.94 L578.29 472.25 L579.74 465.71 L581.19 459.32 L582.63 453.05 L584.08 446.91 L585.52 440.88 L586.97 434.96 L588.41 429.12 L589.86 423.37 L591.31 417.70 L592.75 412.09 L594.20 406.54 L595.64 401.03 L597.09 395.56 L598.53 390.14 L599.98 384.78 L601.42 379.49 L602.87 374.29 L604.32 369.19 L605.76 364.21 L607.21 359.35 L608.65 354.63 L610.10 350.06 L611.54 345.63 L612.99 341.35 L614.43 337.19 L615.88 333.13 L617.33 329.18 L618.77 325.31 L620.22 321.52 L621.66 317.79 L623.11 314.13 L624.55 310.54 L626.00 307.01 L627.44 303.55 L628.89 300.15 L630.34 296.80 L631.78 293.52 L633.23 290.30 L634.67 287.13 L636.12 284.02 L637.56 280.97 L639.01 277.96 L640.45 275.01 L641.90 272.11 L643.35 269.26 L644.79 266.46 L646.24 263.70 L647.68 260.99 L649.13 258.32 L650.57 255.69 L652.02 253.11 L653.46 250.57 L654.91 248.06 L656.36 245.60 L657.80 243.17 L659.25 240.77 L660.69 238.42 L662.14 236.10 L663.58 233.81 L665.03 231.56 L666.47 229.34 L667.92 227.16 L669.37 225.02 L670.81 222.91 L672.26 220.83 L673.70 218.79 L675.15 216.78 L676.59 214.80 L678.04 212.86 L679.48 210.95 L680.93 209.07 L682.38 207.23 L683.82 205.42 L685.27 203.64 L686.71 201.89 L688.16 200.18 L689.60 198.49 L691.05 196.84 L692.49 195.22 L693.94 193.63 L695.39 192.07 L696.83 190.54 L698.28 189.04 L699.72 187.57 L701.17 186.12 L702.61 184.71 L704.06 183.32 L705.51 181.96 L706.95 180.63 L708.40 179.32 L709.84 178.03 L711.29 176.76 L712.73 175.52 L714.18 174.30 L715.62 173.10 L717.07 171.93 L718.52 170.77 L719.96 169.63 L721.41 168.50 L722.85 167.40 L724.30 166.31 L725.74 165.23 L727.19 164.17 L728.63 163.13 L730.08 162.09 L731.53 161.07 L732.97 160.06 L734.42 159.07 L735.86 158.08 L737.31 157.10 L738.75 156.13 L740.20 155.17 L741.64 154.21 L743.09 153.27 L744.54 152.33 L745.98 151.40 L747.43 150.48 L748.87 149.57 L750.32 148.66 L751.76 147.76 L753.21 146.87 L754.65 145.99 L756.10 145.12 L757.55 144.25 L758.99 143.39 L760.44 142.54 L761.88 141.70 L763.33 140.86 L764.77 140.03 L766.22 139.21 L767.66 138.39 L769.11 137.59 L770.56 136.79 L772.00 136.00 L773.45 135.21 L774.89 134.43 L776.34 133.66 L777.78 132.90 L779.23 132.14 L780.67 131.39 L782.12 130.65 L783.57 129.91 L785.01 129.18 L786.46 128.46 L787.90 127.74 L789.35 127.03 L790.79 126.33 L792.24 125.63 L793.68 124.94 L795.13 124.26 L796.58 123.58 L798.02 122.91 L799.47 122.25 L800.91 121.59 L802.36 120.94 L803.80 120.29 L805.25 119.65 L806.69 119.02 L808.14 118.39 L809.59 117.77 L811.03 117.15 L812.48 116.54 L813.92 115.94 L815.37 115.34 L816.81 114.75 L818.26 114.17 L819.70 113.58 L821.15 113.01 L822.60 112.44 L824.04 111.88 L825.49 111.32 L826.93 110.77 L828.38 110.22 L829.82 109.68 L831.27 109.14 L832.72 108.61 L834.16 108.08 L835.61 107.56 L837.05 107.04 L838.50 106.53 L839.94 106.03 L841.39 105.53 L842.83 105.03 L844.28 104.54 L845.73 104.05 L847.17 103.57 L848.62 103.10 L850.06 102.62 L851.51 102.16 L852.95 101.69 L854.40 101.24 L855.84 100.78 L857.29 100.33 L858.74 99.89 L860.18 99.45 L861.63 99.01 L863.07 98.58 L864.52 98.15 L865.96 97.73 L867.41 97.31 L868.85 96.89 L870.30 96.48 L871.75 96.08 L873.19 95.94" stroke="#d74d64"/><path d="M527.70 821.50 L529.24 810.70 L530.78 798.57 L532.32 785.52 L533.86 771.85 L535.39 757.84 L536.93 743.77 L538.47 729.91 L540.01 716.56 L541.55 704.00 L543.09 692.48 L544.63 681.96 L546.17 672.03 L547.70 662.26 L549.24 652.22 L550.78 641.50 L552.32 629.68 L553.86 617.26 L555.40 605.73 L556.94 595.49 L558.48 586.25 L560.02 577.72 L561.55 569.63 L563.09 561.73 L564.63 553.82 L566.17 545.89 L567.71 537.98 L569.25 530.11 L570.79 522.32 L572.33 514.63 L573.86 507.08 L575.40 499.68 L576.94 492.48 L578.48 485.45 L580.02 478.60 L581.56 471.90 L583.10 465.36 L584.64 458.97 L586.18 452.70 L587.71 446.56 L589.25 440.53 L590.79 434.60 L592.33 428.76 L593.87 423.01 L595.41 417.33 L596.95 411.71 L598.49 406.14 L600.03 400.62 L601.56 395.14 L603.10 389.70 L604.64 384.32 L606.18 379.01 L607.72 373.79 L609.26 368.67 L610.80 363.66 L612.34 358.78 L613.87 354.03 L615.41 349.44 L616.95 345.00 L618.49 340.70 L620.03 336.52 L621.57 332.45 L623.11 328.48 L624.65 324.60 L626.19 320.79 L627.72 317.05 L629.26 313.37 L630.80 309.77 L632.34 306.23 L633.88 302.75 L635.42 299.33 L636.96 295.98 L638.50 292.68 L640.03 289.44 L641.57 286.26 L643.11 283.14 L644.65 280.06 L646.19 277.05 L647.73 274.08 L649.27 271.17 L650.81 268.30 L652.35 265.48 L653.88 262.71 L655.42 259.98 L656.96 257.30 L658.50 254.66 L660.04 252.06 L661.58 249.50 L663.12 246.98 L664.66 244.49 L666.19 242.05 L667.73 239.64 L669.27 237.26 L670.81 234.92 L672.35 232.62 L673.89 230.35 L675.43 228.11 L676.97 225.91 L678.51 223.75 L680.04 221.62 L681.58 219.52 L683.12 217.46 L684.66 215.43 L686.20 213.43 L687.74 211.47 L689.28 209.54 L690.82 207.64 L692.35 205.78 L693.89 203.95 L695.43 202.15 L696.97 200.38 L698.51 198.64 L700.05 196.94 L701.59 195.26 L703.13 193.62 L704.67 192.01 L706.20 190.43 L707.74 188.88 L709.28 187.35 L710.82 185.86 L712.36 184.40 L713.90 182.96 L715.44 181.56 L716.98 180.17 L718.52 178.82 L720.05 177.49 L721.59 176.18 L723.13 174.89 L724.67 173.63 L726.21 172.39 L727.75 171.17 L729.29 169.97 L730.83 168.79 L732.36 167.63 L733.90 166.48 L735.44 165.36 L736.98 164.25 L738.52 163.15 L740.06 162.07 L741.60 161.00 L743.14 159.95 L744.68 158.91 L746.21 157.88 L747.75 156.86 L749.29 155.85 L750.83 154.85 L752.37 153.86 L753.91 152.87 L755.45 151.90 L756.99 150.93 L758.52 149.97 L760.06 149.02 L761.60 148.08 L763.14 147.14 L764.68 146.22 L766.22 145.30 L767.76 144.38 L769.30 143.48 L770.84 142.58 L772.37 141.69 L773.91 140.81 L775.45 139.94 L776.99 139.07 L778.53 138.22 L780.07 137.36 L781.61 136.52 L783.15 135.68 L784.68 134.85 L786.22 134.03 L787.76 133.22 L789.30 132.41 L790.84 131.61 L792.38 130.81 L793.92 130.03 L795.46 129.25 L797.00 128.48 L798.53 127.71 L800.07 126.95 L801.61 126.20 L803.15 125.45 L804.69 124.71 L806.23 123.98 L807.77 123.25 L809.31 122.54 L810.85 121.82 L812.38 121.12 L813.92 120.42 L815.46 119.72 L817.00 119.04 L818.54 118.35 L820.08 117.68 L821.62 117.01 L823.16 116.35 L824.69 115.69 L826.23 115.04 L827.77 114.40 L829.31 113.76 L830.85 113.13 L832.39 112.50 L833.93 111.88 L835.47 111.26 L837.01 110.65 L838.54 110.05 L840.08 109.45 L841.62 108.86 L843.16 108.27 L844.70 107.69 L846.24 107.11 L847.78 106.54 L849.32 105.98 L850.85 105.42 L852.39 104.86 L853.93 104.31 L855.47 103.77 L857.01 103.23 L858.55 102.70 L860.09 102.17 L861.63 101.64 L863.17 101.12 L864.70 100.61 L866.24 100.10 L867.78 99.60 L869.32 99.10 L870.86 98.60 L872.40 98.11 L873.94 97.62 L875.48 97.14 L877.01 96.67 L878.55 96.19 L880.09 95.73 L881.63 95.26 L883.17 94.80 L884.71 94.35 L886.25 93.90 L887.79 93.45 L889.33 93.01 L890.86 92.57 L892.40 92.14 L893.94 91.71 L895.48 91.55" stroke="#d0415a"/><path d="M527.70 821.50 L529.33 810.76 L530.96 798.66 L532.60 785.62 L534.23 771.93 L535.86 757.88 L537.49 743.76 L539.12 729.87 L540.76 716.48 L542.39 703.89 L544.02 692.38 L545.65 681.88 L547.29 671.98 L548.92 662.23 L550.55 652.21 L552.18 641.48 L553.81 629.61 L555.45 617.11 L557.08 605.52 L558.71 595.24 L560.34 586.00 L561.97 577.47 L563.61 569.39 L565.24 561.49 L566.87 553.58 L568.50 545.64 L570.13 537.72 L571.77 529.85 L573.40 522.04 L575.03 514.34 L576.66 506.77 L578.29 499.36 L579.93 492.15 L581.56 485.11 L583.19 478.25 L584.82 471.56 L586.46 465.02 L588.09 458.61 L589.72 452.35 L591.35 446.20 L592.98 440.17 L594.62 434.24 L596.25 428.40 L597.88 422.64 L599.51 416.95 L601.14 411.33 L602.78 405.75 L604.41 400.22 L606.04 394.72 L607.67 389.26 L609.30 383.86 L610.94 378.53 L612.57 373.29 L614.20 368.14 L615.83 363.11 L617.47 358.20 L619.10 353.44 L620.73 348.83 L622.36 344.37 L623.99 340.05 L625.63 335.85 L627.26 331.77 L628.89 327.78 L630.52 323.88 L632.15 320.06 L633.79 316.31 L635.42 312.62 L637.05 309.00 L638.68 305.44 L640.31 301.95 L641.95 298.52 L643.58 295.15 L645.21 291.84 L646.84 288.58 L648.47 285.39 L650.11 282.25 L651.74 279.16 L653.37 276.13 L655.00 273.15 L656.64 270.22 L658.27 267.34 L659.90 264.50 L661.53 261.72 L663.16 258.97 L664.80 256.28 L666.43 253.62 L668.06 251.00 L669.69 248.43 L671.32 245.89 L672.96 243.39 L674.59 240.93 L676.22 238.50 L677.85 236.10 L679.48 233.75 L681.12 231.42 L682.75 229.13 L684.38 226.88 L686.01 224.66 L687.65 222.48 L689.28 220.33 L690.91 218.21 L692.54 216.13 L694.17 214.08 L695.81 212.06 L697.44 210.08 L699.07 208.13 L700.70 206.21 L702.33 204.33 L703.97 202.47 L705.60 200.65 L707.23 198.86 L708.86 197.11 L710.49 195.38 L712.13 193.69 L713.76 192.02 L715.39 190.39 L717.02 188.79 L718.66 187.21 L720.29 185.67 L721.92 184.16 L723.55 182.67 L725.18 181.22 L726.82 179.79 L728.45 178.39 L730.08 177.01 L731.71 175.66 L733.34 174.33 L734.98 173.02 L736.61 171.74 L738.24 170.48 L739.87 169.24 L741.50 168.02 L743.14 166.81 L744.77 165.63 L746.40 164.47 L748.03 163.32 L749.66 162.19 L751.30 161.07 L752.93 159.97 L754.56 158.88 L756.19 157.80 L757.83 156.74 L759.46 155.69 L761.09 154.65 L762.72 153.62 L764.35 152.60 L765.99 151.58 L767.62 150.58 L769.25 149.58 L770.88 148.59 L772.51 147.61 L774.15 146.64 L775.78 145.68 L777.41 144.72 L779.04 143.77 L780.67 142.83 L782.31 141.89 L783.94 140.97 L785.57 140.05 L787.20 139.14 L788.84 138.24 L790.47 137.34 L792.10 136.45 L793.73 135.57 L795.36 134.70 L797.00 133.83 L798.63 132.97 L800.26 132.12 L801.89 131.28 L803.52 130.44 L805.16 129.61 L806.79 128.78 L808.42 127.97 L810.05 127.16 L811.68 126.36 L813.32 125.56 L814.95 124.77 L816.58 123.99 L818.21 123.22 L819.84 122.45 L821.48 121.68 L823.11 120.93 L824.74 120.18 L826.37 119.44 L828.01 118.70 L829.64 117.97 L831.27 117.25 L832.90 116.53 L834.53 115.82 L836.17 115.12 L837.80 114.42 L839.43 113.73 L841.06 113.04 L842.69 112.37 L844.33 111.69 L845.96 111.02 L847.59 110.36 L849.22 109.71 L850.85 109.06 L852.49 108.41 L854.12 107.77 L855.75 107.14 L857.38 106.51 L859.02 105.89 L860.65 105.28 L862.28 104.67 L863.91 104.06 L865.54 103.46 L867.18 102.87 L868.81 102.28 L870.44 101.70 L872.07 101.12 L873.70 100.55 L875.34 99.98 L876.97 99.42 L878.60 98.86 L880.23 98.31 L881.86 97.76 L883.50 97.22 L885.13 96.68 L886.76 96.15 L888.39 95.62 L890.02 95.10 L891.66 94.58 L893.29 94.06 L894.92 93.55 L896.55 93.05 L898.19 92.55 L899.82 92.06 L901.45 91.56 L903.08 91.08 L904.71 90.60 L906.35 90.12 L907.98 89.64 L909.61 89.17 L911.24 88.71 L912.87 88.25 L914.51 87.79 L916.14 87.34 L917.77 87.17" stroke="#ca3551"/><path d="M527.70 821.50 L529.43 810.82 L531.15 798.75 L532.88 785.72 L534.60 772.01 L536.33 757.92 L538.05 743.76 L539.78 729.82 L541.50 716.40 L543.23 703.79 L544.95 692.28 L546.68 681.80 L548.40 671.93 L550.13 662.21 L551.85 652.21 L553.58 641.46 L555.31 629.53 L557.03 616.97 L558.76 605.31 L560.48 595.00 L562.21 585.74 L563.93 577.22 L565.66 569.15 L567.38 561.25 L569.11 553.34 L570.83 545.40 L572.56 537.47 L574.28 529.58 L576.01 521.76 L577.74 514.04 L579.46 506.46 L581.19 499.04 L582.91 491.82 L584.64 484.78 L586.36 477.91 L588.09 471.21 L589.81 464.67 L591.54 458.26 L593.26 451.99 L594.99 445.85 L596.71 439.81 L598.44 433.88 L600.16 428.03 L601.89 422.27 L603.62 416.58 L605.34 410.94 L607.07 405.36 L608.79 399.81 L610.52 394.30 L612.24 388.82 L613.97 383.40 L615.69 378.05 L617.42 372.78 L619.14 367.62 L620.87 362.56 L622.59 357.63 L624.32 352.85 L626.05 348.21 L627.77 343.74 L629.50 339.40 L631.22 335.18 L632.95 331.08 L634.67 327.08 L636.40 323.17 L638.12 319.33 L639.85 315.56 L641.57 311.86 L643.30 308.22 L645.02 304.65 L646.75 301.15 L648.47 297.70 L650.20 294.32 L651.93 290.99 L653.65 287.72 L655.38 284.52 L657.10 281.36 L658.83 278.26 L660.55 275.21 L662.28 272.22 L664.00 269.27 L665.73 266.38 L667.45 263.53 L669.18 260.73 L670.90 257.97 L672.63 255.25 L674.36 252.58 L676.08 249.95 L677.81 247.36 L679.53 244.80 L681.26 242.29 L682.98 239.80 L684.71 237.36 L686.43 234.95 L688.16 232.57 L689.88 230.23 L691.61 227.92 L693.33 225.65 L695.06 223.41 L696.78 221.21 L698.51 219.04 L700.24 216.90 L701.96 214.80 L703.69 212.73 L705.41 210.69 L707.14 208.69 L708.86 206.72 L710.59 204.78 L712.31 202.88 L714.04 201.00 L715.76 199.16 L717.49 197.35 L719.21 195.57 L720.94 193.82 L722.67 192.11 L724.39 190.42 L726.12 188.77 L727.84 187.14 L729.57 185.55 L731.29 183.99 L733.02 182.45 L734.74 180.95 L736.47 179.47 L738.19 178.02 L739.92 176.60 L741.64 175.20 L743.37 173.83 L745.09 172.48 L746.82 171.15 L748.55 169.85 L750.27 168.56 L752.00 167.30 L753.72 166.06 L755.45 164.84 L757.17 163.63 L758.90 162.45 L760.62 161.28 L762.35 160.13 L764.07 158.99 L765.80 157.87 L767.52 156.76 L769.25 155.66 L770.98 154.58 L772.70 153.50 L774.43 152.44 L776.15 151.39 L777.88 150.35 L779.60 149.31 L781.33 148.29 L783.05 147.27 L784.78 146.26 L786.50 145.26 L788.23 144.26 L789.95 143.27 L791.68 142.30 L793.40 141.32 L795.13 140.36 L796.86 139.41 L798.58 138.46 L800.31 137.52 L802.03 136.58 L803.76 135.66 L805.48 134.74 L807.21 133.83 L808.93 132.93 L810.66 132.03 L812.38 131.14 L814.11 130.26 L815.83 129.39 L817.56 128.52 L819.29 127.66 L821.01 126.81 L822.74 125.96 L824.46 125.12 L826.19 124.29 L827.91 123.47 L829.64 122.65 L831.36 121.84 L833.09 121.03 L834.81 120.23 L836.54 119.44 L838.26 118.66 L839.99 117.88 L841.71 117.11 L843.44 116.34 L845.17 115.58 L846.89 114.83 L848.62 114.09 L850.34 113.35 L852.07 112.61 L853.79 111.89 L855.52 111.16 L857.24 110.45 L858.97 109.74 L860.69 109.04 L862.42 108.34 L864.14 107.65 L865.87 106.97 L867.60 106.29 L869.32 105.61 L871.05 104.95 L872.77 104.29 L874.50 103.63 L876.22 102.98 L877.95 102.34 L879.67 101.70 L881.40 101.06 L883.12 100.43 L884.85 99.81 L886.57 99.20 L888.30 98.58 L890.02 97.98 L891.75 97.38 L893.48 96.78 L895.20 96.19 L896.93 95.60 L898.65 95.02 L900.38 94.45 L902.10 93.88 L903.83 93.31 L905.55 92.75 L907.28 92.19 L909.00 91.64 L910.73 91.10 L912.45 90.55 L914.18 90.02 L915.91 89.49 L917.63 88.96 L919.36 88.44 L921.08 87.92 L922.81 87.40 L924.53 86.89 L926.26 86.39 L927.98 85.89 L929.71 85.39 L931.43 84.90 L933.16 84.41 L934.88 83.93 L936.61 83.45 L938.33 82.97 L940.06 82.78" stroke="#c42847"/><path d="M527.70 821.50 L529.52 810.87 L531.34 798.85 L533.16 785.81 L534.97 772.08 L536.79 757.96 L538.61 743.76 L540.43 729.77 L542.25 716.31 L544.07 703.68 L545.89 692.18 L547.70 681.72 L549.52 671.88 L551.34 662.19 L553.16 652.20 L554.98 641.43 L556.80 629.46 L558.62 616.82 L560.44 605.10 L562.25 594.76 L564.07 585.49 L565.89 576.97 L567.71 568.90 L569.53 561.01 L571.35 553.10 L573.17 545.15 L574.98 537.21 L576.80 529.31 L578.62 521.48 L580.44 513.75 L582.26 506.15 L584.08 498.73 L585.90 491.49 L587.71 484.44 L589.53 477.57 L591.35 470.87 L593.17 464.32 L594.99 457.91 L596.81 451.64 L598.63 445.49 L600.44 439.45 L602.26 433.52 L604.08 427.67 L605.90 421.90 L607.72 416.20 L609.54 410.56 L611.36 404.97 L613.18 399.41 L614.99 393.88 L616.81 388.38 L618.63 382.94 L620.45 377.57 L622.27 372.28 L624.09 367.09 L625.91 362.01 L627.72 357.06 L629.54 352.25 L631.36 347.60 L633.18 343.10 L635.00 338.75 L636.82 334.52 L638.64 330.40 L640.45 326.39 L642.27 322.46 L644.09 318.60 L645.91 314.82 L647.73 311.10 L649.55 307.45 L651.37 303.87 L653.18 300.34 L655.00 296.88 L656.82 293.49 L658.64 290.15 L660.46 286.87 L662.28 283.64 L664.10 280.47 L665.92 277.36 L667.73 274.30 L669.55 271.29 L671.37 268.33 L673.19 265.42 L675.01 262.55 L676.83 259.74 L678.65 256.96 L680.46 254.23 L682.28 251.54 L684.10 248.90 L685.92 246.29 L687.74 243.72 L689.56 241.18 L691.38 238.68 L693.19 236.22 L695.01 233.79 L696.83 231.40 L698.65 229.04 L700.47 226.71 L702.29 224.42 L704.11 222.16 L705.92 219.94 L707.74 217.75 L709.56 215.59 L711.38 213.47 L713.20 211.38 L715.02 209.32 L716.84 207.30 L718.66 205.31 L720.47 203.35 L722.29 201.42 L724.11 199.53 L725.93 197.67 L727.75 195.84 L729.57 194.04 L731.39 192.27 L733.20 190.53 L735.02 188.82 L736.84 187.15 L738.66 185.50 L740.48 183.89 L742.30 182.31 L744.12 180.75 L745.93 179.23 L747.75 177.73 L749.57 176.26 L751.39 174.81 L753.21 173.39 L755.03 172.00 L756.85 170.63 L758.66 169.28 L760.48 167.95 L762.30 166.65 L764.12 165.37 L765.94 164.11 L767.76 162.86 L769.58 161.64 L771.39 160.43 L773.21 159.24 L775.03 158.07 L776.85 156.91 L778.67 155.76 L780.49 154.63 L782.31 153.52 L784.13 152.41 L785.94 151.32 L787.76 150.23 L789.58 149.16 L791.40 148.10 L793.22 147.04 L795.04 145.99 L796.86 144.95 L798.67 143.92 L800.49 142.90 L802.31 141.88 L804.13 140.87 L805.95 139.87 L807.77 138.88 L809.59 137.89 L811.40 136.92 L813.22 135.95 L815.04 134.98 L816.86 134.03 L818.68 133.08 L820.50 132.14 L822.32 131.21 L824.13 130.28 L825.95 129.36 L827.77 128.45 L829.59 127.55 L831.41 126.65 L833.23 125.76 L835.05 124.88 L836.87 124.01 L838.68 123.14 L840.50 122.28 L842.32 121.42 L844.14 120.57 L845.96 119.73 L847.78 118.90 L849.60 118.07 L851.41 117.25 L853.23 116.44 L855.05 115.63 L856.87 114.83 L858.69 114.03 L860.51 113.25 L862.33 112.46 L864.14 111.69 L865.96 110.92 L867.78 110.16 L869.60 109.40 L871.42 108.65 L873.24 107.91 L875.06 107.17 L876.87 106.44 L878.69 105.71 L880.51 104.99 L882.33 104.28 L884.15 103.57 L885.97 102.87 L887.79 102.17 L889.61 101.48 L891.42 100.80 L893.24 100.12 L895.06 99.44 L896.88 98.78 L898.70 98.11 L900.52 97.46 L902.34 96.81 L904.15 96.16 L905.97 95.52 L907.79 94.89 L909.61 94.26 L911.43 93.63 L913.25 93.01 L915.07 92.40 L916.88 91.79 L918.70 91.19 L920.52 90.59 L922.34 89.99 L924.16 89.40 L925.98 88.82 L927.80 88.24 L929.61 87.67 L931.43 87.10 L933.25 86.53 L935.07 85.97 L936.89 85.42 L938.71 84.87 L940.53 84.32 L942.35 83.78 L944.16 83.24 L945.98 82.71 L947.80 82.18 L949.62 81.66 L951.44 81.14 L953.26 80.62 L955.08 80.11 L956.89 79.60 L958.71 79.10 L960.53 78.60 L962.35 78.40" stroke="#be1c3e"/></g>
<path d="M527.70 821.50 L525.88 808.61 L524.06 795.23 L522.24 782.05 L520.43 769.09 L518.61 756.36 L516.79 743.85 L514.97 731.57 L513.15 719.53 L511.33 707.74 L509.51 696.19 L507.70 684.89 L505.88 673.84 L504.06 663.06 L502.24 652.55 L500.42 642.30 L498.60 632.33 L496.78 622.65 L494.96 613.25 L493.15 604.14 L491.33 595.31 L489.51 586.75 L487.69 578.43 L485.87 570.34 L484.05 562.44 L482.23 554.71 L480.42 547.15 L478.60 539.72 L476.78 532.41 L474.96 525.22 L473.14 518.14 L471.32 511.16 L469.50 504.29 L467.69 497.53 L465.87 490.88 L464.05 484.34 L462.23 477.92 L460.41 471.60 L458.59 465.41 L456.77 459.33 L454.96 453.38 L453.14 447.54 L451.32 441.84 L449.50 436.25 L447.68 430.79 L445.86 425.47 L444.04 420.27 L442.22 415.21 L440.41 410.28 L438.59 405.48 L436.77 400.82 L434.95 396.29 L433.13 391.88 L431.31 387.60 L429.49 383.42 L427.68 379.36 L425.86 375.40 L424.04 371.55 L422.22 367.79 L420.40 364.12 L418.58 360.54 L416.76 357.04 L414.95 353.62 L413.13 350.28 L411.31 347.01 L409.49 343.79 L407.67 340.65 L405.85 337.56 L404.03 334.54 L402.22 331.58 L400.40 328.68 L398.58 325.84 L396.76 323.06 L394.94 320.34 L393.12 317.68 L391.30 315.07 L389.48 312.52 L387.67 310.03 L385.85 307.59 L384.03 305.20 L382.21 302.88 L380.39 300.60 L378.57 298.38 L376.75 296.21 L374.94 294.09 L373.12 292.02 L371.30 290.00 L369.48 288.03 L367.66 286.11 L365.84 284.24 L364.02 282.41 L362.21 280.64 L360.39 278.91 L358.57 277.22 L356.75 275.58 L354.93 273.98 L353.11 272.43 L351.29 270.92 L349.48 269.45 L347.66 268.02 L345.84 266.64 L344.02 265.29 L342.20 263.99 L340.38 262.72 L338.56 261.49 L336.74 260.30 L334.93 259.14 L333.11 258.03 L331.29 256.94 L329.47 255.90 L327.65 254.88 L325.83 253.90 L324.01 252.96 L322.20 252.04 L320.38 251.16 L318.56 250.31 L316.74 249.49 L314.92 248.69 L313.10 247.93 L311.28 247.20 L309.47 246.49 L307.65 245.81 L305.83 245.16 L304.01 244.53 L302.19 243.93 L300.37 243.35 L298.55 242.79 L296.74 242.26 L294.92 241.75 L293.10 241.26 L291.28 240.80 L289.46 240.35 L287.64 239.92 L285.82 239.52 L284.01 239.13 L282.19 238.76 L280.37 238.40 L278.55 238.06 L276.73 237.74 L274.91 237.43 L273.09 237.14 L271.27 236.86 L269.46 236.60 L267.64 236.34 L265.82 236.10 L264.00 235.87 L262.18 235.65 L260.36 235.44 L258.54 235.24 L256.73 235.05 L254.91 234.87 L253.09 234.70 L251.27 234.54 L249.45 234.39 L247.63 234.25 L245.81 234.12 L244.00 234.00 L242.18 233.89 L240.36 233.78 L238.54 233.69 L236.72 233.60 L234.90 233.53 L233.08 233.46 L231.27 233.40 L229.45 233.36 L227.63 233.32 L225.81 233.28 L223.99 233.26 L222.17 233.25 L220.35 233.24 L218.53 233.24 L216.72 233.25 L214.90 233.27 L213.08 233.30 L211.26 233.34 L209.44 233.38 L207.62 233.43 L205.80 233.49 L203.99 233.56 L202.17 233.63 L200.35 233.72 L198.53 233.81 L196.71 233.90 L194.89 234.01 L193.07 234.12 L191.26 234.24 L189.44 234.37 L187.62 234.50 L185.80 234.64 L183.98 234.79 L182.16 234.94 L180.34 235.11 L178.53 235.27 L176.71 235.45 L174.89 235.63 L173.07 235.82 L171.25 236.01 L169.43 236.21 L167.61 236.42 L165.79 236.63 L163.98 236.85 L162.16 237.08 L160.34 237.31 L158.52 237.55 L156.70 237.79 L154.88 238.04 L153.06 238.29 L151.25 238.56 L149.43 238.82 L147.61 239.09 L145.79 239.37 L143.97 239.65 L142.15 239.94 L140.33 240.23 L138.52 240.53 L136.70 240.83 L134.88 241.14 L133.06 241.45 L131.24 241.77 L129.42 242.09 L127.60 242.41 L125.79 242.75 L123.97 243.08 L122.15 243.42 L120.33 243.76 L118.51 244.11 L116.69 244.47 L114.87 244.82 L113.05 245.18 L111.24 245.55 L109.42 245.92 L107.60 246.29 L105.78 246.66 L103.96 247.04 L102.14 247.43 L100.32 247.81 L98.51 248.20 L96.69 248.60 L94.87 248.99 L93.05 249.40 L962.35 78.40 L960.53 78.60 L958.71 79.10 L956.89 79.60 L955.08 80.11 L953.26 80.62 L951.44 81.14 L949.62 81.66 L947.80 82.18 L945.98 82.71 L944.16 83.24 L942.35 83.78 L940.53 84.32 L938.71 84.87 L936.89 85.42 L935.07 85.97 L933.25 86.53 L931.43 87.10 L929.61 87.67 L927.80 88.24 L925.98 88.82 L924.16 89.40 L922.34 89.99 L920.52 90.59 L918.70 91.19 L916.88 91.79 L915.07 92.40 L913.25 93.01 L911.43 93.63 L909.61 94.26 L907.79 94.89 L905.97 95.52 L904.15 96.16 L902.34 96.81 L900.52 97.46 L898.70 98.11 L896.88 98.78 L895.06 99.44 L893.24 100.12 L891.42 100.80 L889.61 101.48 L887.79 102.17 L885.97 102.87 L884.15 103.57 L882.33 104.28 L880.51 104.99 L878.69 105.71 L876.87 106.44 L875.06 107.17 L873.24 107.91 L871.42 108.65 L869.60 109.40 L867.78 110.16 L865.96 110.92 L864.14 111.69 L862.33 112.46 L860.51 113.25 L858.69 114.03 L856.87 114.83 L855.05 115.63 L853.23 116.44 L851.41 117.25 L849.60 118.07 L847.78 118.90 L845.96 119.73 L844.14 120.57 L842.32 121.42 L840.50 122.28 L838.68 123.14 L836.87 124.01 L835.05 124.88 L833.23 125.76 L831.41 126.65 L829.59 127.55 L827.77 128.45 L825.95 129.36 L824.13 130.28 L822.32 131.21 L820.50 132.14 L818.68 133.08 L816.86 134.03 L815.04 134.98 L813.22 135.95 L811.40 136.92 L809.59 137.89 L807.77 138.88 L805.95 139.87 L804.13 140.87 L802.31 141.88 L800.49 142.90 L798.67 143.92 L796.86 144.95 L795.04 145.99 L793.22 147.04 L791.40 148.10 L789.58 149.16 L787.76 150.23 L785.94 151.32 L784.13 152.41 L782.31 153.52 L780.49 154.63 L778.67 155.76 L776.85 156.91 L775.03 158.07 L773.21 159.24 L771.39 160.43 L769.58 161.64 L767.76 162.86 L765.94 164.11 L764.12 165.37 L762.30 166.65 L760.48 167.95 L758.66 169.28 L756.85 170.63 L755.03 172.00 L753.21 173.39 L751.39 174.81 L749.57 176.26 L747.75 177.73 L745.93 179.23 L744.12 180.75 L742.30 182.31 L740.48 183.89 L738.66 185.50 L736.84 187.15 L735.02 188.82 L733.20 190.53 L731.39 192.27 L729.57 194.04 L727.75 195.84 L725.93 197.67 L724.11 199.53 L722.29 201.42 L720.47 203.35 L718.66 205.31 L716.84 207.30 L715.02 209.32 L713.20 211.38 L711.38 213.47 L709.56 215.59 L707.74 217.75 L705.92 219.94 L704.11 222.16 L702.29 224.42 L700.47 226.71 L698.65 229.04 L696.83 231.40 L695.01 233.79 L693.19 236.22 L691.38 238.68 L689.56 241.18 L687.74 243.72 L685.92 246.29 L684.10 248.90 L682.28 251.54 L680.46 254.23 L678.65 256.96 L676.83 259.74 L675.01 262.55 L673.19 265.42 L671.37 268.33 L669.55 271.29 L667.73 274.30 L665.92 277.36 L664.10 280.47 L662.28 283.64 L660.46 286.87 L658.64 290.15 L656.82 293.49 L655.00 296.88 L653.18 300.34 L651.37 303.87 L649.55 307.45 L647.73 311.10 L645.91 314.82 L644.09 318.60 L642.27 322.46 L640.45 326.39 L638.64 330.40 L636.82 334.52 L635.00 338.75 L633.18 343.10 L631.36 347.60 L629.54 352.25 L627.72 357.06 L625.91 362.01 L624.09 367.09 L622.27 372.28 L620.45 377.57 L618.63 382.94 L616.81 388.38 L614.99 393.88 L613.18 399.41 L611.36 404.97 L609.54 410.56 L607.72 416.20 L605.90 421.90 L604.08 427.67 L602.26 433.52 L600.44 439.45 L598.63 445.49 L596.81 451.64 L594.99 457.91 L593.17 464.32 L591.35 470.87 L589.53 477.57 L587.71 484.44 L585.90 491.49 L584.08 498.73 L582.26 506.15 L580.44 513.75 L578.62 521.48 L576.80 529.31 L574.98 537.21 L573.17 545.15 L571.35 553.10 L569.53 561.01 L567.71 568.90 L565.89 576.97 L564.07 585.49 L562.25 594.76 L560.44 605.10 L558.62 616.82 L556.80 629.46 L554.98 641.43 L553.16 652.20 L551.34 662.19 L549.52 671.88 L547.70 681.72 L545.89 692.18 L544.07 703.68 L542.25 716.31 L540.43 729.77 L538.61 743.76 L536.79 757.96 L534.97 772.08 L533.16 785.81 L531.34 798.85 L529.52 810.87 L527.70 821.50 Z" fill="#800080" fill-opacity="0.25" stroke="none"/>
<path d="M527.70 821.50 L525.88 808.61 L524.06 795.23 L522.24 782.05 L520.43 769.09 L518.61 756.36 L516.79 743.85 L514.97 731.57 L513.15 719.53 L511.33 707.74 L509.51 696.19 L507.70 684.89 L505.88 673.84 L504.06 663.06 L502.24 652.55 L500.42 642.30 L498.60 632.33 L496.78 622.65 L494.96 613.25 L493.15 604.14 L491.33 595.31 L489.51 586.75 L487.69 578.43 L485.87 570.34 L484.05 562.44 L482.23 554.71 L480.42 547.15 L478.60 539.72 L476.78 532.41 L474.96 525.22 L473.14 518.14 L471.32 511.16 L469.50 504.29 L467.69 497.53 L465.87 490.88 L464.05 484.34 L462.23 477.92 L460.41 471.60 L458.59 465.41 L456.77 459.33 L454.96 453.38 L453.14 447.54 L451.32 441.84 L449.50 436.25 L447.68 430.79 L445.86 425.47 L444.04 420.27 L442.22 415.21 L440.41 410.28 L438.59 405.48 L436.77 400.82 L434.95 396.29 L433.13 391.88 L431.31 387.60 L429.49 383.42 L427.68 379.36 L425.86 375.40 L424.04 371.55 L422.22 367.79 L420.40 364.12 L418.58 360.54 L416.76 357.04 L414.95 353.62 L413.13 350.28 L411.31 347.01 L409.49 343.79 L407.67 340.65 L405.85 337.56 L404.03 334.54 L402.22 331.58 L400.40 328.68 L398.58 325.84 L396.76 323.06 L394.94 320.34 L393.12 317.68 L391.30 315.07 L389.48 312.52 L387.67 310.03 L385.85 307.59 L384.03 305.20 L382.21 302.88 L380.39 300.60 L378.57 298.38 L376.75 296.21 L374.94 294.09 L373.12 292.02 L371.30 290.00 L369.48 288.03 L367.66 286.11 L365.84 284.24 L364.02 282.41 L362.21 280.64 L360.39 278.91 L358.57 277.22 L356.75 275.58 L354.93 273.98 L353.11 272.43 L351.29 270.92 L349.48 269.45 L347.66 268.02 L345.84 266.64 L344.02 265.29 L342.20 263.99 L340.38 262.72 L338.56 261.49 L336.74 260.30 L334.93 259.14 L333.11 258.03 L331.29 256.94 L329.47 255.90 L327.65 254.88 L325.83 253.90 L324.01 252.96 L322.20 252.04 L320.38 251.16 L318.56 250.31 L316.74 249.49 L314.92 248.69 L313.10 247.93 L311.28 247.20 L309.47 246.49 L307.65 245.81 L305.83 245.16 L304.01 244.53 L302.19 243.93 L300.37 243.35 L298.55 242.79 L296.74 242.26 L294.92 241.75 L293.10 241.26 L291.28 240.80 L289.46 240.35 L287.64 239.92 L285.82 239.52 L284.01 239.13 L282.19 238.76 L280.37 238.40 L278.55 238.06 L276.73 237.74 L274.91 237.43 L273.09 237.14 L271.27 236.86 L269.46 236.60 L267.64 236.34 L265.82 236.10 L264.00 235.87 L262.18 235.65 L260.36 235.44 L258.54 235.24 L256.73 235.05 L254.91 234.87 L253.09 234.70 L251.27 234.54 L249.45 234.39 L247.63 234.25 L245.81 234.12 L244.00 234.00 L242.18 233.89 L240.36 233.78 L238.54 233.69 L236.72 233.60 L234.90 233.53 L233.08 233.46 L231.27 233.40 L229.45 233.36 L227.63 233.32 L225.81 233.28 L223.99 233.26 L222.17 233.25 L220.35 233.24 L218.53 233.24 L216.72 233.25 L214.90 233.27 L213.08 233.30 L211.26 233.34 L209.44 233.38 L207.62 233.43 L205.80 233.49 L203.99 233.56 L202.17 233.63 L200.35 233.72 L198.53 233.81 L196.71 233.90 L194.89 234.01 L193.07 234.12 L191.26 234.24 L189.44 234.37 L187.62 234.50 L185.80 234.64 L183.98 234.79 L182.16 234.94 L180.34 235.11 L178.53 235.27 L176.71 235.45 L174.89 235.63 L173.07 235.82 L171.25 236.01 L169.43 236.21 L167.61 236.42 L165.79 236.63 L163.98 236.85 L162.16 237.08 L160.34 237.31 L158.52 237.55 L156.70 237.79 L154.88 238.04 L153.06 238.29 L151.25 238.56 L149.43 238.82 L147.61 239.09 L145.79 239.37 L143.97 239.65 L142.15 239.94 L140.33 240.23 L138.52 240.53 L136.70 240.83 L134.88 241.14 L133.06 241.45 L131.24 241.77 L129.42 242.09 L127.60 242.41 L125.79 242.75 L123.97 243.08 L122.15 243.42 L120.33 243.76 L118.51 244.11 L116.69 244.47 L114.87 244.82 L113.05 245.18 L111.24 245.55 L109.42 245.92 L107.60 246.29 L105.78 246.66 L103.96 247.04 L102.14 247.43 L100.32 247.81 L98.51 248.20 L96.69 248.60 L94.87 248.99 L93.05 249.40 L962.35 78.40 L960.53 78.60 L958.71 79.10 L956.89 79.60 L955.08 80.11 L953.26 80.62 L951.44 81.14 L949.62 81.66 L947.80 82.18 L945.98 82.71 L944.16 83.24 L942.35 83.78 L940.53 84.32 L938.71 84.87 L936.89 85.42 L935.07 85.97 L933.25 86.53 L931.43 87.10 L929.61 87.67 L927.80 88.24 L925.98 88.82 L924.16 89.40 L922.34 89.99 L920.52 90.59 L918.70 91.19 L916.88 91.79 L915.07 92.40 L913.25 93.01 L911.43 93.63 L909.61 94.26 L907.79 94.89 L905.97 95.52 L904.15 96.16 L902.34 96.81 L900.52 97.46 L898.70 98.11 L896.88 98.78 L895.06 99.44 L893.24 100.12 L891.42 100.80 L889.61 101.48 L887.79 102.17 L885.97 102.87 L884.15 103.57 L882.33 104.28 L880.51 104.99 L878.69 105.71 L876.87 106.44 L875.06 107.17 L873.24 107.91 L871.42 108.65 L869.60 109.40 L867.78 110.16 L865.96 110.92 L864.14 111.69 L862.33 112.46 L860.51 113.25 L858.69 114.03 L856.87 114.83 L855.05 115.63 L853.23 116.44 L851.41 117.25 L849.60 118.07 L847.78 118.90 L845.96 119.73 L844.14 120.57 L842.32 121.42 L840.50 122.28 L838.68 123.14 L836.87 124.01 L835.05 124.88 L833.23 125.76 L831.41 126.65 L829.59 127.55 L827.77 128.45 L825.95 129.36 L824.13 130.28 L822.32 131.21 L820.50 132.14 L818.68 133.08 L816.86 134.03 L815.04 134.98 L813.22 135.95 L811.40 136.92 L809.59 137.89 L807.77 138.88 L805.95 139.87 L804.13 140.87 L802.31 141.88 L800.49 142.90 L798.67 143.92 L796.86 144.95 L795.04 145.99 L793.22 147.04 L791.40 148.10 L789.58 149.16 L787.76 150.23 L785.94 151.32 L784.13 152.41 L782.31 153.52 L780.49 154.63 L778.67 155.76 L776.85 156.91 L775.03 158.07 L773.21 159.24 L771.39 160.43 L769.58 161.64 L767.76 162.86 L765.94 164.11 L764.12 165.37 L762.30 166.65 L760.48 167.95 L758.66 169.28 L756.85 170.63 L755.03 172.00 L753.21 173.39 L751.39 174.81 L749.57 176.26 L747.75 177.73 L745.93 179.23 L744.12 180.75 L742.30 182.31 L740.48 183.89 L738.66 185.50 L736.84 187.15 L735.02 188.82 L733.20 190.53 L731.39 192.27 L729.57 194.04 L727.75 195.84 L725.93 197.67 L724.11 199.53 L722.29 201.42 L720.47 203.35 L718.66 205.31 L716.84 207.30 L715.02 209.32 L713.20 211.38 L711.38 213.47 L709.56 215.59 L707.74 217.75 L705.92 219.94 L704.11 222.16 L702.29 224.42 L700.47 226.71 L698.65 229.04 L696.83 231.40 L695.01 233.79 L693.19 236.22 L691.38 238.68 L689.56 241.18 L687.74 243.72 L685.92 246.29 L684.10 248.90 L682.28 251.54 L680.46 254.23 L678.65 256.96 L676.83 259.74 L675.01 262.55 L673.19 265.42 L671.37 268.33 L669.55 271.29 L667.73 274.30 L665.92 277.36 L664.10 280.47 L662.28 283.64 L660.46 286.87 L658.64 290.15 L656.82 293.49 L655.00 296.88 L653.18 300.34 L651.37 303.87 L649.55 307.45 L647.73 311.10 L645.91 314.82 L644.09 318.60 L642.27 322.46 L640.45 326.39 L638.64 330.40 L636.82 334.52 L635.00 338.75 L633.18 343.10 L631.36 347.60 L629.54 352.25 L627.72 357.06 L625.91 362.01 L624.09 367.09 L622.27 372.28 L620.45 377.57 L618.63 382.94 L616.81 388.38 L614.99 393.88 L613.18 399.41 L611.36 404.97 L609.54 410.56 L607.72 416.20 L605.90 421.90 L604.08 427.67 L602.26 433.52 L600.44 439.45 L598.63 445.49 L596.81 451.64 L594.99 457.91 L593.17 464.32 L591.35 470.87 L589.53 477.57 L587.71 484.44 L585.90 491.49 L584.08 498.73 L582.26 506.15 L580.44 513.75 L578.62 521.48 L576.80 529.31 L574.98 537.21 L573.17 545.15 L571.35 553.10 L569.53 561.01 L567.71 568.90 L565.89 576.97 L564.07 585.49 L562.25 594.76 L560.44 605.10 L558.62 616.82 L556.80 629.46 L554.98 641.43 L553.16 652.20 L551.34 662.19 L549.52 671.88 L547.70 681.72 L545.89 692.18 L544.07 703.68 L542.25 716.31 L540.43 729.77 L538.61 743.76 L536.79 757.96 L534.97 772.08 L533.16 785.81 L531.34 798.85 L529.52 810.87 L527.70 821.50 Z" fill="none" stroke="#000" stroke-width="3.2" stroke-linejoin="round" stroke-linecap="round"/>
<path d="M527.70 821.50 L529.52 810.87 L531.34 798.85 L533.16 785.81 L534.97 772.08 L536.79 757.96 L538.61 743.76 L540.43 729.77 L542.25 716.31 L544.07 703.68 L545.89 692.18 L547.70 681.72 L549.52 671.88 L551.34 662.19 L553.16 652.20 L554.98 641.43 L556.80 629.46 L558.62 616.82 L560.44 605.10 L562.25 594.76 L564.07 585.49 L565.89 576.97 L567.71 568.90 L569.53 561.01 L571.35 553.10 L573.17 545.15 L574.98 537.21 L576.80 529.31 L578.62 521.48 L580.44 513.75 L582.26 506.15 L584.08 498.73 L585.90 491.49 L587.71 484.44 L589.53 477.57 L591.35 470.87 L593.17 464.32 L594.99 457.91 L596.81 451.64 L598.63 445.49 L600.44 439.45 L602.26 433.52 L604.08 427.67 L605.90 421.90 L607.72 416.20 L609.54 410.56 L611.36 404.97 L613.18 399.41 L614.99 393.88 L616.81 388.38 L618.63 382.94 L620.45 377.57 L622.27 372.28 L624.09 367.09 L625.91 362.01 L627.72 357.06 L629.54 352.25 L631.36 347.60 L633.18 343.10 L635.00 338.75 L636.82 334.52 L638.64 330.40 L640.45 326.39 L642.27 322.46 L644.09 318.60 L645.91 314.82 L647.73 311.10 L649.55 307.45 L651.37 303.87 L653.18 300.34 L655.00 296.88 L656.82 293.49 L658.64 290.15 L660.46 286.87 L662.28 283.64 L664.10 280.47 L665.92 277.36 L667.73 274.30 L669.55 271.29 L671.37 268.33 L673.19 265.42 L675.01 262.55 L676.83 259.74 L678.65 256.96 L680.46 254.23 L682.28 251.54 L684.10 248.90 L685.92 246.29 L687.74 243.72 L689.56 241.18 L691.38 238.68 L693.19 236.22 L695.01 233.79 L696.83 231.40 L698.65 229.04 L700.47 226.71 L702.29 224.42 L704.11 222.16 L705.92 219.94 L707.74 217.75 L709.56 215.59 L711.38 213.47 L713.20 211.38 L715.02 209.32 L716.84 207.30 L718.66 205.31 L720.47 203.35 L722.29 201.42 L724.11 199.53 L725.93 197.67 L727.75 195.84 L729.57 194.04 L731.39 192.27 L733.20 190.53 L735.02 188.82 L736.84 187.15 L738.66 185.50 L740.48 183.89 L742.30 182.31 L744.12 180.75 L745.93 179.23 L747.75 177.73 L749.57 176.26 L751.39 174.81 L753.21 173.39 L755.03 172.00 L756.85 170.63 L758.66 169.28 L760.48 167.95 L762.30 166.65 L764.12 165.37 L765.94 164.11 L767.76 162.86 L769.58 161.64 L771.39 160.43 L773.21 159.24 L775.03 158.07 L776.85 156.91 L778.67 155.76 L780.49 154.63 L782.31 153.52 L784.13 152.41 L785.94 151.32 L787.76 150.23 L789.58 149.16 L791.40 148.10 L793.22 147.04 L795.04 145.99 L796.86 144.95 L798.67 143.92 L800.49 142.90 L802.31 141.88 L804.13 140.87 L805.95 139.87 L807.77 138.88 L809.59 137.89 L811.40 136.92 L813.22 135.95 L815.04 134.98 L816.86 134.03 L818.68 133.08 L820.50 132.14 L822.32 131.21 L824.13 130.28 L825.95 129.36 L827.77 128.45 L829.59 127.55 L831.41 126.65 L833.23 125.76 L835.05 124.88 L836.87 124.01 L838.68 123.14 L840.50 122.28 L842.32 121.42 L844.14 120.57 L845.96 119.73 L847.78 118.90 L849.60 118.07 L851.41 117.25 L853.23 116.44 L855.05 115.63 L856.87 114.83 L858.69 114.03 L860.51 113.25 L862.33 112.46 L864.14 111.69 L865.96 110.92 L867.78 110.16 L869.60 109.40 L871.42 108.65 L873.24 107.91 L875.06 107.17 L876.87 106.44 L878.69 105.71 L880.51 104.99 L882.33 104.28 L884.15 103.57 L885.97 102.87 L887.79 102.17 L889.61 101.48 L891.42 100.80 L893.24 100.12 L895.06 99.44 L896.88 98.78 L898.70 98.11 L900.52 97.46 L902.34 96.81 L904.15 96.16 L905.97 95.52 L907.79 94.89 L909.61 94.26 L911.43 93.63 L913.25 93.01 L915.07 92.40 L916.88 91.79 L918.70 91.19 L920.52 90.59 L922.34 89.99 L924.16 89.40 L925.98 88.82 L927.80 88.24 L929.61 87.67 L931.43 87.10 L933.25 86.53 L935.07 85.97 L936.89 85.42 L938.71 84.87 L940.53 84.32 L942.35 83.78 L944.16 83.24 L945.98 82.71 L947.80 82.18 L949.62 81.66 L951.44 81.14 L953.26 80.62 L955.08 80.11 L956.89 79.60 L958.71 79.10 L960.53 78.60 L962.35 78.40" fill="none" stroke="#0000ff" stroke-width="3.2" stroke-dasharray="29.3 17.5" stroke-linecap="round" stroke-linejoin="round"/>
<path d="M527.70 821.50 L525.88 808.61 L524.06 795.23 L522.24 782.05 L520.43 769.09 L518.61 756.36 L516.79 743.85 L514.97 731.57 L513.15 719.53 L511.33 707.74 L509.51 696.19 L507.70 684.89 L505.88 673.84 L504.06 663.06 L502.24 652.55 L500.42 642.30 L498.60 632.33 L496.78 622.65 L494.96 613.25 L493.15 604.14 L491.33 595.31 L489.51 586.75 L487.69 578.43 L485.87 570.34 L484.05 562.44 L482.23 554.71 L480.42 547.15 L478.60 539.72 L476.78 532.41 L474.96 525.22 L473.14 518.14 L471.32 511.16 L469.50 504.29 L467.69 497.53 L465.87 490.88 L464.05 484.34 L462.23 477.92 L460.41 471.60 L458.59 465.41 L456.77 459.33 L454.96 453.38 L453.14 447.54 L451.32 441.84 L449.50 436.25 L447.68 430.79 L445.86 425.47 L444.04 420.27 L442.22 415.21 L440.41 410.28 L438.59 405.48 L436.77 400.82 L434.95 396.29 L433.13 391.88 L431.31 387.60 L429.49 383.42 L427.68 379.36 L425.86 375.40 L424.04 371.55 L422.22 367.79 L420.40 364.12 L418.58 360.54 L416.76 357.04 L414.95 353.62 L413.13 350.28 L411.31 347.01 L409.49 343.79 L407.67 340.65 L405.85 337.56 L404.03 334.54 L402.22 331.58 L400.40 328.68 L398.58 325.84 L396.76 323.06 L394.94 320.34 L393.12 317.68 L391.30 315.07 L389.48 312.52 L387.67 310.03 L385.85 307.59 L384.03 305.20 L382.21 302.88 L380.39 300.60 L378.57 298.38 L376.75 296.21 L374.94 294.09 L373.12 292.02 L371.30 290.00 L369.48 288.03 L367.66 286.11 L365.84 284.24 L364.02 282.41 L362.21 280.64 L360.39 278.91 L358.57 277.22 L356.75 275.58 L354.93 273.98 L353.11 272.43 L351.29 270.92 L349.48 269.45 L347.66 268.02 L345.84 266.64 L344.02 265.29 L342.20 263.99 L340.38 262.72 L338.56 261.49 L336.74 260.30 L334.93 259.14 L333.11 258.03 L331.29 256.94 L329.47 255.90 L327.65 254.88 L325.83 253.90 L324.01 252.96 L322.20 252.04 L320.38 251.16 L318.56 250.31 L316.74 249.49 L314.92 248.69 L313.10 247.93 L311.28 247.20 L309.47 246.49 L307.65 245.81 L305.83 245.16 L304.01 244.53 L302.19 243.93 L300.37 243.35 L298.55 242.79 L296.74 242.26 L294.92 241.75 L293.10 241.26 L291.28 240.80 L289.46 240.35 L287.64 239.92 L285.82 239.52 L284.01 239.13 L282.19 238.76 L280.37 238.40 L278.55 238.06 L276.73 237.74 L274.91 237.43 L273.09 237.14 L271.27 236.86 L269.46 236.60 L267.64 236.34 L265.82 236.10 L264.00 235.87 L262.18 235.65 L260.36 235.44 L258.54 235.24 L256.73 235.05 L254.91 234.87 L253.09 234.70 L251.27 234.54 L249.45 234.39 L247.63 234.25 L245.81 234.12 L244.00 234.00 L242.18 233.89 L240.36 233.78 L238.54 233.69 L236.72 233.60 L234.90 233.53 L233.08 233.46 L231.27 233.40 L229.45 233.36 L227.63 233.32 L225.81 233.28 L223.99 233.26 L222.17 233.25 L220.35 233.24 L218.53 233.24 L216.72 233.25 L214.90 233.27 L213.08 233.30 L211.26 233.34 L209.44 233.38 L207.62 233.43 L205.80 233.49 L203.99 233.56 L202.17 233.63 L200.35 233.72 L198.53 233.81 L196.71 233.90 L194.89 234.01 L193.07 234.12 L191.26 234.24 L189.44 234.37 L187.62 234.50 L185.80 234.64 L183.98 234.79 L182.16 234.94 L180.34 235.11 L178.53 235.27 L176.71 235.45 L174.89 235.63 L173.07 235.82 L171.25 236.01 L169.43 236.21 L167.61 236.42 L165.79 236.63 L163.98 236.85 L162.16 237.08 L160.34 237.31 L158.52 237.55 L156.70 237.79 L154.88 238.04 L153.06 238.29 L151.25 238.56 L149.43 238.82 L147.61 239.09 L145.79 239.37 L143.97 239.65 L142.15 239.94 L140.33 240.23 L138.52 240.53 L136.70 240.83 L134.88 241.14 L133.06 241.45 L131.24 241.77 L129.42 242.09 L127.60 242.41 L125.79 242.75 L123.97 243.08 L122.15 243.42 L120.33 243.76 L118.51 244.11 L116.69 244.47 L114.87 244.82 L113.05 245.18 L111.24 245.55 L109.42 245.92 L107.60 246.29 L105.78 246.66 L103.96 247.04 L102.14 247.43 L100.32 247.81 L98.51 248.20 L96.69 248.60 L94.87 248.99 L93.05 249.40" fill="none" stroke="#ff0000" stroke-width="3.2" stroke-dasharray="29.3 17.5" stroke-linecap="round" stroke-linejoin="round"/>
<g stroke="#000" stroke-width="1" fill="none">
<line x1="67.0" y1="56.0" x2="67.0" y2="843.5"/>
<line x1="66.5" y1="843.5" x2="988.5" y2="843.5"/>
<line x1="238.00" y1="843.5" x2="238.00" y2="838.0"/><line x1="431.00" y1="843.5" x2="431.00" y2="838.0"/><line x1="624.20" y1="843.5" x2="624.20" y2="838.0"/><line x1="817.50" y1="843.5" x2="817.50" y2="838.0"/><line x1="67.0" y1="821.50" x2="72.0" y2="821.50"/><line x1="67.0" y1="703.10" x2="72.0" y2="703.10"/><line x1="67.0" y1="585.00" x2="72.0" y2="585.00"/><line x1="67.0" y1="466.50" x2="72.0" y2="466.50"/><line x1="67.0" y1="348.60" x2="72.0" y2="348.60"/><line x1="67.0" y1="230.50" x2="72.0" y2="230.50"/><line x1="67.0" y1="112.50" x2="72.0" y2="112.50"/>
</g>
<g font-family="DejaVu Sans, sans-serif" font-size="12" fill="#000" style="will-change:transform"><text x="238.00" y="862.6" text-anchor="middle">450</text><text x="431.00" y="862.6" text-anchor="middle">452</text><text x="624.20" y="862.6" text-anchor="middle">454</text><text x="817.50" y="862.6" text-anchor="middle">456</text><text x="52.9" y="825.80" text-anchor="end">455</text><text x="52.9" y="707.40" text-anchor="end">460</text><text x="52.9" y="589.30" text-anchor="end">465</text><text x="52.9" y="470.80" text-anchor="end">470</text><text x="52.9" y="352.90" text-anchor="end">475</text><text x="52.9" y="234.80" text-anchor="end">480</text><text x="52.9" y="116.80" text-anchor="end">485</text></g>
<g font-family="DejaVu Sans, sans-serif" font-size="16.2" fill="#000" style="will-change:transform">
<text x="528.5" y="886" text-anchor="middle">T_avg (°F)</text>
<text transform="translate(11.8 449.3) rotate(-90)" text-anchor="middle">T_hot (°F)</text>
</g>
<g font-family="DejaVu Sans, sans-serif" font-size="20.8" fill="#000" text-anchor="middle" style="will-change:transform">
<text x="527.75" y="24">Phase Portrait: T_hot vs T_avg</text>
<text x="527.75" y="45.8">(SG1 efficiency uncertainty: Q1 ∈ [45, 55])</text>
</g>
<g>
<path d="M718 82.8 H957.5 V134.5 H718 Z" fill="#fff" stroke="#000" stroke-width="1"/>
<rect x="728.3" y="90.8" width="61" height="9.7" rx="1" fill="#800080" fill-opacity="0.25" stroke="#000" stroke-width="3.2"/>
<path d="M727.8 108.7 H789.7" stroke="#0000ff" stroke-width="3.2" stroke-dasharray="29.3 17.5" stroke-linecap="round"/>
<path d="M727.8 121.6 H789.7" stroke="#ff0000" stroke-width="3.2" stroke-dasharray="29.3 17.5" stroke-linecap="round"/>
<g font-family="DejaVu Sans, sans-serif" font-size="11.8" fill="#000" style="will-change:transform">
<text x="799.4" y="100">Reachable region</text>
<text x="799.4" y="112.9">Q1 = 45 (low efficiency)</text>
<text x="799.4" y="125.8">Q1 = 55 (high efficiency)</text>
</g>
</g>
</svg></body></html>
